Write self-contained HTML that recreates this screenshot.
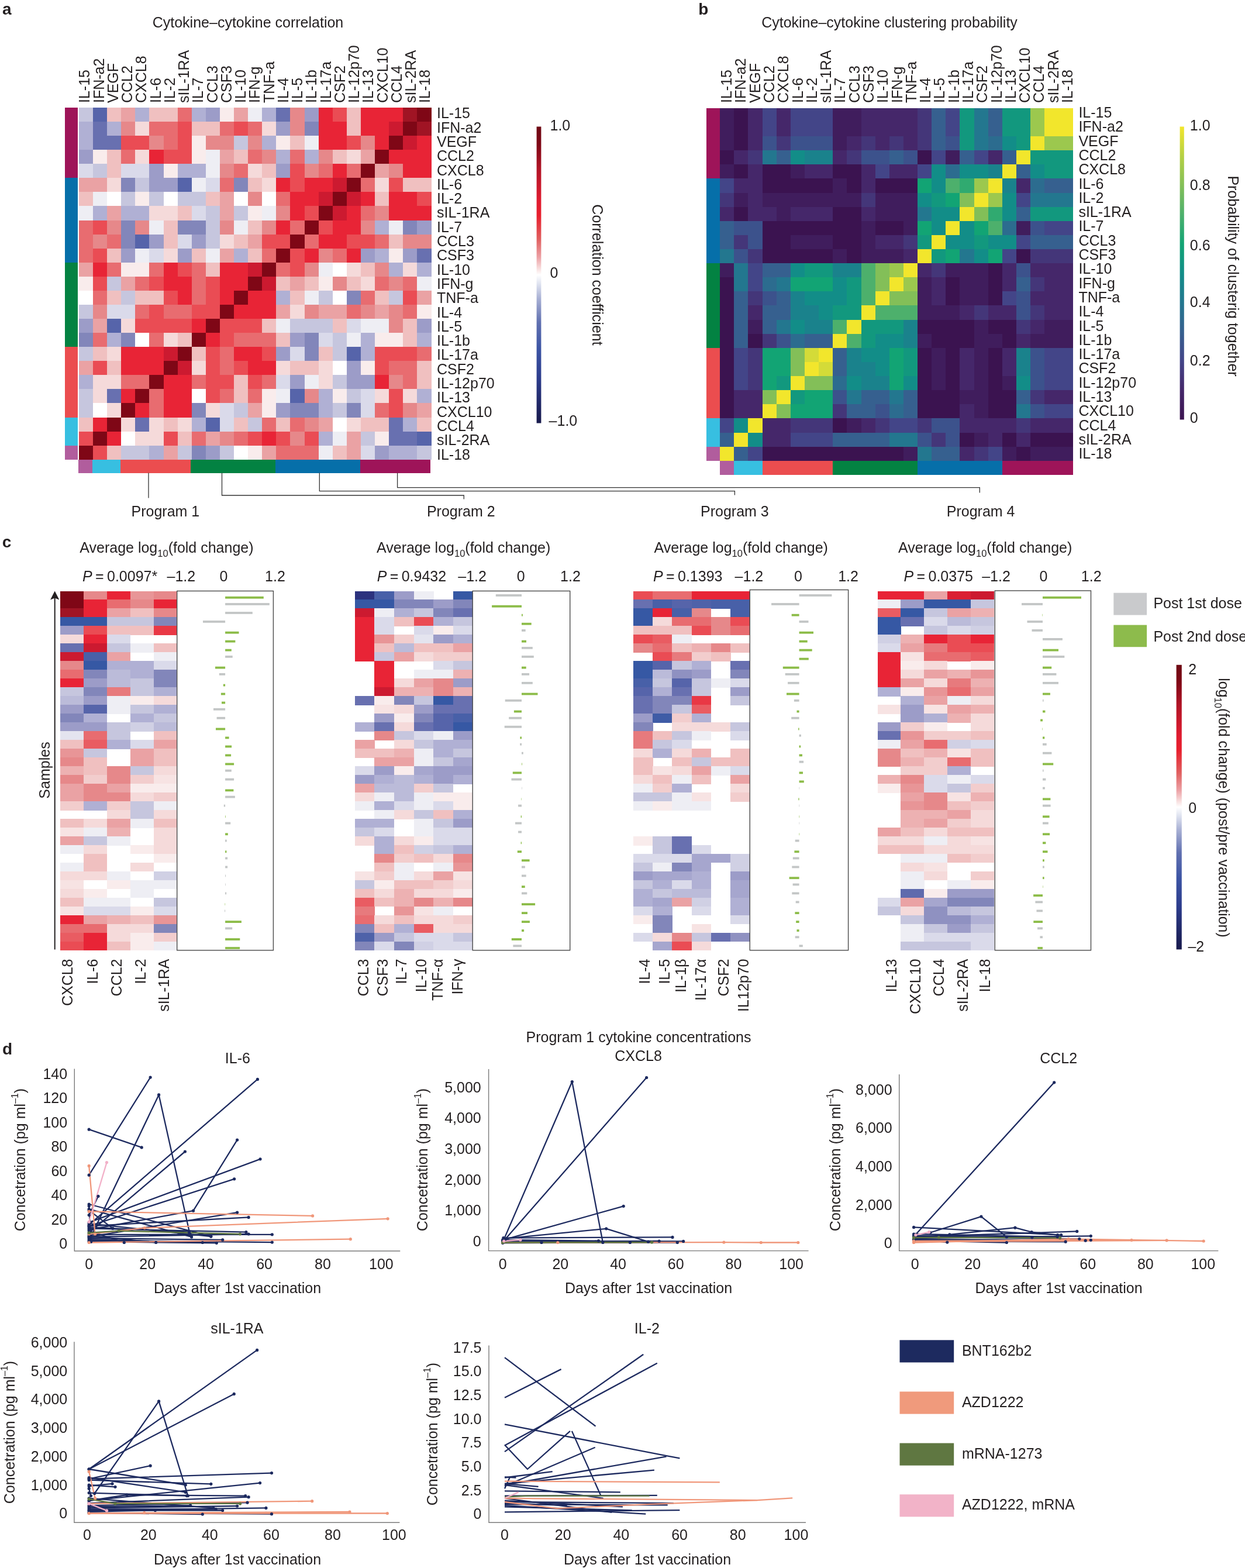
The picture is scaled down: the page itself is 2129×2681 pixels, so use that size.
<!DOCTYPE html>
<html lang="en"><head><meta charset="utf-8"><title>Cytokine programs after vaccination</title>
<style>html,body{margin:0;padding:0;background:#fff}body{width:2129px;height:2681px;overflow:hidden}svg{display:block}text{white-space:pre}</style>
</head><body>
<svg width="2129" height="2681" viewBox="0 0 2129 2681" font-family="'Liberation Sans', Arial, Helvetica, sans-serif">
<rect width="2129" height="2681" fill="#fff"/>
<defs>
<linearGradient id="gRB" x1="0" y1="0" x2="0" y2="1">
<stop offset="0" stop-color="#6e0a14"/><stop offset="0.06" stop-color="#7f0716"/><stop offset="0.14" stop-color="#b01426"/><stop offset="0.25" stop-color="#e01c30"/><stop offset="0.30" stop-color="#e8202e"/><stop offset="0.38" stop-color="#e06060"/><stop offset="0.44" stop-color="#eca0a4"/><stop offset="0.48" stop-color="#f8e0e0"/><stop offset="0.5" stop-color="#ffffff"/><stop offset="0.53" stop-color="#dfe3f0"/><stop offset="0.58" stop-color="#a8b0d4"/><stop offset="0.66" stop-color="#6070b0"/><stop offset="0.75" stop-color="#3c54a4"/><stop offset="0.85" stop-color="#2c3c8c"/><stop offset="0.95" stop-color="#1e2460"/><stop offset="1" stop-color="#181a4c"/>
</linearGradient>
<linearGradient id="gV" x1="0" y1="1" x2="0" y2="0">
<stop offset="0.0" stop-color="#3b1350"/><stop offset="0.1" stop-color="#45276a"/><stop offset="0.2" stop-color="#434588"/><stop offset="0.3" stop-color="#36608f"/><stop offset="0.4" stop-color="#23778f"/><stop offset="0.5" stop-color="#128d88"/><stop offset="0.6" stop-color="#12a474"/><stop offset="0.7" stop-color="#4db06c"/><stop offset="0.8" stop-color="#83bf58"/><stop offset="0.9" stop-color="#b5d044"/><stop offset="1.0" stop-color="#f2e62c"/>
</linearGradient>
</defs>
<text x="4.00" y="24.60" font-size="28" font-weight="bold" fill="#231f20">a</text>
<text x="424.00" y="46.70" font-size="25" text-anchor="middle" fill="#231f20">Cytokine–cytokine correlation</text>
<g shape-rendering="crispEdges">
<rect x="134.90" y="184.00" width="24.70" height="24.67" fill="#c6c6de"/>
<rect x="159.00" y="184.00" width="24.70" height="24.67" fill="#5664aa"/>
<rect x="183.10" y="184.00" width="24.70" height="24.67" fill="#f0c0c0"/>
<rect x="207.20" y="184.00" width="24.70" height="24.67" fill="#eaa2a4"/>
<rect x="231.30" y="184.00" width="24.70" height="24.67" fill="#b0b0d4"/>
<rect x="255.40" y="184.00" width="48.80" height="24.67" fill="#f0c0c0"/>
<rect x="303.60" y="184.00" width="24.70" height="24.67" fill="#e86c70"/>
<rect x="327.70" y="184.00" width="24.70" height="24.67" fill="#b0b0d4"/>
<rect x="351.80" y="184.00" width="24.70" height="24.67" fill="#9c9cc8"/>
<rect x="375.90" y="184.00" width="24.70" height="24.67" fill="#f9ecec"/>
<rect x="400.00" y="184.00" width="24.70" height="24.67" fill="#eaa2a4"/>
<rect x="424.10" y="184.00" width="24.70" height="24.67" fill="#eeeef4"/>
<rect x="448.20" y="184.00" width="24.70" height="24.67" fill="#b0b0d4"/>
<rect x="472.30" y="184.00" width="24.70" height="24.67" fill="#6870b0"/>
<rect x="496.40" y="184.00" width="24.70" height="24.67" fill="#e6888a"/>
<rect x="520.50" y="184.00" width="24.70" height="24.67" fill="#9c9cc8"/>
<rect x="544.60" y="184.00" width="24.70" height="24.67" fill="#e82436"/>
<rect x="568.70" y="184.00" width="24.70" height="24.67" fill="#ea4c54"/>
<rect x="592.80" y="184.00" width="24.70" height="24.67" fill="#f0c0c0"/>
<rect x="616.90" y="184.00" width="72.90" height="24.67" fill="#e82436"/>
<rect x="689.20" y="184.00" width="24.70" height="24.67" fill="#a01424"/>
<rect x="713.30" y="184.00" width="24.70" height="24.67" fill="#7f0716"/>
<rect x="134.90" y="208.07" width="24.70" height="24.67" fill="#b0b0d4"/>
<rect x="159.00" y="208.07" width="24.70" height="24.67" fill="#6870b0"/>
<rect x="183.10" y="208.07" width="24.70" height="24.67" fill="#b0b0d4"/>
<rect x="207.20" y="208.07" width="24.70" height="24.67" fill="#e6888a"/>
<rect x="231.30" y="208.07" width="24.70" height="24.67" fill="#f5dada"/>
<rect x="255.40" y="208.07" width="48.80" height="24.67" fill="#e86c70"/>
<rect x="303.60" y="208.07" width="24.70" height="24.67" fill="#ea4c54"/>
<rect x="327.70" y="208.07" width="48.80" height="24.67" fill="#f0c0c0"/>
<rect x="375.90" y="208.07" width="24.70" height="24.67" fill="#e86c70"/>
<rect x="400.00" y="208.07" width="24.70" height="24.67" fill="#ea4c54"/>
<rect x="424.10" y="208.07" width="24.70" height="24.67" fill="#e86c70"/>
<rect x="448.20" y="208.07" width="24.70" height="24.67" fill="#f5dada"/>
<rect x="472.30" y="208.07" width="24.70" height="24.67" fill="#9c9cc8"/>
<rect x="496.40" y="208.07" width="24.70" height="24.67" fill="#e6888a"/>
<rect x="520.50" y="208.07" width="24.70" height="24.67" fill="#8286ba"/>
<rect x="544.60" y="208.07" width="48.80" height="24.67" fill="#e82436"/>
<rect x="592.80" y="208.07" width="24.70" height="24.67" fill="#f0c0c0"/>
<rect x="616.90" y="208.07" width="48.80" height="24.67" fill="#e82436"/>
<rect x="665.10" y="208.07" width="24.70" height="24.67" fill="#cc1a30"/>
<rect x="689.20" y="208.07" width="24.70" height="24.67" fill="#7f0716"/>
<rect x="713.30" y="208.07" width="24.70" height="24.67" fill="#a01424"/>
<rect x="134.90" y="232.14" width="24.70" height="24.67" fill="#b0b0d4"/>
<rect x="159.00" y="232.14" width="48.80" height="24.67" fill="#6870b0"/>
<rect x="207.20" y="232.14" width="48.80" height="24.67" fill="#ea4c54"/>
<rect x="255.40" y="232.14" width="24.70" height="24.67" fill="#e6888a"/>
<rect x="279.50" y="232.14" width="24.70" height="24.67" fill="#e86c70"/>
<rect x="303.60" y="232.14" width="24.70" height="24.67" fill="#ea4c54"/>
<rect x="327.70" y="232.14" width="24.70" height="24.67" fill="#f9ecec"/>
<rect x="351.80" y="232.14" width="48.80" height="24.67" fill="#e6888a"/>
<rect x="400.00" y="232.14" width="24.70" height="24.67" fill="#c6c6de"/>
<rect x="424.10" y="232.14" width="24.70" height="24.67" fill="#e6888a"/>
<rect x="448.20" y="232.14" width="24.70" height="24.67" fill="#b0b0d4"/>
<rect x="472.30" y="232.14" width="24.70" height="24.67" fill="#f9ecec"/>
<rect x="496.40" y="232.14" width="24.70" height="24.67" fill="#f0c0c0"/>
<rect x="520.50" y="232.14" width="24.70" height="24.67" fill="#eeeef4"/>
<rect x="544.60" y="232.14" width="48.80" height="24.67" fill="#e82436"/>
<rect x="592.80" y="232.14" width="24.70" height="24.67" fill="#ea4c54"/>
<rect x="616.90" y="232.14" width="24.70" height="24.67" fill="#e6888a"/>
<rect x="641.00" y="232.14" width="24.70" height="24.67" fill="#e82436"/>
<rect x="665.10" y="232.14" width="24.70" height="24.67" fill="#7f0716"/>
<rect x="689.20" y="232.14" width="24.70" height="24.67" fill="#cc1a30"/>
<rect x="713.30" y="232.14" width="24.70" height="24.67" fill="#e82436"/>
<rect x="134.90" y="256.21" width="24.70" height="24.67" fill="#9c9cc8"/>
<rect x="159.00" y="256.21" width="24.70" height="24.67" fill="#f9ecec"/>
<rect x="183.10" y="256.21" width="24.70" height="24.67" fill="#f0c0c0"/>
<rect x="207.20" y="256.21" width="24.70" height="24.67" fill="#e86c70"/>
<rect x="231.30" y="256.21" width="24.70" height="24.67" fill="#f5dada"/>
<rect x="255.40" y="256.21" width="24.70" height="24.67" fill="#e82436"/>
<rect x="279.50" y="256.21" width="48.80" height="24.67" fill="#ea4c54"/>
<rect x="327.70" y="256.21" width="24.70" height="24.67" fill="#f9ecec"/>
<rect x="351.80" y="256.21" width="24.70" height="24.67" fill="#eeeef4"/>
<rect x="375.90" y="256.21" width="24.70" height="24.67" fill="#eaa2a4"/>
<rect x="400.00" y="256.21" width="24.70" height="24.67" fill="#f0c0c0"/>
<rect x="424.10" y="256.21" width="24.70" height="24.67" fill="#e86c70"/>
<rect x="448.20" y="256.21" width="24.70" height="24.67" fill="#e6888a"/>
<rect x="472.30" y="256.21" width="24.70" height="24.67" fill="#b0b0d4"/>
<rect x="496.40" y="256.21" width="24.70" height="24.67" fill="#e86c70"/>
<rect x="520.50" y="256.21" width="24.70" height="24.67" fill="#b0b0d4"/>
<rect x="544.60" y="256.21" width="24.70" height="24.67" fill="#e6888a"/>
<rect x="568.70" y="256.21" width="24.70" height="24.67" fill="#f0c0c0"/>
<rect x="592.80" y="256.21" width="24.70" height="24.67" fill="#f5dada"/>
<rect x="616.90" y="256.21" width="24.70" height="24.67" fill="#eaa2a4"/>
<rect x="641.00" y="256.21" width="24.70" height="24.67" fill="#7f0716"/>
<rect x="665.10" y="256.21" width="72.90" height="24.67" fill="#e82436"/>
<rect x="134.90" y="280.28" width="24.70" height="24.67" fill="#dadaea"/>
<rect x="159.00" y="280.28" width="24.70" height="24.67" fill="#c6c6de"/>
<rect x="183.10" y="280.28" width="24.70" height="24.67" fill="#f0c0c0"/>
<rect x="207.20" y="280.28" width="48.80" height="24.67" fill="#dadaea"/>
<rect x="255.40" y="280.28" width="24.70" height="24.67" fill="#9c9cc8"/>
<rect x="279.50" y="280.28" width="24.70" height="24.67" fill="#f9ecec"/>
<rect x="303.60" y="280.28" width="48.80" height="24.67" fill="#b0b0d4"/>
<rect x="351.80" y="280.28" width="24.70" height="24.67" fill="#eeeef4"/>
<rect x="375.90" y="280.28" width="24.70" height="24.67" fill="#e6888a"/>
<rect x="400.00" y="280.28" width="24.70" height="24.67" fill="#e86c70"/>
<rect x="424.10" y="280.28" width="24.70" height="24.67" fill="#f5dada"/>
<rect x="448.20" y="280.28" width="24.70" height="24.67" fill="#f0c0c0"/>
<rect x="472.30" y="280.28" width="24.70" height="24.67" fill="#9c9cc8"/>
<rect x="496.40" y="280.28" width="24.70" height="24.67" fill="#ea4c54"/>
<rect x="520.50" y="280.28" width="24.70" height="24.67" fill="#e6888a"/>
<rect x="544.60" y="280.28" width="24.70" height="24.67" fill="#e86c70"/>
<rect x="568.70" y="280.28" width="24.70" height="24.67" fill="#e82436"/>
<rect x="592.80" y="280.28" width="24.70" height="24.67" fill="#e86c70"/>
<rect x="616.90" y="280.28" width="24.70" height="24.67" fill="#7f0716"/>
<rect x="641.00" y="280.28" width="24.70" height="24.67" fill="#eaa2a4"/>
<rect x="665.10" y="280.28" width="24.70" height="24.67" fill="#e6888a"/>
<rect x="689.20" y="280.28" width="48.80" height="24.67" fill="#e82436"/>
<rect x="134.90" y="304.35" width="48.80" height="24.67" fill="#eaa2a4"/>
<rect x="183.10" y="304.35" width="24.70" height="24.67" fill="#f5dada"/>
<rect x="207.20" y="304.35" width="24.70" height="24.67" fill="#8286ba"/>
<rect x="231.30" y="304.35" width="24.70" height="24.67" fill="#c6c6de"/>
<rect x="255.40" y="304.35" width="48.80" height="24.67" fill="#9c9cc8"/>
<rect x="303.60" y="304.35" width="24.70" height="24.67" fill="#5664aa"/>
<rect x="327.70" y="304.35" width="24.70" height="24.67" fill="#eeeef4"/>
<rect x="351.80" y="304.35" width="24.70" height="24.67" fill="#dadaea"/>
<rect x="375.90" y="304.35" width="24.70" height="24.67" fill="#e86c70"/>
<rect x="400.00" y="304.35" width="24.70" height="24.67" fill="#8286ba"/>
<rect x="424.10" y="304.35" width="24.70" height="24.67" fill="#f0c0c0"/>
<rect x="448.20" y="304.35" width="24.70" height="24.67" fill="#f5dada"/>
<rect x="472.30" y="304.35" width="24.70" height="24.67" fill="#e82436"/>
<rect x="496.40" y="304.35" width="24.70" height="24.67" fill="#ea4c54"/>
<rect x="520.50" y="304.35" width="48.80" height="24.67" fill="#e82436"/>
<rect x="568.70" y="304.35" width="24.70" height="24.67" fill="#cc1a30"/>
<rect x="592.80" y="304.35" width="24.70" height="24.67" fill="#7f0716"/>
<rect x="616.90" y="304.35" width="24.70" height="24.67" fill="#e86c70"/>
<rect x="641.00" y="304.35" width="24.70" height="24.67" fill="#f5dada"/>
<rect x="665.10" y="304.35" width="24.70" height="24.67" fill="#ea4c54"/>
<rect x="689.20" y="304.35" width="48.80" height="24.67" fill="#f0c0c0"/>
<rect x="134.90" y="328.42" width="24.70" height="24.67" fill="#f0c0c0"/>
<rect x="159.00" y="328.42" width="24.70" height="24.67" fill="#eeeef4"/>
<rect x="183.10" y="328.42" width="24.70" height="24.67" fill="#ffffff"/>
<rect x="207.20" y="328.42" width="24.70" height="24.67" fill="#c6c6de"/>
<rect x="231.30" y="328.42" width="24.70" height="24.67" fill="#f9ecec"/>
<rect x="255.40" y="328.42" width="24.70" height="24.67" fill="#c6c6de"/>
<rect x="279.50" y="328.42" width="24.70" height="24.67" fill="#ffffff"/>
<rect x="303.60" y="328.42" width="48.80" height="24.67" fill="#c6c6de"/>
<rect x="351.80" y="328.42" width="24.70" height="24.67" fill="#f0c0c0"/>
<rect x="375.90" y="328.42" width="24.70" height="24.67" fill="#eaa2a4"/>
<rect x="400.00" y="328.42" width="24.70" height="24.67" fill="#ffffff"/>
<rect x="424.10" y="328.42" width="24.70" height="24.67" fill="#e6888a"/>
<rect x="448.20" y="328.42" width="24.70" height="24.67" fill="#ffffff"/>
<rect x="472.30" y="328.42" width="24.70" height="24.67" fill="#e86c70"/>
<rect x="496.40" y="328.42" width="48.80" height="24.67" fill="#e82436"/>
<rect x="544.60" y="328.42" width="24.70" height="24.67" fill="#cc1a30"/>
<rect x="568.70" y="328.42" width="24.70" height="24.67" fill="#7f0716"/>
<rect x="592.80" y="328.42" width="24.70" height="24.67" fill="#cc1a30"/>
<rect x="616.90" y="328.42" width="24.70" height="24.67" fill="#e82436"/>
<rect x="641.00" y="328.42" width="24.70" height="24.67" fill="#f0c0c0"/>
<rect x="665.10" y="328.42" width="48.80" height="24.67" fill="#e82436"/>
<rect x="713.30" y="328.42" width="24.70" height="24.67" fill="#ea4c54"/>
<rect x="134.90" y="352.49" width="24.70" height="24.67" fill="#eeeef4"/>
<rect x="159.00" y="352.49" width="24.70" height="24.67" fill="#b0b0d4"/>
<rect x="183.10" y="352.49" width="24.70" height="24.67" fill="#eaa2a4"/>
<rect x="207.20" y="352.49" width="48.80" height="24.67" fill="#b0b0d4"/>
<rect x="255.40" y="352.49" width="48.80" height="24.67" fill="#f5dada"/>
<rect x="303.60" y="352.49" width="24.70" height="24.67" fill="#f0c0c0"/>
<rect x="327.70" y="352.49" width="24.70" height="24.67" fill="#dadaea"/>
<rect x="351.80" y="352.49" width="24.70" height="24.67" fill="#c6c6de"/>
<rect x="375.90" y="352.49" width="24.70" height="24.67" fill="#eaa2a4"/>
<rect x="400.00" y="352.49" width="24.70" height="24.67" fill="#c6c6de"/>
<rect x="424.10" y="352.49" width="24.70" height="24.67" fill="#f9ecec"/>
<rect x="448.20" y="352.49" width="24.70" height="24.67" fill="#eeeef4"/>
<rect x="472.30" y="352.49" width="24.70" height="24.67" fill="#e6888a"/>
<rect x="496.40" y="352.49" width="24.70" height="24.67" fill="#e82436"/>
<rect x="520.50" y="352.49" width="24.70" height="24.67" fill="#ea4c54"/>
<rect x="544.60" y="352.49" width="24.70" height="24.67" fill="#7f0716"/>
<rect x="568.70" y="352.49" width="24.70" height="24.67" fill="#cc1a30"/>
<rect x="592.80" y="352.49" width="24.70" height="24.67" fill="#e82436"/>
<rect x="616.90" y="352.49" width="24.70" height="24.67" fill="#e86c70"/>
<rect x="641.00" y="352.49" width="24.70" height="24.67" fill="#e6888a"/>
<rect x="665.10" y="352.49" width="72.90" height="24.67" fill="#e82436"/>
<rect x="134.90" y="376.56" width="24.70" height="24.67" fill="#e86c70"/>
<rect x="159.00" y="376.56" width="24.70" height="24.67" fill="#ea4c54"/>
<rect x="183.10" y="376.56" width="24.70" height="24.67" fill="#e6888a"/>
<rect x="207.20" y="376.56" width="24.70" height="24.67" fill="#8286ba"/>
<rect x="231.30" y="376.56" width="24.70" height="24.67" fill="#e6888a"/>
<rect x="255.40" y="376.56" width="24.70" height="24.67" fill="#eeeef4"/>
<rect x="279.50" y="376.56" width="24.70" height="24.67" fill="#f0c0c0"/>
<rect x="303.60" y="376.56" width="48.80" height="24.67" fill="#8286ba"/>
<rect x="351.80" y="376.56" width="24.70" height="24.67" fill="#c6c6de"/>
<rect x="375.90" y="376.56" width="24.70" height="24.67" fill="#e6888a"/>
<rect x="400.00" y="376.56" width="24.70" height="24.67" fill="#eeeef4"/>
<rect x="424.10" y="376.56" width="24.70" height="24.67" fill="#f0c0c0"/>
<rect x="448.20" y="376.56" width="24.70" height="24.67" fill="#e6888a"/>
<rect x="472.30" y="376.56" width="24.70" height="24.67" fill="#e82436"/>
<rect x="496.40" y="376.56" width="24.70" height="24.67" fill="#e86c70"/>
<rect x="520.50" y="376.56" width="24.70" height="24.67" fill="#7f0716"/>
<rect x="544.60" y="376.56" width="24.70" height="24.67" fill="#ea4c54"/>
<rect x="568.70" y="376.56" width="48.80" height="24.67" fill="#e82436"/>
<rect x="616.90" y="376.56" width="24.70" height="24.67" fill="#e6888a"/>
<rect x="641.00" y="376.56" width="24.70" height="24.67" fill="#b0b0d4"/>
<rect x="665.10" y="376.56" width="24.70" height="24.67" fill="#eeeef4"/>
<rect x="689.20" y="376.56" width="24.70" height="24.67" fill="#8286ba"/>
<rect x="713.30" y="376.56" width="24.70" height="24.67" fill="#9c9cc8"/>
<rect x="134.90" y="400.63" width="24.70" height="24.67" fill="#e86c70"/>
<rect x="159.00" y="400.63" width="24.70" height="24.67" fill="#e6888a"/>
<rect x="183.10" y="400.63" width="24.70" height="24.67" fill="#e86c70"/>
<rect x="207.20" y="400.63" width="24.70" height="24.67" fill="#8286ba"/>
<rect x="231.30" y="400.63" width="24.70" height="24.67" fill="#5664aa"/>
<rect x="255.40" y="400.63" width="24.70" height="24.67" fill="#9c9cc8"/>
<rect x="279.50" y="400.63" width="24.70" height="24.67" fill="#f0c0c0"/>
<rect x="303.60" y="400.63" width="24.70" height="24.67" fill="#dadaea"/>
<rect x="327.70" y="400.63" width="24.70" height="24.67" fill="#9c9cc8"/>
<rect x="351.80" y="400.63" width="24.70" height="24.67" fill="#c6c6de"/>
<rect x="375.90" y="400.63" width="24.70" height="24.67" fill="#f5dada"/>
<rect x="400.00" y="400.63" width="24.70" height="24.67" fill="#f0c0c0"/>
<rect x="424.10" y="400.63" width="24.70" height="24.67" fill="#eaa2a4"/>
<rect x="448.20" y="400.63" width="48.80" height="24.67" fill="#ea4c54"/>
<rect x="496.40" y="400.63" width="24.70" height="24.67" fill="#7f0716"/>
<rect x="520.50" y="400.63" width="24.70" height="24.67" fill="#e86c70"/>
<rect x="544.60" y="400.63" width="48.80" height="24.67" fill="#e82436"/>
<rect x="592.80" y="400.63" width="48.80" height="24.67" fill="#ea4c54"/>
<rect x="641.00" y="400.63" width="24.70" height="24.67" fill="#e86c70"/>
<rect x="665.10" y="400.63" width="24.70" height="24.67" fill="#f0c0c0"/>
<rect x="689.20" y="400.63" width="48.80" height="24.67" fill="#e6888a"/>
<rect x="134.90" y="424.70" width="24.70" height="24.67" fill="#e86c70"/>
<rect x="159.00" y="424.70" width="24.70" height="24.67" fill="#ea4c54"/>
<rect x="183.10" y="424.70" width="24.70" height="24.67" fill="#f0c0c0"/>
<rect x="207.20" y="424.70" width="24.70" height="24.67" fill="#9c9cc8"/>
<rect x="231.30" y="424.70" width="24.70" height="24.67" fill="#eeeef4"/>
<rect x="255.40" y="424.70" width="24.70" height="24.67" fill="#dadaea"/>
<rect x="279.50" y="424.70" width="24.70" height="24.67" fill="#f5dada"/>
<rect x="303.60" y="424.70" width="24.70" height="24.67" fill="#9c9cc8"/>
<rect x="327.70" y="424.70" width="24.70" height="24.67" fill="#f0c0c0"/>
<rect x="351.80" y="424.70" width="24.70" height="24.67" fill="#eeeef4"/>
<rect x="375.90" y="424.70" width="24.70" height="24.67" fill="#eaa2a4"/>
<rect x="400.00" y="424.70" width="24.70" height="24.67" fill="#b0b0d4"/>
<rect x="424.10" y="424.70" width="24.70" height="24.67" fill="#f0c0c0"/>
<rect x="448.20" y="424.70" width="24.70" height="24.67" fill="#e86c70"/>
<rect x="472.30" y="424.70" width="24.70" height="24.67" fill="#7f0716"/>
<rect x="496.40" y="424.70" width="24.70" height="24.67" fill="#ea4c54"/>
<rect x="520.50" y="424.70" width="24.70" height="24.67" fill="#e82436"/>
<rect x="544.60" y="424.70" width="24.70" height="24.67" fill="#e6888a"/>
<rect x="568.70" y="424.70" width="24.70" height="24.67" fill="#e86c70"/>
<rect x="592.80" y="424.70" width="24.70" height="24.67" fill="#e82436"/>
<rect x="616.90" y="424.70" width="24.70" height="24.67" fill="#9c9cc8"/>
<rect x="641.00" y="424.70" width="24.70" height="24.67" fill="#b0b0d4"/>
<rect x="665.10" y="424.70" width="24.70" height="24.67" fill="#f9ecec"/>
<rect x="689.20" y="424.70" width="24.70" height="24.67" fill="#9c9cc8"/>
<rect x="713.30" y="424.70" width="24.70" height="24.67" fill="#6870b0"/>
<rect x="134.90" y="448.77" width="24.70" height="24.67" fill="#eaa2a4"/>
<rect x="159.00" y="448.77" width="24.70" height="24.67" fill="#e82436"/>
<rect x="183.10" y="448.77" width="24.70" height="24.67" fill="#e86c70"/>
<rect x="207.20" y="448.77" width="48.80" height="24.67" fill="#f9ecec"/>
<rect x="255.40" y="448.77" width="24.70" height="24.67" fill="#e86c70"/>
<rect x="279.50" y="448.77" width="24.70" height="24.67" fill="#e82436"/>
<rect x="303.60" y="448.77" width="24.70" height="24.67" fill="#ea4c54"/>
<rect x="327.70" y="448.77" width="24.70" height="24.67" fill="#e86c70"/>
<rect x="351.80" y="448.77" width="24.70" height="24.67" fill="#f0c0c0"/>
<rect x="375.90" y="448.77" width="48.80" height="24.67" fill="#e82436"/>
<rect x="424.10" y="448.77" width="24.70" height="24.67" fill="#cc1a30"/>
<rect x="448.20" y="448.77" width="24.70" height="24.67" fill="#7f0716"/>
<rect x="472.30" y="448.77" width="24.70" height="24.67" fill="#e86c70"/>
<rect x="496.40" y="448.77" width="24.70" height="24.67" fill="#ea4c54"/>
<rect x="520.50" y="448.77" width="24.70" height="24.67" fill="#e6888a"/>
<rect x="544.60" y="448.77" width="24.70" height="24.67" fill="#eeeef4"/>
<rect x="568.70" y="448.77" width="24.70" height="24.67" fill="#ffffff"/>
<rect x="592.80" y="448.77" width="24.70" height="24.67" fill="#f5dada"/>
<rect x="616.90" y="448.77" width="24.70" height="24.67" fill="#f0c0c0"/>
<rect x="641.00" y="448.77" width="24.70" height="24.67" fill="#e6888a"/>
<rect x="665.10" y="448.77" width="24.70" height="24.67" fill="#b0b0d4"/>
<rect x="689.20" y="448.77" width="24.70" height="24.67" fill="#f5dada"/>
<rect x="713.30" y="448.77" width="24.70" height="24.67" fill="#b0b0d4"/>
<rect x="134.90" y="472.84" width="24.70" height="24.67" fill="#f9ecec"/>
<rect x="159.00" y="472.84" width="24.70" height="24.67" fill="#ea4c54"/>
<rect x="183.10" y="472.84" width="24.70" height="24.67" fill="#c6c6de"/>
<rect x="207.20" y="472.84" width="24.70" height="24.67" fill="#eaa2a4"/>
<rect x="231.30" y="472.84" width="24.70" height="24.67" fill="#e86c70"/>
<rect x="255.40" y="472.84" width="24.70" height="24.67" fill="#ea4c54"/>
<rect x="279.50" y="472.84" width="48.80" height="24.67" fill="#e82436"/>
<rect x="327.70" y="472.84" width="24.70" height="24.67" fill="#e86c70"/>
<rect x="351.80" y="472.84" width="24.70" height="24.67" fill="#ea4c54"/>
<rect x="375.90" y="472.84" width="48.80" height="24.67" fill="#e82436"/>
<rect x="424.10" y="472.84" width="24.70" height="24.67" fill="#7f0716"/>
<rect x="448.20" y="472.84" width="24.70" height="24.67" fill="#cc1a30"/>
<rect x="472.30" y="472.84" width="24.70" height="24.67" fill="#f0c0c0"/>
<rect x="496.40" y="472.84" width="24.70" height="24.67" fill="#eaa2a4"/>
<rect x="520.50" y="472.84" width="24.70" height="24.67" fill="#f0c0c0"/>
<rect x="544.60" y="472.84" width="24.70" height="24.67" fill="#f9ecec"/>
<rect x="568.70" y="472.84" width="24.70" height="24.67" fill="#e6888a"/>
<rect x="592.80" y="472.84" width="24.70" height="24.67" fill="#f0c0c0"/>
<rect x="616.90" y="472.84" width="24.70" height="24.67" fill="#f5dada"/>
<rect x="641.00" y="472.84" width="24.70" height="24.67" fill="#e86c70"/>
<rect x="665.10" y="472.84" width="24.70" height="24.67" fill="#e6888a"/>
<rect x="689.20" y="472.84" width="24.70" height="24.67" fill="#e86c70"/>
<rect x="713.30" y="472.84" width="24.70" height="24.67" fill="#eeeef4"/>
<rect x="134.90" y="496.91" width="24.70" height="24.67" fill="#ffffff"/>
<rect x="159.00" y="496.91" width="24.70" height="24.67" fill="#e86c70"/>
<rect x="183.10" y="496.91" width="24.70" height="24.67" fill="#f0c0c0"/>
<rect x="207.20" y="496.91" width="24.70" height="24.67" fill="#c6c6de"/>
<rect x="231.30" y="496.91" width="48.80" height="24.67" fill="#f0c0c0"/>
<rect x="279.50" y="496.91" width="24.70" height="24.67" fill="#ea4c54"/>
<rect x="303.60" y="496.91" width="24.70" height="24.67" fill="#e82436"/>
<rect x="327.70" y="496.91" width="24.70" height="24.67" fill="#e86c70"/>
<rect x="351.80" y="496.91" width="24.70" height="24.67" fill="#ea4c54"/>
<rect x="375.90" y="496.91" width="24.70" height="24.67" fill="#e82436"/>
<rect x="400.00" y="496.91" width="24.70" height="24.67" fill="#7f0716"/>
<rect x="424.10" y="496.91" width="48.80" height="24.67" fill="#e82436"/>
<rect x="472.30" y="496.91" width="24.70" height="24.67" fill="#b0b0d4"/>
<rect x="496.40" y="496.91" width="24.70" height="24.67" fill="#f0c0c0"/>
<rect x="520.50" y="496.91" width="24.70" height="24.67" fill="#eeeef4"/>
<rect x="544.60" y="496.91" width="24.70" height="24.67" fill="#c6c6de"/>
<rect x="568.70" y="496.91" width="24.70" height="24.67" fill="#ffffff"/>
<rect x="592.80" y="496.91" width="24.70" height="24.67" fill="#8286ba"/>
<rect x="616.90" y="496.91" width="24.70" height="24.67" fill="#e86c70"/>
<rect x="641.00" y="496.91" width="24.70" height="24.67" fill="#f0c0c0"/>
<rect x="665.10" y="496.91" width="24.70" height="24.67" fill="#c6c6de"/>
<rect x="689.20" y="496.91" width="24.70" height="24.67" fill="#ea4c54"/>
<rect x="713.30" y="496.91" width="24.70" height="24.67" fill="#eaa2a4"/>
<rect x="134.90" y="520.98" width="24.70" height="24.67" fill="#c6c6de"/>
<rect x="159.00" y="520.98" width="24.70" height="24.67" fill="#e6888a"/>
<rect x="183.10" y="520.98" width="48.80" height="24.67" fill="#dadaea"/>
<rect x="231.30" y="520.98" width="24.70" height="24.67" fill="#e86c70"/>
<rect x="255.40" y="520.98" width="24.70" height="24.67" fill="#ea4c54"/>
<rect x="279.50" y="520.98" width="48.80" height="24.67" fill="#e86c70"/>
<rect x="327.70" y="520.98" width="48.80" height="24.67" fill="#ea4c54"/>
<rect x="375.90" y="520.98" width="24.70" height="24.67" fill="#7f0716"/>
<rect x="400.00" y="520.98" width="72.90" height="24.67" fill="#e82436"/>
<rect x="472.30" y="520.98" width="24.70" height="24.67" fill="#eaa2a4"/>
<rect x="496.40" y="520.98" width="24.70" height="24.67" fill="#f5dada"/>
<rect x="520.50" y="520.98" width="24.70" height="24.67" fill="#e6888a"/>
<rect x="544.60" y="520.98" width="48.80" height="24.67" fill="#eaa2a4"/>
<rect x="592.80" y="520.98" width="24.70" height="24.67" fill="#e86c70"/>
<rect x="616.90" y="520.98" width="24.70" height="24.67" fill="#e6888a"/>
<rect x="641.00" y="520.98" width="24.70" height="24.67" fill="#eaa2a4"/>
<rect x="665.10" y="520.98" width="24.70" height="24.67" fill="#e6888a"/>
<rect x="689.20" y="520.98" width="24.70" height="24.67" fill="#e86c70"/>
<rect x="713.30" y="520.98" width="24.70" height="24.67" fill="#f9ecec"/>
<rect x="134.90" y="545.05" width="24.70" height="24.67" fill="#9c9cc8"/>
<rect x="159.00" y="545.05" width="24.70" height="24.67" fill="#eaa2a4"/>
<rect x="183.10" y="545.05" width="24.70" height="24.67" fill="#5664aa"/>
<rect x="207.20" y="545.05" width="24.70" height="24.67" fill="#f5dada"/>
<rect x="231.30" y="545.05" width="97.00" height="24.67" fill="#ea4c54"/>
<rect x="327.70" y="545.05" width="24.70" height="24.67" fill="#e82436"/>
<rect x="351.80" y="545.05" width="24.70" height="24.67" fill="#7f0716"/>
<rect x="375.90" y="545.05" width="72.90" height="24.67" fill="#ea4c54"/>
<rect x="448.20" y="545.05" width="24.70" height="24.67" fill="#f0c0c0"/>
<rect x="472.30" y="545.05" width="24.70" height="24.67" fill="#eeeef4"/>
<rect x="496.40" y="545.05" width="72.90" height="24.67" fill="#c6c6de"/>
<rect x="568.70" y="545.05" width="24.70" height="24.67" fill="#f0c0c0"/>
<rect x="592.80" y="545.05" width="24.70" height="24.67" fill="#dadaea"/>
<rect x="616.90" y="545.05" width="48.80" height="24.67" fill="#eeeef4"/>
<rect x="665.10" y="545.05" width="24.70" height="24.67" fill="#e6888a"/>
<rect x="689.20" y="545.05" width="24.70" height="24.67" fill="#f0c0c0"/>
<rect x="713.30" y="545.05" width="24.70" height="24.67" fill="#9c9cc8"/>
<rect x="134.90" y="569.12" width="24.70" height="24.67" fill="#8286ba"/>
<rect x="159.00" y="569.12" width="24.70" height="24.67" fill="#e86c70"/>
<rect x="183.10" y="569.12" width="24.70" height="24.67" fill="#b0b0d4"/>
<rect x="207.20" y="569.12" width="24.70" height="24.67" fill="#8286ba"/>
<rect x="231.30" y="569.12" width="24.70" height="24.67" fill="#ffffff"/>
<rect x="255.40" y="569.12" width="24.70" height="24.67" fill="#e86c70"/>
<rect x="279.50" y="569.12" width="24.70" height="24.67" fill="#f5dada"/>
<rect x="303.60" y="569.12" width="24.70" height="24.67" fill="#f0c0c0"/>
<rect x="327.70" y="569.12" width="24.70" height="24.67" fill="#7f0716"/>
<rect x="351.80" y="569.12" width="24.70" height="24.67" fill="#e82436"/>
<rect x="375.90" y="569.12" width="24.70" height="24.67" fill="#ea4c54"/>
<rect x="400.00" y="569.12" width="72.90" height="24.67" fill="#e86c70"/>
<rect x="472.30" y="569.12" width="24.70" height="24.67" fill="#f0c0c0"/>
<rect x="496.40" y="569.12" width="24.70" height="24.67" fill="#9c9cc8"/>
<rect x="520.50" y="569.12" width="24.70" height="24.67" fill="#8286ba"/>
<rect x="544.60" y="569.12" width="24.70" height="24.67" fill="#dadaea"/>
<rect x="568.70" y="569.12" width="24.70" height="24.67" fill="#c6c6de"/>
<rect x="592.80" y="569.12" width="24.70" height="24.67" fill="#eeeef4"/>
<rect x="616.90" y="569.12" width="24.70" height="24.67" fill="#b0b0d4"/>
<rect x="641.00" y="569.12" width="48.80" height="24.67" fill="#f9ecec"/>
<rect x="689.20" y="569.12" width="24.70" height="24.67" fill="#f0c0c0"/>
<rect x="713.30" y="569.12" width="24.70" height="24.67" fill="#b0b0d4"/>
<rect x="134.90" y="593.19" width="24.70" height="24.67" fill="#c6c6de"/>
<rect x="159.00" y="593.19" width="24.70" height="24.67" fill="#f0c0c0"/>
<rect x="183.10" y="593.19" width="24.70" height="24.67" fill="#f5dada"/>
<rect x="207.20" y="593.19" width="72.90" height="24.67" fill="#e82436"/>
<rect x="279.50" y="593.19" width="24.70" height="24.67" fill="#cc1a30"/>
<rect x="303.60" y="593.19" width="24.70" height="24.67" fill="#7f0716"/>
<rect x="327.70" y="593.19" width="24.70" height="24.67" fill="#f0c0c0"/>
<rect x="351.80" y="593.19" width="24.70" height="24.67" fill="#ea4c54"/>
<rect x="375.90" y="593.19" width="24.70" height="24.67" fill="#e86c70"/>
<rect x="400.00" y="593.19" width="48.80" height="24.67" fill="#e82436"/>
<rect x="448.20" y="593.19" width="24.70" height="24.67" fill="#ea4c54"/>
<rect x="472.30" y="593.19" width="24.70" height="24.67" fill="#9c9cc8"/>
<rect x="496.40" y="593.19" width="24.70" height="24.67" fill="#dadaea"/>
<rect x="520.50" y="593.19" width="24.70" height="24.67" fill="#8286ba"/>
<rect x="544.60" y="593.19" width="24.70" height="24.67" fill="#f0c0c0"/>
<rect x="568.70" y="593.19" width="24.70" height="24.67" fill="#c6c6de"/>
<rect x="592.80" y="593.19" width="24.70" height="24.67" fill="#5664aa"/>
<rect x="616.90" y="593.19" width="24.70" height="24.67" fill="#b0b0d4"/>
<rect x="641.00" y="593.19" width="72.90" height="24.67" fill="#ea4c54"/>
<rect x="713.30" y="593.19" width="24.70" height="24.67" fill="#e86c70"/>
<rect x="134.90" y="617.26" width="24.70" height="24.67" fill="#eaa2a4"/>
<rect x="159.00" y="617.26" width="24.70" height="24.67" fill="#ea4c54"/>
<rect x="183.10" y="617.26" width="24.70" height="24.67" fill="#f0c0c0"/>
<rect x="207.20" y="617.26" width="72.90" height="24.67" fill="#e82436"/>
<rect x="279.50" y="617.26" width="24.70" height="24.67" fill="#7f0716"/>
<rect x="303.60" y="617.26" width="24.70" height="24.67" fill="#cc1a30"/>
<rect x="327.70" y="617.26" width="24.70" height="24.67" fill="#f5dada"/>
<rect x="351.80" y="617.26" width="24.70" height="24.67" fill="#ea4c54"/>
<rect x="375.90" y="617.26" width="24.70" height="24.67" fill="#e86c70"/>
<rect x="400.00" y="617.26" width="24.70" height="24.67" fill="#ea4c54"/>
<rect x="424.10" y="617.26" width="48.80" height="24.67" fill="#e82436"/>
<rect x="472.30" y="617.26" width="24.70" height="24.67" fill="#f5dada"/>
<rect x="496.40" y="617.26" width="48.80" height="24.67" fill="#f0c0c0"/>
<rect x="544.60" y="617.26" width="24.70" height="24.67" fill="#f5dada"/>
<rect x="568.70" y="617.26" width="24.70" height="24.67" fill="#ffffff"/>
<rect x="592.80" y="617.26" width="24.70" height="24.67" fill="#9c9cc8"/>
<rect x="616.90" y="617.26" width="24.70" height="24.67" fill="#f9ecec"/>
<rect x="641.00" y="617.26" width="24.70" height="24.67" fill="#ea4c54"/>
<rect x="665.10" y="617.26" width="48.80" height="24.67" fill="#e86c70"/>
<rect x="713.30" y="617.26" width="24.70" height="24.67" fill="#f0c0c0"/>
<rect x="134.90" y="641.33" width="24.70" height="24.67" fill="#b0b0d4"/>
<rect x="159.00" y="641.33" width="48.80" height="24.67" fill="#f5dada"/>
<rect x="207.20" y="641.33" width="48.80" height="24.67" fill="#e86c70"/>
<rect x="255.40" y="641.33" width="24.70" height="24.67" fill="#7f0716"/>
<rect x="279.50" y="641.33" width="48.80" height="24.67" fill="#e82436"/>
<rect x="327.70" y="641.33" width="24.70" height="24.67" fill="#e86c70"/>
<rect x="351.80" y="641.33" width="48.80" height="24.67" fill="#ea4c54"/>
<rect x="400.00" y="641.33" width="24.70" height="24.67" fill="#f0c0c0"/>
<rect x="424.10" y="641.33" width="24.70" height="24.67" fill="#ea4c54"/>
<rect x="448.20" y="641.33" width="24.70" height="24.67" fill="#e86c70"/>
<rect x="472.30" y="641.33" width="24.70" height="24.67" fill="#dadaea"/>
<rect x="496.40" y="641.33" width="24.70" height="24.67" fill="#9c9cc8"/>
<rect x="520.50" y="641.33" width="24.70" height="24.67" fill="#eeeef4"/>
<rect x="544.60" y="641.33" width="24.70" height="24.67" fill="#f5dada"/>
<rect x="568.70" y="641.33" width="24.70" height="24.67" fill="#c6c6de"/>
<rect x="592.80" y="641.33" width="48.80" height="24.67" fill="#9c9cc8"/>
<rect x="641.00" y="641.33" width="24.70" height="24.67" fill="#e82436"/>
<rect x="665.10" y="641.33" width="24.70" height="24.67" fill="#e6888a"/>
<rect x="689.20" y="641.33" width="24.70" height="24.67" fill="#e86c70"/>
<rect x="713.30" y="641.33" width="24.70" height="24.67" fill="#f0c0c0"/>
<rect x="134.90" y="665.40" width="24.70" height="24.67" fill="#c6c6de"/>
<rect x="159.00" y="665.40" width="24.70" height="24.67" fill="#f5dada"/>
<rect x="183.10" y="665.40" width="24.70" height="24.67" fill="#6870b0"/>
<rect x="207.20" y="665.40" width="24.70" height="24.67" fill="#e82436"/>
<rect x="231.30" y="665.40" width="24.70" height="24.67" fill="#7f0716"/>
<rect x="255.40" y="665.40" width="24.70" height="24.67" fill="#e86c70"/>
<rect x="279.50" y="665.40" width="48.80" height="24.67" fill="#e82436"/>
<rect x="327.70" y="665.40" width="24.70" height="24.67" fill="#ffffff"/>
<rect x="351.80" y="665.40" width="24.70" height="24.67" fill="#ea4c54"/>
<rect x="375.90" y="665.40" width="24.70" height="24.67" fill="#e86c70"/>
<rect x="400.00" y="665.40" width="24.70" height="24.67" fill="#f0c0c0"/>
<rect x="424.10" y="665.40" width="24.70" height="24.67" fill="#e86c70"/>
<rect x="448.20" y="665.40" width="24.70" height="24.67" fill="#f9ecec"/>
<rect x="472.30" y="665.40" width="24.70" height="24.67" fill="#eeeef4"/>
<rect x="496.40" y="665.40" width="24.70" height="24.67" fill="#5664aa"/>
<rect x="520.50" y="665.40" width="24.70" height="24.67" fill="#e6888a"/>
<rect x="544.60" y="665.40" width="24.70" height="24.67" fill="#b0b0d4"/>
<rect x="568.70" y="665.40" width="24.70" height="24.67" fill="#f9ecec"/>
<rect x="592.80" y="665.40" width="24.70" height="24.67" fill="#c6c6de"/>
<rect x="616.90" y="665.40" width="24.70" height="24.67" fill="#dadaea"/>
<rect x="641.00" y="665.40" width="24.70" height="24.67" fill="#f5dada"/>
<rect x="665.10" y="665.40" width="24.70" height="24.67" fill="#ea4c54"/>
<rect x="689.20" y="665.40" width="24.70" height="24.67" fill="#f5dada"/>
<rect x="713.30" y="665.40" width="24.70" height="24.67" fill="#b0b0d4"/>
<rect x="134.90" y="689.47" width="24.70" height="24.67" fill="#c6c6de"/>
<rect x="159.00" y="689.47" width="24.70" height="24.67" fill="#ffffff"/>
<rect x="183.10" y="689.47" width="24.70" height="24.67" fill="#f5dada"/>
<rect x="207.20" y="689.47" width="24.70" height="24.67" fill="#7f0716"/>
<rect x="231.30" y="689.47" width="24.70" height="24.67" fill="#e82436"/>
<rect x="255.40" y="689.47" width="24.70" height="24.67" fill="#e86c70"/>
<rect x="279.50" y="689.47" width="48.80" height="24.67" fill="#e82436"/>
<rect x="327.70" y="689.47" width="24.70" height="24.67" fill="#8286ba"/>
<rect x="351.80" y="689.47" width="24.70" height="24.67" fill="#f5dada"/>
<rect x="375.90" y="689.47" width="24.70" height="24.67" fill="#dadaea"/>
<rect x="400.00" y="689.47" width="24.70" height="24.67" fill="#c6c6de"/>
<rect x="424.10" y="689.47" width="24.70" height="24.67" fill="#eaa2a4"/>
<rect x="448.20" y="689.47" width="24.70" height="24.67" fill="#f9ecec"/>
<rect x="472.30" y="689.47" width="24.70" height="24.67" fill="#9c9cc8"/>
<rect x="496.40" y="689.47" width="48.80" height="24.67" fill="#8286ba"/>
<rect x="544.60" y="689.47" width="24.70" height="24.67" fill="#b0b0d4"/>
<rect x="568.70" y="689.47" width="24.70" height="24.67" fill="#c6c6de"/>
<rect x="592.80" y="689.47" width="24.70" height="24.67" fill="#8286ba"/>
<rect x="616.90" y="689.47" width="24.70" height="24.67" fill="#dadaea"/>
<rect x="641.00" y="689.47" width="24.70" height="24.67" fill="#e86c70"/>
<rect x="665.10" y="689.47" width="24.70" height="24.67" fill="#ea4c54"/>
<rect x="689.20" y="689.47" width="24.70" height="24.67" fill="#e6888a"/>
<rect x="713.30" y="689.47" width="24.70" height="24.67" fill="#eaa2a4"/>
<rect x="134.90" y="713.54" width="24.70" height="24.67" fill="#f0c0c0"/>
<rect x="159.00" y="713.54" width="24.70" height="24.67" fill="#e82436"/>
<rect x="183.10" y="713.54" width="24.70" height="24.67" fill="#7f0716"/>
<rect x="207.20" y="713.54" width="24.70" height="24.67" fill="#f5dada"/>
<rect x="231.30" y="713.54" width="24.70" height="24.67" fill="#6870b0"/>
<rect x="255.40" y="713.54" width="24.70" height="24.67" fill="#f5dada"/>
<rect x="279.50" y="713.54" width="24.70" height="24.67" fill="#f0c0c0"/>
<rect x="303.60" y="713.54" width="24.70" height="24.67" fill="#f5dada"/>
<rect x="327.70" y="713.54" width="24.70" height="24.67" fill="#b0b0d4"/>
<rect x="351.80" y="713.54" width="24.70" height="24.67" fill="#5664aa"/>
<rect x="375.90" y="713.54" width="24.70" height="24.67" fill="#dadaea"/>
<rect x="400.00" y="713.54" width="24.70" height="24.67" fill="#f0c0c0"/>
<rect x="424.10" y="713.54" width="24.70" height="24.67" fill="#c6c6de"/>
<rect x="448.20" y="713.54" width="24.70" height="24.67" fill="#e86c70"/>
<rect x="472.30" y="713.54" width="24.70" height="24.67" fill="#f0c0c0"/>
<rect x="496.40" y="713.54" width="24.70" height="24.67" fill="#e86c70"/>
<rect x="520.50" y="713.54" width="24.70" height="24.67" fill="#e6888a"/>
<rect x="544.60" y="713.54" width="24.70" height="24.67" fill="#eaa2a4"/>
<rect x="568.70" y="713.54" width="24.70" height="24.67" fill="#ffffff"/>
<rect x="592.80" y="713.54" width="24.70" height="24.67" fill="#f5dada"/>
<rect x="616.90" y="713.54" width="48.80" height="24.67" fill="#f0c0c0"/>
<rect x="665.10" y="713.54" width="24.70" height="24.67" fill="#6870b0"/>
<rect x="689.20" y="713.54" width="24.70" height="24.67" fill="#b0b0d4"/>
<rect x="713.30" y="713.54" width="24.70" height="24.67" fill="#f0c0c0"/>
<rect x="134.90" y="737.61" width="24.70" height="24.67" fill="#ea4c54"/>
<rect x="159.00" y="737.61" width="24.70" height="24.67" fill="#7f0716"/>
<rect x="183.10" y="737.61" width="24.70" height="24.67" fill="#e82436"/>
<rect x="207.20" y="737.61" width="24.70" height="24.67" fill="#ffffff"/>
<rect x="231.30" y="737.61" width="48.80" height="24.67" fill="#f5dada"/>
<rect x="279.50" y="737.61" width="24.70" height="24.67" fill="#ea4c54"/>
<rect x="303.60" y="737.61" width="24.70" height="24.67" fill="#f0c0c0"/>
<rect x="327.70" y="737.61" width="24.70" height="24.67" fill="#e86c70"/>
<rect x="351.80" y="737.61" width="24.70" height="24.67" fill="#eaa2a4"/>
<rect x="375.90" y="737.61" width="24.70" height="24.67" fill="#e6888a"/>
<rect x="400.00" y="737.61" width="24.70" height="24.67" fill="#e86c70"/>
<rect x="424.10" y="737.61" width="24.70" height="24.67" fill="#ea4c54"/>
<rect x="448.20" y="737.61" width="24.70" height="24.67" fill="#e82436"/>
<rect x="472.30" y="737.61" width="24.70" height="24.67" fill="#ea4c54"/>
<rect x="496.40" y="737.61" width="24.70" height="24.67" fill="#e6888a"/>
<rect x="520.50" y="737.61" width="24.70" height="24.67" fill="#ea4c54"/>
<rect x="544.60" y="737.61" width="24.70" height="24.67" fill="#b0b0d4"/>
<rect x="568.70" y="737.61" width="24.70" height="24.67" fill="#eeeef4"/>
<rect x="592.80" y="737.61" width="24.70" height="24.67" fill="#eaa2a4"/>
<rect x="616.90" y="737.61" width="24.70" height="24.67" fill="#c6c6de"/>
<rect x="641.00" y="737.61" width="24.70" height="24.67" fill="#f9ecec"/>
<rect x="665.10" y="737.61" width="48.80" height="24.67" fill="#6870b0"/>
<rect x="713.30" y="737.61" width="24.70" height="24.67" fill="#5664aa"/>
<rect x="134.90" y="761.68" width="24.70" height="24.67" fill="#7f0716"/>
<rect x="159.00" y="761.68" width="24.70" height="24.67" fill="#ea4c54"/>
<rect x="183.10" y="761.68" width="24.70" height="24.67" fill="#f0c0c0"/>
<rect x="207.20" y="761.68" width="48.80" height="24.67" fill="#c6c6de"/>
<rect x="255.40" y="761.68" width="24.70" height="24.67" fill="#b0b0d4"/>
<rect x="279.50" y="761.68" width="24.70" height="24.67" fill="#eaa2a4"/>
<rect x="303.60" y="761.68" width="24.70" height="24.67" fill="#c6c6de"/>
<rect x="327.70" y="761.68" width="24.70" height="24.67" fill="#8286ba"/>
<rect x="351.80" y="761.68" width="24.70" height="24.67" fill="#9c9cc8"/>
<rect x="375.90" y="761.68" width="24.70" height="24.67" fill="#c6c6de"/>
<rect x="400.00" y="761.68" width="24.70" height="24.67" fill="#ffffff"/>
<rect x="424.10" y="761.68" width="24.70" height="24.67" fill="#f9ecec"/>
<rect x="448.20" y="761.68" width="24.70" height="24.67" fill="#eaa2a4"/>
<rect x="472.30" y="761.68" width="72.90" height="24.67" fill="#e86c70"/>
<rect x="544.60" y="761.68" width="24.70" height="24.67" fill="#eeeef4"/>
<rect x="568.70" y="761.68" width="24.70" height="24.67" fill="#f0c0c0"/>
<rect x="592.80" y="761.68" width="24.70" height="24.67" fill="#eaa2a4"/>
<rect x="616.90" y="761.68" width="24.70" height="24.67" fill="#dadaea"/>
<rect x="641.00" y="761.68" width="24.70" height="24.67" fill="#9c9cc8"/>
<rect x="665.10" y="761.68" width="48.80" height="24.67" fill="#b0b0d4"/>
<rect x="713.30" y="761.68" width="24.70" height="24.67" fill="#c6c6de"/>
<rect x="110.70" y="184.00" width="22.50" height="120.85" fill="#9e1459"/>
<rect x="110.70" y="304.35" width="22.50" height="144.92" fill="#066fa9"/>
<rect x="110.70" y="448.77" width="22.50" height="144.92" fill="#038242"/>
<rect x="110.70" y="593.19" width="22.50" height="120.85" fill="#eb4d4f"/>
<rect x="110.70" y="713.54" width="22.50" height="48.64" fill="#37bfe1"/>
<rect x="110.70" y="761.68" width="22.50" height="24.07" fill="#b15d9d"/>
<rect x="133.60" y="786.20" width="24.60" height="22.50" fill="#b15d9d"/>
<rect x="157.70" y="786.20" width="48.70" height="22.50" fill="#37bfe1"/>
<rect x="205.90" y="786.20" width="121.00" height="22.50" fill="#eb4d4f"/>
<rect x="326.40" y="786.20" width="145.10" height="22.50" fill="#038242"/>
<rect x="471.00" y="786.20" width="145.10" height="22.50" fill="#066fa9"/>
<rect x="615.60" y="786.20" width="120.50" height="22.50" fill="#9e1459"/>
</g>
<text transform="translate(153.40 176.00) rotate(-90)" font-size="25" fill="#231f20">IL-15</text>
<text x="747.00" y="202.30" font-size="25" fill="#231f20">IL-15</text>
<text transform="translate(177.65 176.00) rotate(-90)" font-size="25" fill="#231f20">IFN-a2</text>
<text x="747.00" y="226.60" font-size="25" fill="#231f20">IFN-a2</text>
<text transform="translate(201.90 176.00) rotate(-90)" font-size="25" fill="#231f20">VEGF</text>
<text x="747.00" y="250.90" font-size="25" fill="#231f20">VEGF</text>
<text transform="translate(226.15 176.00) rotate(-90)" font-size="25" fill="#231f20">CCL2</text>
<text x="747.00" y="275.20" font-size="25" fill="#231f20">CCL2</text>
<text transform="translate(250.40 176.00) rotate(-90)" font-size="25" fill="#231f20">CXCL8</text>
<text x="747.00" y="299.50" font-size="25" fill="#231f20">CXCL8</text>
<text transform="translate(274.65 176.00) rotate(-90)" font-size="25" fill="#231f20">IL-6</text>
<text x="747.00" y="323.80" font-size="25" fill="#231f20">IL-6</text>
<text transform="translate(298.90 176.00) rotate(-90)" font-size="25" fill="#231f20">IL-2</text>
<text x="747.00" y="348.10" font-size="25" fill="#231f20">IL-2</text>
<text transform="translate(323.15 176.00) rotate(-90)" font-size="25" fill="#231f20">sIL-1RA</text>
<text x="747.00" y="372.40" font-size="25" fill="#231f20">sIL-1RA</text>
<text transform="translate(347.40 176.00) rotate(-90)" font-size="25" fill="#231f20">IL-7</text>
<text x="747.00" y="396.70" font-size="25" fill="#231f20">IL-7</text>
<text transform="translate(371.65 176.00) rotate(-90)" font-size="25" fill="#231f20">CCL3</text>
<text x="747.00" y="421.00" font-size="25" fill="#231f20">CCL3</text>
<text transform="translate(395.90 176.00) rotate(-90)" font-size="25" fill="#231f20">CSF3</text>
<text x="747.00" y="445.30" font-size="25" fill="#231f20">CSF3</text>
<text transform="translate(420.15 176.00) rotate(-90)" font-size="25" fill="#231f20">IL-10</text>
<text x="747.00" y="469.60" font-size="25" fill="#231f20">IL-10</text>
<text transform="translate(444.40 176.00) rotate(-90)" font-size="25" fill="#231f20">IFN-g</text>
<text x="747.00" y="493.90" font-size="25" fill="#231f20">IFN-g</text>
<text transform="translate(468.65 176.00) rotate(-90)" font-size="25" fill="#231f20">TNF-a</text>
<text x="747.00" y="518.20" font-size="25" fill="#231f20">TNF-a</text>
<text transform="translate(492.90 176.00) rotate(-90)" font-size="25" fill="#231f20">IL-4</text>
<text x="747.00" y="542.50" font-size="25" fill="#231f20">IL-4</text>
<text transform="translate(517.15 176.00) rotate(-90)" font-size="25" fill="#231f20">IL-5</text>
<text x="747.00" y="566.80" font-size="25" fill="#231f20">IL-5</text>
<text transform="translate(541.40 176.00) rotate(-90)" font-size="25" fill="#231f20">IL-1b</text>
<text x="747.00" y="591.10" font-size="25" fill="#231f20">IL-1b</text>
<text transform="translate(565.65 176.00) rotate(-90)" font-size="25" fill="#231f20">IL-17a</text>
<text x="747.00" y="615.40" font-size="25" fill="#231f20">IL-17a</text>
<text transform="translate(589.90 176.00) rotate(-90)" font-size="25" fill="#231f20">CSF2</text>
<text x="747.00" y="639.70" font-size="25" fill="#231f20">CSF2</text>
<text transform="translate(614.15 176.00) rotate(-90)" font-size="25" fill="#231f20">IL-12p70</text>
<text x="747.00" y="664.00" font-size="25" fill="#231f20">IL-12p70</text>
<text transform="translate(638.40 176.00) rotate(-90)" font-size="25" fill="#231f20">IL-13</text>
<text x="747.00" y="688.30" font-size="25" fill="#231f20">IL-13</text>
<text transform="translate(662.65 176.00) rotate(-90)" font-size="25" fill="#231f20">CXCL10</text>
<text x="747.00" y="712.60" font-size="25" fill="#231f20">CXCL10</text>
<text transform="translate(686.90 176.00) rotate(-90)" font-size="25" fill="#231f20">CCL4</text>
<text x="747.00" y="736.90" font-size="25" fill="#231f20">CCL4</text>
<text transform="translate(711.15 176.00) rotate(-90)" font-size="25" fill="#231f20">sIL-2RA</text>
<text x="747.00" y="761.20" font-size="25" fill="#231f20">sIL-2RA</text>
<text transform="translate(735.40 176.00) rotate(-90)" font-size="25" fill="#231f20">IL-18</text>
<text x="747.00" y="785.50" font-size="25" fill="#231f20">IL-18</text>
<rect x="917.60" y="216.50" width="7.80" height="507.00" fill="url(#gRB)"/>
<text x="940.50" y="222.50" font-size="25" fill="#231f20">1.0</text>
<text x="940.50" y="475.40" font-size="25" fill="#231f20">0</text>
<text x="938.60" y="727.50" font-size="25" fill="#231f20">–1.0</text>
<text transform="translate(1012.50 470.00) rotate(90)" font-size="25" text-anchor="middle" fill="#231f20">Correlation coefficient</text>
<text x="1194.30" y="24.60" font-size="28" font-weight="bold" fill="#231f20">b</text>
<text x="1521.00" y="46.70" font-size="25" text-anchor="middle" fill="#231f20">Cytokine–cytokine clustering probability</text>
<g shape-rendering="crispEdges">
<rect x="1231.10" y="184.80" width="24.74" height="24.72" fill="#401d5d"/>
<rect x="1255.24" y="184.80" width="24.74" height="24.72" fill="#3b1350"/>
<rect x="1279.38" y="184.80" width="24.74" height="24.72" fill="#45276a"/>
<rect x="1303.52" y="184.80" width="24.74" height="24.72" fill="#434588"/>
<rect x="1327.66" y="184.80" width="24.74" height="24.72" fill="#45276a"/>
<rect x="1351.80" y="184.80" width="73.02" height="24.72" fill="#434588"/>
<rect x="1424.22" y="184.80" width="48.88" height="24.72" fill="#401d5d"/>
<rect x="1472.50" y="184.80" width="97.16" height="24.72" fill="#45276a"/>
<rect x="1569.06" y="184.80" width="24.74" height="24.72" fill="#443679"/>
<rect x="1593.20" y="184.80" width="24.74" height="24.72" fill="#36608f"/>
<rect x="1617.34" y="184.80" width="24.74" height="24.72" fill="#434588"/>
<rect x="1641.48" y="184.80" width="24.74" height="24.72" fill="#12987e"/>
<rect x="1665.62" y="184.80" width="24.74" height="24.72" fill="#23778f"/>
<rect x="1689.76" y="184.80" width="24.74" height="24.72" fill="#36608f"/>
<rect x="1713.90" y="184.80" width="48.88" height="24.72" fill="#12987e"/>
<rect x="1762.18" y="184.80" width="24.74" height="24.72" fill="#9cc84e"/>
<rect x="1786.32" y="184.80" width="48.88" height="24.72" fill="#f2e62c"/>
<rect x="1231.10" y="208.92" width="24.74" height="24.72" fill="#401d5d"/>
<rect x="1255.24" y="208.92" width="24.74" height="24.72" fill="#3b1350"/>
<rect x="1279.38" y="208.92" width="24.74" height="24.72" fill="#45276a"/>
<rect x="1303.52" y="208.92" width="24.74" height="24.72" fill="#434588"/>
<rect x="1327.66" y="208.92" width="24.74" height="24.72" fill="#45276a"/>
<rect x="1351.80" y="208.92" width="73.02" height="24.72" fill="#434588"/>
<rect x="1424.22" y="208.92" width="48.88" height="24.72" fill="#401d5d"/>
<rect x="1472.50" y="208.92" width="97.16" height="24.72" fill="#45276a"/>
<rect x="1569.06" y="208.92" width="24.74" height="24.72" fill="#443679"/>
<rect x="1593.20" y="208.92" width="24.74" height="24.72" fill="#36608f"/>
<rect x="1617.34" y="208.92" width="24.74" height="24.72" fill="#434588"/>
<rect x="1641.48" y="208.92" width="24.74" height="24.72" fill="#12987e"/>
<rect x="1665.62" y="208.92" width="24.74" height="24.72" fill="#23778f"/>
<rect x="1689.76" y="208.92" width="24.74" height="24.72" fill="#36608f"/>
<rect x="1713.90" y="208.92" width="48.88" height="24.72" fill="#12987e"/>
<rect x="1762.18" y="208.92" width="24.74" height="24.72" fill="#9cc84e"/>
<rect x="1786.32" y="208.92" width="48.88" height="24.72" fill="#f2e62c"/>
<rect x="1231.10" y="233.04" width="24.74" height="24.72" fill="#401d5d"/>
<rect x="1255.24" y="233.04" width="24.74" height="24.72" fill="#3b1350"/>
<rect x="1279.38" y="233.04" width="24.74" height="24.72" fill="#45276a"/>
<rect x="1303.52" y="233.04" width="24.74" height="24.72" fill="#3c528c"/>
<rect x="1327.66" y="233.04" width="24.74" height="24.72" fill="#443679"/>
<rect x="1351.80" y="233.04" width="73.02" height="24.72" fill="#3c528c"/>
<rect x="1424.22" y="233.04" width="24.74" height="24.72" fill="#401d5d"/>
<rect x="1448.36" y="233.04" width="24.74" height="24.72" fill="#45276a"/>
<rect x="1472.50" y="233.04" width="24.74" height="24.72" fill="#443679"/>
<rect x="1496.64" y="233.04" width="24.74" height="24.72" fill="#45276a"/>
<rect x="1520.78" y="233.04" width="24.74" height="24.72" fill="#443679"/>
<rect x="1544.92" y="233.04" width="24.74" height="24.72" fill="#45276a"/>
<rect x="1569.06" y="233.04" width="24.74" height="24.72" fill="#443679"/>
<rect x="1593.20" y="233.04" width="24.74" height="24.72" fill="#36608f"/>
<rect x="1617.34" y="233.04" width="24.74" height="24.72" fill="#3c528c"/>
<rect x="1641.48" y="233.04" width="24.74" height="24.72" fill="#12987e"/>
<rect x="1665.62" y="233.04" width="24.74" height="24.72" fill="#23778f"/>
<rect x="1689.76" y="233.04" width="24.74" height="24.72" fill="#2c6c8f"/>
<rect x="1713.90" y="233.04" width="24.74" height="24.72" fill="#128d88"/>
<rect x="1738.04" y="233.04" width="24.74" height="24.72" fill="#12987e"/>
<rect x="1762.18" y="233.04" width="24.74" height="24.72" fill="#f2e62c"/>
<rect x="1786.32" y="233.04" width="48.88" height="24.72" fill="#9cc84e"/>
<rect x="1231.10" y="257.16" width="24.74" height="24.72" fill="#3b1350"/>
<rect x="1255.24" y="257.16" width="24.74" height="24.72" fill="#45276a"/>
<rect x="1279.38" y="257.16" width="24.74" height="24.72" fill="#443679"/>
<rect x="1303.52" y="257.16" width="24.74" height="24.72" fill="#23778f"/>
<rect x="1327.66" y="257.16" width="24.74" height="24.72" fill="#36608f"/>
<rect x="1351.80" y="257.16" width="24.74" height="24.72" fill="#128d88"/>
<rect x="1375.94" y="257.16" width="48.88" height="24.72" fill="#1a828c"/>
<rect x="1424.22" y="257.16" width="24.74" height="24.72" fill="#45276a"/>
<rect x="1448.36" y="257.16" width="24.74" height="24.72" fill="#443679"/>
<rect x="1472.50" y="257.16" width="48.88" height="24.72" fill="#3c528c"/>
<rect x="1520.78" y="257.16" width="24.74" height="24.72" fill="#36608f"/>
<rect x="1544.92" y="257.16" width="24.74" height="24.72" fill="#3c528c"/>
<rect x="1569.06" y="257.16" width="24.74" height="24.72" fill="#3b1350"/>
<rect x="1593.20" y="257.16" width="24.74" height="24.72" fill="#434588"/>
<rect x="1617.34" y="257.16" width="24.74" height="24.72" fill="#401d5d"/>
<rect x="1641.48" y="257.16" width="24.74" height="24.72" fill="#36608f"/>
<rect x="1665.62" y="257.16" width="24.74" height="24.72" fill="#434588"/>
<rect x="1689.76" y="257.16" width="24.74" height="24.72" fill="#45276a"/>
<rect x="1713.90" y="257.16" width="24.74" height="24.72" fill="#36608f"/>
<rect x="1738.04" y="257.16" width="24.74" height="24.72" fill="#f2e62c"/>
<rect x="1762.18" y="257.16" width="73.02" height="24.72" fill="#12987e"/>
<rect x="1231.10" y="281.28" width="24.74" height="24.72" fill="#401d5d"/>
<rect x="1255.24" y="281.28" width="24.74" height="24.72" fill="#3b1350"/>
<rect x="1279.38" y="281.28" width="24.74" height="24.72" fill="#45276a"/>
<rect x="1303.52" y="281.28" width="48.88" height="24.72" fill="#3b1350"/>
<rect x="1351.80" y="281.28" width="24.74" height="24.72" fill="#401d5d"/>
<rect x="1375.94" y="281.28" width="48.88" height="24.72" fill="#45276a"/>
<rect x="1424.22" y="281.28" width="48.88" height="24.72" fill="#3b1350"/>
<rect x="1472.50" y="281.28" width="24.74" height="24.72" fill="#45276a"/>
<rect x="1496.64" y="281.28" width="24.74" height="24.72" fill="#434588"/>
<rect x="1520.78" y="281.28" width="48.88" height="24.72" fill="#45276a"/>
<rect x="1569.06" y="281.28" width="24.74" height="24.72" fill="#434588"/>
<rect x="1593.20" y="281.28" width="24.74" height="24.72" fill="#128d88"/>
<rect x="1617.34" y="281.28" width="24.74" height="24.72" fill="#2c6c8f"/>
<rect x="1641.48" y="281.28" width="48.88" height="24.72" fill="#128d88"/>
<rect x="1689.76" y="281.28" width="24.74" height="24.72" fill="#1a828c"/>
<rect x="1713.90" y="281.28" width="24.74" height="24.72" fill="#f2e62c"/>
<rect x="1738.04" y="281.28" width="24.74" height="24.72" fill="#36608f"/>
<rect x="1762.18" y="281.28" width="24.74" height="24.72" fill="#128d88"/>
<rect x="1786.32" y="281.28" width="48.88" height="24.72" fill="#12987e"/>
<rect x="1231.10" y="305.40" width="24.74" height="24.72" fill="#434588"/>
<rect x="1255.24" y="305.40" width="48.88" height="24.72" fill="#45276a"/>
<rect x="1303.52" y="305.40" width="121.30" height="24.72" fill="#3b1350"/>
<rect x="1424.22" y="305.40" width="24.74" height="24.72" fill="#401d5d"/>
<rect x="1448.36" y="305.40" width="24.74" height="24.72" fill="#3b1350"/>
<rect x="1472.50" y="305.40" width="24.74" height="24.72" fill="#45276a"/>
<rect x="1496.64" y="305.40" width="73.02" height="24.72" fill="#3b1350"/>
<rect x="1569.06" y="305.40" width="24.74" height="24.72" fill="#12a474"/>
<rect x="1593.20" y="305.40" width="24.74" height="24.72" fill="#128d88"/>
<rect x="1617.34" y="305.40" width="24.74" height="24.72" fill="#4db06c"/>
<rect x="1641.48" y="305.40" width="24.74" height="24.72" fill="#30aa70"/>
<rect x="1665.62" y="305.40" width="24.74" height="24.72" fill="#9cc84e"/>
<rect x="1689.76" y="305.40" width="24.74" height="24.72" fill="#f2e62c"/>
<rect x="1713.90" y="305.40" width="24.74" height="24.72" fill="#1a828c"/>
<rect x="1738.04" y="305.40" width="24.74" height="24.72" fill="#45276a"/>
<rect x="1762.18" y="305.40" width="24.74" height="24.72" fill="#2c6c8f"/>
<rect x="1786.32" y="305.40" width="48.88" height="24.72" fill="#36608f"/>
<rect x="1231.10" y="329.52" width="24.74" height="24.72" fill="#443679"/>
<rect x="1255.24" y="329.52" width="24.74" height="24.72" fill="#401d5d"/>
<rect x="1279.38" y="329.52" width="24.74" height="24.72" fill="#45276a"/>
<rect x="1303.52" y="329.52" width="169.58" height="24.72" fill="#401d5d"/>
<rect x="1472.50" y="329.52" width="24.74" height="24.72" fill="#443679"/>
<rect x="1496.64" y="329.52" width="73.02" height="24.72" fill="#401d5d"/>
<rect x="1569.06" y="329.52" width="24.74" height="24.72" fill="#128d88"/>
<rect x="1593.20" y="329.52" width="24.74" height="24.72" fill="#12987e"/>
<rect x="1617.34" y="329.52" width="24.74" height="24.72" fill="#12a474"/>
<rect x="1641.48" y="329.52" width="24.74" height="24.72" fill="#83bf58"/>
<rect x="1665.62" y="329.52" width="24.74" height="24.72" fill="#f2e62c"/>
<rect x="1689.76" y="329.52" width="24.74" height="24.72" fill="#9cc84e"/>
<rect x="1713.90" y="329.52" width="24.74" height="24.72" fill="#128d88"/>
<rect x="1738.04" y="329.52" width="24.74" height="24.72" fill="#434588"/>
<rect x="1762.18" y="329.52" width="73.02" height="24.72" fill="#23778f"/>
<rect x="1231.10" y="353.64" width="24.74" height="24.72" fill="#45276a"/>
<rect x="1255.24" y="353.64" width="24.74" height="24.72" fill="#3b1350"/>
<rect x="1279.38" y="353.64" width="48.88" height="24.72" fill="#45276a"/>
<rect x="1327.66" y="353.64" width="24.74" height="24.72" fill="#401d5d"/>
<rect x="1351.80" y="353.64" width="73.02" height="24.72" fill="#45276a"/>
<rect x="1424.22" y="353.64" width="48.88" height="24.72" fill="#3b1350"/>
<rect x="1472.50" y="353.64" width="24.74" height="24.72" fill="#45276a"/>
<rect x="1496.64" y="353.64" width="73.02" height="24.72" fill="#401d5d"/>
<rect x="1569.06" y="353.64" width="24.74" height="24.72" fill="#23778f"/>
<rect x="1593.20" y="353.64" width="48.88" height="24.72" fill="#128d88"/>
<rect x="1641.48" y="353.64" width="24.74" height="24.72" fill="#f2e62c"/>
<rect x="1665.62" y="353.64" width="24.74" height="24.72" fill="#83bf58"/>
<rect x="1689.76" y="353.64" width="24.74" height="24.72" fill="#30aa70"/>
<rect x="1713.90" y="353.64" width="24.74" height="24.72" fill="#128d88"/>
<rect x="1738.04" y="353.64" width="24.74" height="24.72" fill="#36608f"/>
<rect x="1762.18" y="353.64" width="73.02" height="24.72" fill="#12987e"/>
<rect x="1231.10" y="377.76" width="24.74" height="24.72" fill="#36608f"/>
<rect x="1255.24" y="377.76" width="48.88" height="24.72" fill="#3c528c"/>
<rect x="1303.52" y="377.76" width="169.58" height="24.72" fill="#3b1350"/>
<rect x="1472.50" y="377.76" width="24.74" height="24.72" fill="#401d5d"/>
<rect x="1496.64" y="377.76" width="48.88" height="24.72" fill="#3b1350"/>
<rect x="1544.92" y="377.76" width="24.74" height="24.72" fill="#401d5d"/>
<rect x="1569.06" y="377.76" width="24.74" height="24.72" fill="#12a474"/>
<rect x="1593.20" y="377.76" width="24.74" height="24.72" fill="#128d88"/>
<rect x="1617.34" y="377.76" width="24.74" height="24.72" fill="#f2e62c"/>
<rect x="1641.48" y="377.76" width="24.74" height="24.72" fill="#128d88"/>
<rect x="1665.62" y="377.76" width="24.74" height="24.72" fill="#12a474"/>
<rect x="1689.76" y="377.76" width="24.74" height="24.72" fill="#4db06c"/>
<rect x="1713.90" y="377.76" width="24.74" height="24.72" fill="#2c6c8f"/>
<rect x="1738.04" y="377.76" width="24.74" height="24.72" fill="#401d5d"/>
<rect x="1762.18" y="377.76" width="24.74" height="24.72" fill="#3c528c"/>
<rect x="1786.32" y="377.76" width="48.88" height="24.72" fill="#434588"/>
<rect x="1231.10" y="401.88" width="24.74" height="24.72" fill="#36608f"/>
<rect x="1255.24" y="401.88" width="24.74" height="24.72" fill="#443679"/>
<rect x="1279.38" y="401.88" width="24.74" height="24.72" fill="#3c528c"/>
<rect x="1303.52" y="401.88" width="48.88" height="24.72" fill="#3b1350"/>
<rect x="1351.80" y="401.88" width="73.02" height="24.72" fill="#401d5d"/>
<rect x="1424.22" y="401.88" width="48.88" height="24.72" fill="#3b1350"/>
<rect x="1472.50" y="401.88" width="24.74" height="24.72" fill="#401d5d"/>
<rect x="1496.64" y="401.88" width="48.88" height="24.72" fill="#45276a"/>
<rect x="1544.92" y="401.88" width="24.74" height="24.72" fill="#443679"/>
<rect x="1569.06" y="401.88" width="24.74" height="24.72" fill="#12987e"/>
<rect x="1593.20" y="401.88" width="24.74" height="24.72" fill="#f2e62c"/>
<rect x="1617.34" y="401.88" width="48.88" height="24.72" fill="#128d88"/>
<rect x="1665.62" y="401.88" width="24.74" height="24.72" fill="#12987e"/>
<rect x="1689.76" y="401.88" width="48.88" height="24.72" fill="#128d88"/>
<rect x="1738.04" y="401.88" width="24.74" height="24.72" fill="#434588"/>
<rect x="1762.18" y="401.88" width="73.02" height="24.72" fill="#36608f"/>
<rect x="1231.10" y="426.00" width="24.74" height="24.72" fill="#23778f"/>
<rect x="1255.24" y="426.00" width="24.74" height="24.72" fill="#3c528c"/>
<rect x="1279.38" y="426.00" width="24.74" height="24.72" fill="#443679"/>
<rect x="1303.52" y="426.00" width="121.30" height="24.72" fill="#3b1350"/>
<rect x="1424.22" y="426.00" width="24.74" height="24.72" fill="#401d5d"/>
<rect x="1448.36" y="426.00" width="24.74" height="24.72" fill="#3b1350"/>
<rect x="1472.50" y="426.00" width="73.02" height="24.72" fill="#401d5d"/>
<rect x="1544.92" y="426.00" width="24.74" height="24.72" fill="#45276a"/>
<rect x="1569.06" y="426.00" width="24.74" height="24.72" fill="#f2e62c"/>
<rect x="1593.20" y="426.00" width="24.74" height="24.72" fill="#12987e"/>
<rect x="1617.34" y="426.00" width="24.74" height="24.72" fill="#12a474"/>
<rect x="1641.48" y="426.00" width="24.74" height="24.72" fill="#23778f"/>
<rect x="1665.62" y="426.00" width="24.74" height="24.72" fill="#128d88"/>
<rect x="1689.76" y="426.00" width="24.74" height="24.72" fill="#12a474"/>
<rect x="1713.90" y="426.00" width="24.74" height="24.72" fill="#434588"/>
<rect x="1738.04" y="426.00" width="24.74" height="24.72" fill="#3b1350"/>
<rect x="1762.18" y="426.00" width="73.02" height="24.72" fill="#443679"/>
<rect x="1231.10" y="450.12" width="24.74" height="24.72" fill="#401d5d"/>
<rect x="1255.24" y="450.12" width="24.74" height="24.72" fill="#23778f"/>
<rect x="1279.38" y="450.12" width="24.74" height="24.72" fill="#434588"/>
<rect x="1303.52" y="450.12" width="48.88" height="24.72" fill="#36608f"/>
<rect x="1351.80" y="450.12" width="24.74" height="24.72" fill="#128d88"/>
<rect x="1375.94" y="450.12" width="48.88" height="24.72" fill="#12987e"/>
<rect x="1424.22" y="450.12" width="48.88" height="24.72" fill="#1a828c"/>
<rect x="1472.50" y="450.12" width="24.74" height="24.72" fill="#4db06c"/>
<rect x="1496.64" y="450.12" width="24.74" height="24.72" fill="#83bf58"/>
<rect x="1520.78" y="450.12" width="24.74" height="24.72" fill="#9cc84e"/>
<rect x="1544.92" y="450.12" width="24.74" height="24.72" fill="#f2e62c"/>
<rect x="1569.06" y="450.12" width="24.74" height="24.72" fill="#45276a"/>
<rect x="1593.20" y="450.12" width="24.74" height="24.72" fill="#443679"/>
<rect x="1617.34" y="450.12" width="73.02" height="24.72" fill="#401d5d"/>
<rect x="1689.76" y="450.12" width="24.74" height="24.72" fill="#3b1350"/>
<rect x="1713.90" y="450.12" width="24.74" height="24.72" fill="#45276a"/>
<rect x="1738.04" y="450.12" width="24.74" height="24.72" fill="#3c528c"/>
<rect x="1762.18" y="450.12" width="73.02" height="24.72" fill="#45276a"/>
<rect x="1231.10" y="474.24" width="24.74" height="24.72" fill="#3b1350"/>
<rect x="1255.24" y="474.24" width="24.74" height="24.72" fill="#23778f"/>
<rect x="1279.38" y="474.24" width="24.74" height="24.72" fill="#434588"/>
<rect x="1303.52" y="474.24" width="24.74" height="24.72" fill="#2c6c8f"/>
<rect x="1327.66" y="474.24" width="24.74" height="24.72" fill="#23778f"/>
<rect x="1351.80" y="474.24" width="73.02" height="24.72" fill="#12a474"/>
<rect x="1424.22" y="474.24" width="24.74" height="24.72" fill="#128d88"/>
<rect x="1448.36" y="474.24" width="24.74" height="24.72" fill="#12987e"/>
<rect x="1472.50" y="474.24" width="24.74" height="24.72" fill="#4db06c"/>
<rect x="1496.64" y="474.24" width="24.74" height="24.72" fill="#83bf58"/>
<rect x="1520.78" y="474.24" width="24.74" height="24.72" fill="#f2e62c"/>
<rect x="1544.92" y="474.24" width="24.74" height="24.72" fill="#9cc84e"/>
<rect x="1569.06" y="474.24" width="24.74" height="24.72" fill="#401d5d"/>
<rect x="1593.20" y="474.24" width="24.74" height="24.72" fill="#45276a"/>
<rect x="1617.34" y="474.24" width="24.74" height="24.72" fill="#3b1350"/>
<rect x="1641.48" y="474.24" width="48.88" height="24.72" fill="#401d5d"/>
<rect x="1689.76" y="474.24" width="24.74" height="24.72" fill="#3b1350"/>
<rect x="1713.90" y="474.24" width="24.74" height="24.72" fill="#45276a"/>
<rect x="1738.04" y="474.24" width="24.74" height="24.72" fill="#36608f"/>
<rect x="1762.18" y="474.24" width="24.74" height="24.72" fill="#443679"/>
<rect x="1786.32" y="474.24" width="48.88" height="24.72" fill="#45276a"/>
<rect x="1231.10" y="498.36" width="24.74" height="24.72" fill="#3b1350"/>
<rect x="1255.24" y="498.36" width="24.74" height="24.72" fill="#36608f"/>
<rect x="1279.38" y="498.36" width="24.74" height="24.72" fill="#443679"/>
<rect x="1303.52" y="498.36" width="24.74" height="24.72" fill="#3c528c"/>
<rect x="1327.66" y="498.36" width="24.74" height="24.72" fill="#36608f"/>
<rect x="1351.80" y="498.36" width="24.74" height="24.72" fill="#1a828c"/>
<rect x="1375.94" y="498.36" width="73.02" height="24.72" fill="#128d88"/>
<rect x="1448.36" y="498.36" width="24.74" height="24.72" fill="#12987e"/>
<rect x="1472.50" y="498.36" width="24.74" height="24.72" fill="#4db06c"/>
<rect x="1496.64" y="498.36" width="24.74" height="24.72" fill="#f2e62c"/>
<rect x="1520.78" y="498.36" width="48.88" height="24.72" fill="#83bf58"/>
<rect x="1569.06" y="498.36" width="24.74" height="24.72" fill="#401d5d"/>
<rect x="1593.20" y="498.36" width="24.74" height="24.72" fill="#45276a"/>
<rect x="1617.34" y="498.36" width="24.74" height="24.72" fill="#3b1350"/>
<rect x="1641.48" y="498.36" width="48.88" height="24.72" fill="#401d5d"/>
<rect x="1689.76" y="498.36" width="24.74" height="24.72" fill="#3b1350"/>
<rect x="1713.90" y="498.36" width="24.74" height="24.72" fill="#434588"/>
<rect x="1738.04" y="498.36" width="24.74" height="24.72" fill="#3c528c"/>
<rect x="1762.18" y="498.36" width="73.02" height="24.72" fill="#45276a"/>
<rect x="1231.10" y="522.48" width="24.74" height="24.72" fill="#3b1350"/>
<rect x="1255.24" y="522.48" width="24.74" height="24.72" fill="#36608f"/>
<rect x="1279.38" y="522.48" width="24.74" height="24.72" fill="#45276a"/>
<rect x="1303.52" y="522.48" width="48.88" height="24.72" fill="#36608f"/>
<rect x="1351.80" y="522.48" width="48.88" height="24.72" fill="#1a828c"/>
<rect x="1400.08" y="522.48" width="24.74" height="24.72" fill="#128d88"/>
<rect x="1424.22" y="522.48" width="48.88" height="24.72" fill="#12987e"/>
<rect x="1472.50" y="522.48" width="24.74" height="24.72" fill="#f2e62c"/>
<rect x="1496.64" y="522.48" width="73.02" height="24.72" fill="#4db06c"/>
<rect x="1569.06" y="522.48" width="73.02" height="24.72" fill="#401d5d"/>
<rect x="1641.48" y="522.48" width="24.74" height="24.72" fill="#45276a"/>
<rect x="1665.62" y="522.48" width="24.74" height="24.72" fill="#443679"/>
<rect x="1689.76" y="522.48" width="48.88" height="24.72" fill="#45276a"/>
<rect x="1738.04" y="522.48" width="24.74" height="24.72" fill="#3c528c"/>
<rect x="1762.18" y="522.48" width="24.74" height="24.72" fill="#443679"/>
<rect x="1786.32" y="522.48" width="48.88" height="24.72" fill="#45276a"/>
<rect x="1231.10" y="546.60" width="24.74" height="24.72" fill="#3b1350"/>
<rect x="1255.24" y="546.60" width="24.74" height="24.72" fill="#36608f"/>
<rect x="1279.38" y="546.60" width="24.74" height="24.72" fill="#401d5d"/>
<rect x="1303.52" y="546.60" width="24.74" height="24.72" fill="#36608f"/>
<rect x="1327.66" y="546.60" width="24.74" height="24.72" fill="#23778f"/>
<rect x="1351.80" y="546.60" width="24.74" height="24.72" fill="#128d88"/>
<rect x="1375.94" y="546.60" width="48.88" height="24.72" fill="#1a828c"/>
<rect x="1424.22" y="546.60" width="24.74" height="24.72" fill="#4db06c"/>
<rect x="1448.36" y="546.60" width="24.74" height="24.72" fill="#f2e62c"/>
<rect x="1472.50" y="546.60" width="73.02" height="24.72" fill="#12987e"/>
<rect x="1544.92" y="546.60" width="24.74" height="24.72" fill="#1a828c"/>
<rect x="1569.06" y="546.60" width="97.16" height="24.72" fill="#3b1350"/>
<rect x="1665.62" y="546.60" width="24.74" height="24.72" fill="#401d5d"/>
<rect x="1689.76" y="546.60" width="48.88" height="24.72" fill="#3b1350"/>
<rect x="1738.04" y="546.60" width="24.74" height="24.72" fill="#443679"/>
<rect x="1762.18" y="546.60" width="24.74" height="24.72" fill="#45276a"/>
<rect x="1786.32" y="546.60" width="48.88" height="24.72" fill="#401d5d"/>
<rect x="1231.10" y="570.72" width="24.74" height="24.72" fill="#3b1350"/>
<rect x="1255.24" y="570.72" width="24.74" height="24.72" fill="#36608f"/>
<rect x="1279.38" y="570.72" width="24.74" height="24.72" fill="#3b1350"/>
<rect x="1303.52" y="570.72" width="24.74" height="24.72" fill="#443679"/>
<rect x="1327.66" y="570.72" width="24.74" height="24.72" fill="#3c528c"/>
<rect x="1351.80" y="570.72" width="24.74" height="24.72" fill="#2c6c8f"/>
<rect x="1375.94" y="570.72" width="48.88" height="24.72" fill="#36608f"/>
<rect x="1424.22" y="570.72" width="24.74" height="24.72" fill="#f2e62c"/>
<rect x="1448.36" y="570.72" width="24.74" height="24.72" fill="#4db06c"/>
<rect x="1472.50" y="570.72" width="24.74" height="24.72" fill="#12987e"/>
<rect x="1496.64" y="570.72" width="48.88" height="24.72" fill="#128d88"/>
<rect x="1544.92" y="570.72" width="24.74" height="24.72" fill="#1a828c"/>
<rect x="1569.06" y="570.72" width="24.74" height="24.72" fill="#401d5d"/>
<rect x="1593.20" y="570.72" width="73.02" height="24.72" fill="#3b1350"/>
<rect x="1665.62" y="570.72" width="48.88" height="24.72" fill="#401d5d"/>
<rect x="1713.90" y="570.72" width="24.74" height="24.72" fill="#3b1350"/>
<rect x="1738.04" y="570.72" width="24.74" height="24.72" fill="#45276a"/>
<rect x="1762.18" y="570.72" width="73.02" height="24.72" fill="#401d5d"/>
<rect x="1231.10" y="594.84" width="24.74" height="24.72" fill="#3b1350"/>
<rect x="1255.24" y="594.84" width="24.74" height="24.72" fill="#434588"/>
<rect x="1279.38" y="594.84" width="24.74" height="24.72" fill="#443679"/>
<rect x="1303.52" y="594.84" width="48.88" height="24.72" fill="#12a474"/>
<rect x="1351.80" y="594.84" width="24.74" height="24.72" fill="#83bf58"/>
<rect x="1375.94" y="594.84" width="24.74" height="24.72" fill="#d4db38"/>
<rect x="1400.08" y="594.84" width="24.74" height="24.72" fill="#f2e62c"/>
<rect x="1424.22" y="594.84" width="24.74" height="24.72" fill="#36608f"/>
<rect x="1448.36" y="594.84" width="24.74" height="24.72" fill="#1a828c"/>
<rect x="1472.50" y="594.84" width="48.88" height="24.72" fill="#128d88"/>
<rect x="1520.78" y="594.84" width="24.74" height="24.72" fill="#12a474"/>
<rect x="1544.92" y="594.84" width="24.74" height="24.72" fill="#12987e"/>
<rect x="1569.06" y="594.84" width="24.74" height="24.72" fill="#3b1350"/>
<rect x="1593.20" y="594.84" width="24.74" height="24.72" fill="#401d5d"/>
<rect x="1617.34" y="594.84" width="24.74" height="24.72" fill="#3b1350"/>
<rect x="1641.48" y="594.84" width="24.74" height="24.72" fill="#45276a"/>
<rect x="1665.62" y="594.84" width="24.74" height="24.72" fill="#401d5d"/>
<rect x="1689.76" y="594.84" width="24.74" height="24.72" fill="#3b1350"/>
<rect x="1713.90" y="594.84" width="24.74" height="24.72" fill="#45276a"/>
<rect x="1738.04" y="594.84" width="24.74" height="24.72" fill="#1a828c"/>
<rect x="1762.18" y="594.84" width="24.74" height="24.72" fill="#3c528c"/>
<rect x="1786.32" y="594.84" width="48.88" height="24.72" fill="#434588"/>
<rect x="1231.10" y="618.96" width="24.74" height="24.72" fill="#3b1350"/>
<rect x="1255.24" y="618.96" width="24.74" height="24.72" fill="#434588"/>
<rect x="1279.38" y="618.96" width="24.74" height="24.72" fill="#443679"/>
<rect x="1303.52" y="618.96" width="48.88" height="24.72" fill="#12a474"/>
<rect x="1351.80" y="618.96" width="24.74" height="24.72" fill="#83bf58"/>
<rect x="1375.94" y="618.96" width="24.74" height="24.72" fill="#f2e62c"/>
<rect x="1400.08" y="618.96" width="24.74" height="24.72" fill="#d4db38"/>
<rect x="1424.22" y="618.96" width="24.74" height="24.72" fill="#36608f"/>
<rect x="1448.36" y="618.96" width="48.88" height="24.72" fill="#1a828c"/>
<rect x="1496.64" y="618.96" width="24.74" height="24.72" fill="#128d88"/>
<rect x="1520.78" y="618.96" width="24.74" height="24.72" fill="#12a474"/>
<rect x="1544.92" y="618.96" width="24.74" height="24.72" fill="#12987e"/>
<rect x="1569.06" y="618.96" width="24.74" height="24.72" fill="#3b1350"/>
<rect x="1593.20" y="618.96" width="24.74" height="24.72" fill="#401d5d"/>
<rect x="1617.34" y="618.96" width="24.74" height="24.72" fill="#3b1350"/>
<rect x="1641.48" y="618.96" width="24.74" height="24.72" fill="#45276a"/>
<rect x="1665.62" y="618.96" width="24.74" height="24.72" fill="#401d5d"/>
<rect x="1689.76" y="618.96" width="24.74" height="24.72" fill="#3b1350"/>
<rect x="1713.90" y="618.96" width="24.74" height="24.72" fill="#45276a"/>
<rect x="1738.04" y="618.96" width="24.74" height="24.72" fill="#1a828c"/>
<rect x="1762.18" y="618.96" width="24.74" height="24.72" fill="#3c528c"/>
<rect x="1786.32" y="618.96" width="48.88" height="24.72" fill="#434588"/>
<rect x="1231.10" y="643.08" width="24.74" height="24.72" fill="#3b1350"/>
<rect x="1255.24" y="643.08" width="24.74" height="24.72" fill="#434588"/>
<rect x="1279.38" y="643.08" width="24.74" height="24.72" fill="#443679"/>
<rect x="1303.52" y="643.08" width="24.74" height="24.72" fill="#12a474"/>
<rect x="1327.66" y="643.08" width="24.74" height="24.72" fill="#12987e"/>
<rect x="1351.80" y="643.08" width="24.74" height="24.72" fill="#f2e62c"/>
<rect x="1375.94" y="643.08" width="48.88" height="24.72" fill="#83bf58"/>
<rect x="1424.22" y="643.08" width="24.74" height="24.72" fill="#2c6c8f"/>
<rect x="1448.36" y="643.08" width="24.74" height="24.72" fill="#128d88"/>
<rect x="1472.50" y="643.08" width="48.88" height="24.72" fill="#1a828c"/>
<rect x="1520.78" y="643.08" width="24.74" height="24.72" fill="#12a474"/>
<rect x="1544.92" y="643.08" width="24.74" height="24.72" fill="#128d88"/>
<rect x="1569.06" y="643.08" width="24.74" height="24.72" fill="#3b1350"/>
<rect x="1593.20" y="643.08" width="24.74" height="24.72" fill="#401d5d"/>
<rect x="1617.34" y="643.08" width="24.74" height="24.72" fill="#3b1350"/>
<rect x="1641.48" y="643.08" width="24.74" height="24.72" fill="#45276a"/>
<rect x="1665.62" y="643.08" width="24.74" height="24.72" fill="#401d5d"/>
<rect x="1689.76" y="643.08" width="24.74" height="24.72" fill="#3b1350"/>
<rect x="1713.90" y="643.08" width="24.74" height="24.72" fill="#401d5d"/>
<rect x="1738.04" y="643.08" width="24.74" height="24.72" fill="#128d88"/>
<rect x="1762.18" y="643.08" width="24.74" height="24.72" fill="#3c528c"/>
<rect x="1786.32" y="643.08" width="48.88" height="24.72" fill="#434588"/>
<rect x="1231.10" y="667.20" width="24.74" height="24.72" fill="#3b1350"/>
<rect x="1255.24" y="667.20" width="48.88" height="24.72" fill="#45276a"/>
<rect x="1303.52" y="667.20" width="24.74" height="24.72" fill="#83bf58"/>
<rect x="1327.66" y="667.20" width="24.74" height="24.72" fill="#f2e62c"/>
<rect x="1351.80" y="667.20" width="24.74" height="24.72" fill="#12987e"/>
<rect x="1375.94" y="667.20" width="48.88" height="24.72" fill="#12a474"/>
<rect x="1424.22" y="667.20" width="24.74" height="24.72" fill="#3c528c"/>
<rect x="1448.36" y="667.20" width="24.74" height="24.72" fill="#23778f"/>
<rect x="1472.50" y="667.20" width="48.88" height="24.72" fill="#36608f"/>
<rect x="1520.78" y="667.20" width="24.74" height="24.72" fill="#23778f"/>
<rect x="1544.92" y="667.20" width="24.74" height="24.72" fill="#36608f"/>
<rect x="1569.06" y="667.20" width="73.02" height="24.72" fill="#3b1350"/>
<rect x="1641.48" y="667.20" width="48.88" height="24.72" fill="#401d5d"/>
<rect x="1689.76" y="667.20" width="48.88" height="24.72" fill="#3b1350"/>
<rect x="1738.04" y="667.20" width="24.74" height="24.72" fill="#36608f"/>
<rect x="1762.18" y="667.20" width="24.74" height="24.72" fill="#443679"/>
<rect x="1786.32" y="667.20" width="48.88" height="24.72" fill="#45276a"/>
<rect x="1231.10" y="691.32" width="24.74" height="24.72" fill="#3b1350"/>
<rect x="1255.24" y="691.32" width="48.88" height="24.72" fill="#45276a"/>
<rect x="1303.52" y="691.32" width="24.74" height="24.72" fill="#f2e62c"/>
<rect x="1327.66" y="691.32" width="24.74" height="24.72" fill="#83bf58"/>
<rect x="1351.80" y="691.32" width="73.02" height="24.72" fill="#12a474"/>
<rect x="1424.22" y="691.32" width="24.74" height="24.72" fill="#443679"/>
<rect x="1448.36" y="691.32" width="48.88" height="24.72" fill="#36608f"/>
<rect x="1496.64" y="691.32" width="24.74" height="24.72" fill="#3c528c"/>
<rect x="1520.78" y="691.32" width="24.74" height="24.72" fill="#2c6c8f"/>
<rect x="1544.92" y="691.32" width="24.74" height="24.72" fill="#36608f"/>
<rect x="1569.06" y="691.32" width="73.02" height="24.72" fill="#3b1350"/>
<rect x="1641.48" y="691.32" width="24.74" height="24.72" fill="#45276a"/>
<rect x="1665.62" y="691.32" width="24.74" height="24.72" fill="#401d5d"/>
<rect x="1689.76" y="691.32" width="48.88" height="24.72" fill="#3b1350"/>
<rect x="1738.04" y="691.32" width="24.74" height="24.72" fill="#23778f"/>
<rect x="1762.18" y="691.32" width="24.74" height="24.72" fill="#3c528c"/>
<rect x="1786.32" y="691.32" width="48.88" height="24.72" fill="#434588"/>
<rect x="1231.10" y="715.44" width="24.74" height="24.72" fill="#434588"/>
<rect x="1255.24" y="715.44" width="24.74" height="24.72" fill="#128d88"/>
<rect x="1279.38" y="715.44" width="24.74" height="24.72" fill="#f2e62c"/>
<rect x="1303.52" y="715.44" width="48.88" height="24.72" fill="#45276a"/>
<rect x="1351.80" y="715.44" width="73.02" height="24.72" fill="#443679"/>
<rect x="1424.22" y="715.44" width="24.74" height="24.72" fill="#3b1350"/>
<rect x="1448.36" y="715.44" width="24.74" height="24.72" fill="#401d5d"/>
<rect x="1472.50" y="715.44" width="24.74" height="24.72" fill="#45276a"/>
<rect x="1496.64" y="715.44" width="24.74" height="24.72" fill="#443679"/>
<rect x="1520.78" y="715.44" width="48.88" height="24.72" fill="#434588"/>
<rect x="1569.06" y="715.44" width="24.74" height="24.72" fill="#443679"/>
<rect x="1593.20" y="715.44" width="48.88" height="24.72" fill="#3c528c"/>
<rect x="1641.48" y="715.44" width="97.16" height="24.72" fill="#45276a"/>
<rect x="1738.04" y="715.44" width="24.74" height="24.72" fill="#443679"/>
<rect x="1762.18" y="715.44" width="73.02" height="24.72" fill="#45276a"/>
<rect x="1231.10" y="739.56" width="24.74" height="24.72" fill="#36608f"/>
<rect x="1255.24" y="739.56" width="24.74" height="24.72" fill="#f2e62c"/>
<rect x="1279.38" y="739.56" width="24.74" height="24.72" fill="#128d88"/>
<rect x="1303.52" y="739.56" width="48.88" height="24.72" fill="#45276a"/>
<rect x="1351.80" y="739.56" width="73.02" height="24.72" fill="#434588"/>
<rect x="1424.22" y="739.56" width="97.16" height="24.72" fill="#36608f"/>
<rect x="1520.78" y="739.56" width="48.88" height="24.72" fill="#23778f"/>
<rect x="1569.06" y="739.56" width="24.74" height="24.72" fill="#3c528c"/>
<rect x="1593.20" y="739.56" width="24.74" height="24.72" fill="#443679"/>
<rect x="1617.34" y="739.56" width="24.74" height="24.72" fill="#3c528c"/>
<rect x="1641.48" y="739.56" width="24.74" height="24.72" fill="#3b1350"/>
<rect x="1665.62" y="739.56" width="24.74" height="24.72" fill="#401d5d"/>
<rect x="1689.76" y="739.56" width="24.74" height="24.72" fill="#45276a"/>
<rect x="1713.90" y="739.56" width="24.74" height="24.72" fill="#3b1350"/>
<rect x="1738.04" y="739.56" width="24.74" height="24.72" fill="#45276a"/>
<rect x="1762.18" y="739.56" width="73.02" height="24.72" fill="#3b1350"/>
<rect x="1231.10" y="763.68" width="24.74" height="24.72" fill="#f2e62c"/>
<rect x="1255.24" y="763.68" width="24.74" height="24.72" fill="#36608f"/>
<rect x="1279.38" y="763.68" width="24.74" height="24.72" fill="#434588"/>
<rect x="1303.52" y="763.68" width="242.00" height="24.72" fill="#3b1350"/>
<rect x="1544.92" y="763.68" width="24.74" height="24.72" fill="#401d5d"/>
<rect x="1569.06" y="763.68" width="24.74" height="24.72" fill="#23778f"/>
<rect x="1593.20" y="763.68" width="48.88" height="24.72" fill="#36608f"/>
<rect x="1641.48" y="763.68" width="24.74" height="24.72" fill="#45276a"/>
<rect x="1665.62" y="763.68" width="24.74" height="24.72" fill="#443679"/>
<rect x="1689.76" y="763.68" width="24.74" height="24.72" fill="#434588"/>
<rect x="1713.90" y="763.68" width="24.74" height="24.72" fill="#401d5d"/>
<rect x="1738.04" y="763.68" width="24.74" height="24.72" fill="#3b1350"/>
<rect x="1762.18" y="763.68" width="73.02" height="24.72" fill="#401d5d"/>
<rect x="1208.20" y="184.80" width="22.50" height="121.10" fill="#9e1459"/>
<rect x="1208.20" y="305.40" width="22.50" height="145.22" fill="#066fa9"/>
<rect x="1208.20" y="450.12" width="22.50" height="145.22" fill="#038242"/>
<rect x="1208.20" y="594.84" width="22.50" height="121.10" fill="#eb4d4f"/>
<rect x="1208.20" y="715.44" width="22.50" height="48.74" fill="#37bfe1"/>
<rect x="1208.20" y="763.68" width="22.50" height="24.12" fill="#b15d9d"/>
<rect x="1231.10" y="788.30" width="24.64" height="23.30" fill="#b15d9d"/>
<rect x="1255.24" y="788.30" width="48.78" height="23.30" fill="#37bfe1"/>
<rect x="1303.52" y="788.30" width="121.20" height="23.30" fill="#eb4d4f"/>
<rect x="1424.22" y="788.30" width="145.34" height="23.30" fill="#038242"/>
<rect x="1569.06" y="788.30" width="145.34" height="23.30" fill="#066fa9"/>
<rect x="1713.90" y="788.30" width="120.70" height="23.30" fill="#9e1459"/>
</g>
<text transform="translate(1251.10 176.00) rotate(-90)" font-size="25" fill="#231f20">IL-15</text>
<text x="1844.40" y="201.00" font-size="25" fill="#231f20">IL-15</text>
<text transform="translate(1275.39 176.00) rotate(-90)" font-size="25" fill="#231f20">IFN-a2</text>
<text x="1844.40" y="225.30" font-size="25" fill="#231f20">IFN-a2</text>
<text transform="translate(1299.68 176.00) rotate(-90)" font-size="25" fill="#231f20">VEGF</text>
<text x="1844.40" y="249.60" font-size="25" fill="#231f20">VEGF</text>
<text transform="translate(1323.97 176.00) rotate(-90)" font-size="25" fill="#231f20">CCL2</text>
<text x="1844.40" y="273.90" font-size="25" fill="#231f20">CCL2</text>
<text transform="translate(1348.26 176.00) rotate(-90)" font-size="25" fill="#231f20">CXCL8</text>
<text x="1844.40" y="298.20" font-size="25" fill="#231f20">CXCL8</text>
<text transform="translate(1372.55 176.00) rotate(-90)" font-size="25" fill="#231f20">IL-6</text>
<text x="1844.40" y="322.50" font-size="25" fill="#231f20">IL-6</text>
<text transform="translate(1396.84 176.00) rotate(-90)" font-size="25" fill="#231f20">IL-2</text>
<text x="1844.40" y="346.80" font-size="25" fill="#231f20">IL-2</text>
<text transform="translate(1421.13 176.00) rotate(-90)" font-size="25" fill="#231f20">sIL-1RA</text>
<text x="1844.40" y="371.10" font-size="25" fill="#231f20">sIL-1RA</text>
<text transform="translate(1445.42 176.00) rotate(-90)" font-size="25" fill="#231f20">IL-7</text>
<text x="1844.40" y="395.40" font-size="25" fill="#231f20">IL-7</text>
<text transform="translate(1469.71 176.00) rotate(-90)" font-size="25" fill="#231f20">CCL3</text>
<text x="1844.40" y="419.70" font-size="25" fill="#231f20">CCL3</text>
<text transform="translate(1494.00 176.00) rotate(-90)" font-size="25" fill="#231f20">CSF3</text>
<text x="1844.40" y="444.00" font-size="25" fill="#231f20">CSF3</text>
<text transform="translate(1518.29 176.00) rotate(-90)" font-size="25" fill="#231f20">IL-10</text>
<text x="1844.40" y="468.30" font-size="25" fill="#231f20">IL-10</text>
<text transform="translate(1542.58 176.00) rotate(-90)" font-size="25" fill="#231f20">IFN-g</text>
<text x="1844.40" y="492.60" font-size="25" fill="#231f20">IFN-g</text>
<text transform="translate(1566.87 176.00) rotate(-90)" font-size="25" fill="#231f20">TNF-a</text>
<text x="1844.40" y="516.90" font-size="25" fill="#231f20">TNF-a</text>
<text transform="translate(1591.16 176.00) rotate(-90)" font-size="25" fill="#231f20">IL-4</text>
<text x="1844.40" y="541.20" font-size="25" fill="#231f20">IL-4</text>
<text transform="translate(1615.45 176.00) rotate(-90)" font-size="25" fill="#231f20">IL-5</text>
<text x="1844.40" y="565.50" font-size="25" fill="#231f20">IL-5</text>
<text transform="translate(1639.74 176.00) rotate(-90)" font-size="25" fill="#231f20">IL-1b</text>
<text x="1844.40" y="589.80" font-size="25" fill="#231f20">IL-1b</text>
<text transform="translate(1664.03 176.00) rotate(-90)" font-size="25" fill="#231f20">IL-17a</text>
<text x="1844.40" y="614.10" font-size="25" fill="#231f20">IL-17a</text>
<text transform="translate(1688.32 176.00) rotate(-90)" font-size="25" fill="#231f20">CSF2</text>
<text x="1844.40" y="638.40" font-size="25" fill="#231f20">CSF2</text>
<text transform="translate(1712.61 176.00) rotate(-90)" font-size="25" fill="#231f20">IL-12p70</text>
<text x="1844.40" y="662.70" font-size="25" fill="#231f20">IL-12p70</text>
<text transform="translate(1736.90 176.00) rotate(-90)" font-size="25" fill="#231f20">IL-13</text>
<text x="1844.40" y="687.00" font-size="25" fill="#231f20">IL-13</text>
<text transform="translate(1761.19 176.00) rotate(-90)" font-size="25" fill="#231f20">CXCL10</text>
<text x="1844.40" y="711.30" font-size="25" fill="#231f20">CXCL10</text>
<text transform="translate(1785.48 176.00) rotate(-90)" font-size="25" fill="#231f20">CCL4</text>
<text x="1844.40" y="735.60" font-size="25" fill="#231f20">CCL4</text>
<text transform="translate(1809.77 176.00) rotate(-90)" font-size="25" fill="#231f20">sIL-2RA</text>
<text x="1844.40" y="759.90" font-size="25" fill="#231f20">sIL-2RA</text>
<text transform="translate(1834.06 176.00) rotate(-90)" font-size="25" fill="#231f20">IL-18</text>
<text x="1844.40" y="784.20" font-size="25" fill="#231f20">IL-18</text>
<rect x="2017.60" y="216.50" width="7.20" height="501.00" fill="url(#gV)"/>
<text x="2034.80" y="222.50" font-size="25" fill="#231f20">1.0</text>
<text x="2034.80" y="325.40" font-size="25" fill="#231f20">0.8</text>
<text x="2034.80" y="427.80" font-size="25" fill="#231f20">0.6</text>
<text x="2034.80" y="525.00" font-size="25" fill="#231f20">0.4</text>
<text x="2034.80" y="624.80" font-size="25" fill="#231f20">0.2</text>
<text x="2034.80" y="723.40" font-size="25" fill="#231f20">0</text>
<text transform="translate(2099.50 472.00) rotate(90)" font-size="25" text-anchor="middle" fill="#231f20">Probability of clusterig together</text>
<g fill="none" stroke="#333" stroke-width="1.3">
<path d="M254 808.6V851.6"/>
<path d="M379.5 808.6V847H793.3V853.6"/>
<path d="M546.3 808.6V839.7H1256.4V846.5"/>
<path d="M679.6 808.6V833.6H1675.3V842.5"/>
</g>
<text x="224.50" y="882.50" font-size="25" fill="#231f20">Program 1</text>
<text x="729.90" y="882.50" font-size="25" fill="#231f20">Program 2</text>
<text x="1198.00" y="882.50" font-size="25" fill="#231f20">Program 3</text>
<text x="1618.80" y="882.50" font-size="25" fill="#231f20">Program 4</text>
<text x="3.80" y="936.30" font-size="28" font-weight="bold" fill="#231f20">c</text>
<g shape-rendering="crispEdges">
<rect x="102.90" y="1010.50" width="40.45" height="15.48" fill="#7f0716"/>
<rect x="142.85" y="1010.50" width="40.45" height="15.48" fill="#e6888a"/>
<rect x="182.80" y="1010.50" width="40.45" height="15.48" fill="#e82436"/>
<rect x="222.75" y="1010.50" width="40.45" height="15.48" fill="#e89597"/>
<rect x="262.70" y="1010.50" width="40.45" height="15.48" fill="#e6888a"/>
<rect x="102.90" y="1025.48" width="40.45" height="15.48" fill="#7f0716"/>
<rect x="142.85" y="1025.48" width="40.45" height="15.48" fill="#e82436"/>
<rect x="182.80" y="1025.48" width="40.45" height="15.48" fill="#e86c70"/>
<rect x="222.75" y="1025.48" width="40.45" height="15.48" fill="#e6888a"/>
<rect x="262.70" y="1025.48" width="40.45" height="15.48" fill="#e82436"/>
<rect x="102.90" y="1040.47" width="40.45" height="15.48" fill="#a01424"/>
<rect x="142.85" y="1040.47" width="40.45" height="15.48" fill="#e82436"/>
<rect x="182.80" y="1040.47" width="40.45" height="15.48" fill="#eaa2a4"/>
<rect x="222.75" y="1040.47" width="40.45" height="15.48" fill="#f0c0c0"/>
<rect x="262.70" y="1040.47" width="40.45" height="15.48" fill="#e6888a"/>
<rect x="102.90" y="1055.45" width="40.45" height="15.48" fill="#3658a4"/>
<rect x="142.85" y="1055.45" width="40.45" height="15.48" fill="#3658a4"/>
<rect x="182.80" y="1055.45" width="40.45" height="15.48" fill="#c6c6de"/>
<rect x="222.75" y="1055.45" width="40.45" height="15.48" fill="#c6c6de"/>
<rect x="262.70" y="1055.45" width="40.45" height="15.48" fill="#8286ba"/>
<rect x="102.90" y="1070.43" width="40.45" height="15.48" fill="#9c9cc8"/>
<rect x="142.85" y="1070.43" width="40.45" height="15.48" fill="#ea4c54"/>
<rect x="182.80" y="1070.43" width="40.45" height="15.48" fill="#f0c0c0"/>
<rect x="222.75" y="1070.43" width="40.45" height="15.48" fill="#f0c0c0"/>
<rect x="262.70" y="1070.43" width="40.45" height="15.48" fill="#e93845"/>
<rect x="102.90" y="1085.41" width="40.45" height="15.48" fill="#f5dada"/>
<rect x="142.85" y="1085.41" width="40.45" height="15.48" fill="#e82436"/>
<rect x="182.80" y="1085.41" width="40.45" height="15.48" fill="#dadaea"/>
<rect x="102.90" y="1100.40" width="40.45" height="15.48" fill="#6870b0"/>
<rect x="142.85" y="1100.40" width="40.45" height="15.48" fill="#cc1a30"/>
<rect x="182.80" y="1100.40" width="40.45" height="15.48" fill="#c6c6de"/>
<rect x="222.75" y="1100.40" width="40.45" height="15.48" fill="#eeeef4"/>
<rect x="262.70" y="1100.40" width="40.45" height="15.48" fill="#f0c0c0"/>
<rect x="102.90" y="1115.38" width="40.45" height="15.48" fill="#cc1a30"/>
<rect x="142.85" y="1115.38" width="40.45" height="15.48" fill="#4860a8"/>
<rect x="182.80" y="1115.38" width="40.45" height="15.48" fill="#eaa2a4"/>
<rect x="262.70" y="1115.38" width="40.45" height="15.48" fill="#eeeef4"/>
<rect x="102.90" y="1130.36" width="40.45" height="15.48" fill="#e6888a"/>
<rect x="142.85" y="1130.36" width="40.45" height="15.48" fill="#3658a4"/>
<rect x="182.80" y="1130.36" width="40.45" height="15.48" fill="#b0b0d4"/>
<rect x="222.75" y="1130.36" width="40.45" height="15.48" fill="#b0b0d4"/>
<rect x="262.70" y="1130.36" width="40.45" height="15.48" fill="#dadaea"/>
<rect x="102.90" y="1145.35" width="40.45" height="15.48" fill="#e86c70"/>
<rect x="142.85" y="1145.35" width="40.45" height="15.48" fill="#8286ba"/>
<rect x="182.80" y="1145.35" width="40.45" height="15.48" fill="#bbbbd9"/>
<rect x="222.75" y="1145.35" width="40.45" height="15.48" fill="#b0b0d4"/>
<rect x="262.70" y="1145.35" width="40.45" height="15.48" fill="#8286ba"/>
<rect x="102.90" y="1160.33" width="40.45" height="15.48" fill="#e82436"/>
<rect x="142.85" y="1160.33" width="40.45" height="15.48" fill="#9c9cc8"/>
<rect x="182.80" y="1160.33" width="40.45" height="15.48" fill="#bbbbd9"/>
<rect x="222.75" y="1160.33" width="40.45" height="15.48" fill="#c6c6de"/>
<rect x="262.70" y="1160.33" width="40.45" height="15.48" fill="#8286ba"/>
<rect x="102.90" y="1175.31" width="40.45" height="15.48" fill="#c6c6de"/>
<rect x="142.85" y="1175.31" width="40.45" height="15.48" fill="#8286ba"/>
<rect x="182.80" y="1175.31" width="40.45" height="15.48" fill="#e77a7d"/>
<rect x="222.75" y="1175.31" width="40.45" height="15.48" fill="#c6c6de"/>
<rect x="262.70" y="1175.31" width="40.45" height="15.48" fill="#b0b0d4"/>
<rect x="102.90" y="1190.30" width="40.45" height="15.48" fill="#bbbbd9"/>
<rect x="142.85" y="1190.30" width="40.45" height="15.48" fill="#9c9cc8"/>
<rect x="182.80" y="1190.30" width="40.45" height="15.48" fill="#eeeef4"/>
<rect x="222.75" y="1190.30" width="40.45" height="15.48" fill="#f9ecec"/>
<rect x="262.70" y="1190.30" width="40.45" height="15.48" fill="#f5dada"/>
<rect x="102.90" y="1205.28" width="40.45" height="15.48" fill="#9c9cc8"/>
<rect x="142.85" y="1205.28" width="40.45" height="15.48" fill="#5664aa"/>
<rect x="182.80" y="1205.28" width="40.45" height="15.48" fill="#eeeef4"/>
<rect x="222.75" y="1205.28" width="40.45" height="15.48" fill="#c6c6de"/>
<rect x="262.70" y="1205.28" width="40.45" height="15.48" fill="#b0b0d4"/>
<rect x="102.90" y="1220.26" width="40.45" height="15.48" fill="#8286ba"/>
<rect x="142.85" y="1220.26" width="40.45" height="15.48" fill="#b0b0d4"/>
<rect x="222.75" y="1220.26" width="40.45" height="15.48" fill="#b0b0d4"/>
<rect x="262.70" y="1220.26" width="40.45" height="15.48" fill="#c6c6de"/>
<rect x="102.90" y="1235.24" width="40.45" height="15.48" fill="#9c9cc8"/>
<rect x="142.85" y="1235.24" width="40.45" height="15.48" fill="#9c9cc8"/>
<rect x="182.80" y="1235.24" width="40.45" height="15.48" fill="#c6c6de"/>
<rect x="222.75" y="1235.24" width="40.45" height="15.48" fill="#d0d0e4"/>
<rect x="262.70" y="1235.24" width="40.45" height="15.48" fill="#bbbbd9"/>
<rect x="102.90" y="1250.23" width="40.45" height="15.48" fill="#e4e4ef"/>
<rect x="142.85" y="1250.23" width="40.45" height="15.48" fill="#e86c70"/>
<rect x="182.80" y="1250.23" width="40.45" height="15.48" fill="#c6c6de"/>
<rect x="262.70" y="1250.23" width="40.45" height="15.48" fill="#f0c0c0"/>
<rect x="102.90" y="1265.21" width="40.45" height="15.48" fill="#f0c0c0"/>
<rect x="142.85" y="1265.21" width="40.45" height="15.48" fill="#e95c62"/>
<rect x="182.80" y="1265.21" width="40.45" height="15.48" fill="#b0b0d4"/>
<rect x="222.75" y="1265.21" width="40.45" height="15.48" fill="#dadaea"/>
<rect x="262.70" y="1265.21" width="40.45" height="15.48" fill="#eaa2a4"/>
<rect x="102.90" y="1280.19" width="40.45" height="15.48" fill="#e89597"/>
<rect x="142.85" y="1280.19" width="40.45" height="15.48" fill="#c6c6de"/>
<rect x="222.75" y="1280.19" width="40.45" height="15.48" fill="#eaa2a4"/>
<rect x="262.70" y="1280.19" width="40.45" height="15.48" fill="#f0c0c0"/>
<rect x="102.90" y="1295.18" width="40.45" height="15.48" fill="#e6888a"/>
<rect x="142.85" y="1295.18" width="40.45" height="15.48" fill="#f0c0c0"/>
<rect x="222.75" y="1295.18" width="40.45" height="15.48" fill="#eaa2a4"/>
<rect x="262.70" y="1295.18" width="40.45" height="15.48" fill="#f0c0c0"/>
<rect x="102.90" y="1310.16" width="40.45" height="15.48" fill="#edb1b2"/>
<rect x="142.85" y="1310.16" width="40.45" height="15.48" fill="#f0c0c0"/>
<rect x="182.80" y="1310.16" width="40.45" height="15.48" fill="#e6888a"/>
<rect x="222.75" y="1310.16" width="40.45" height="15.48" fill="#c6c6de"/>
<rect x="262.70" y="1310.16" width="40.45" height="15.48" fill="#f5dada"/>
<rect x="102.90" y="1325.14" width="40.45" height="15.48" fill="#e6888a"/>
<rect x="142.85" y="1325.14" width="40.45" height="15.48" fill="#f2cdcd"/>
<rect x="182.80" y="1325.14" width="40.45" height="15.48" fill="#e6888a"/>
<rect x="222.75" y="1325.14" width="40.45" height="15.48" fill="#f2cdcd"/>
<rect x="262.70" y="1325.14" width="40.45" height="15.48" fill="#f7e3e3"/>
<rect x="102.90" y="1340.12" width="40.45" height="15.48" fill="#eaa2a4"/>
<rect x="142.85" y="1340.12" width="40.45" height="15.48" fill="#e6888a"/>
<rect x="182.80" y="1340.12" width="40.45" height="15.48" fill="#eaa2a4"/>
<rect x="222.75" y="1340.12" width="40.45" height="15.48" fill="#f9ecec"/>
<rect x="262.70" y="1340.12" width="40.45" height="15.48" fill="#f9ecec"/>
<rect x="102.90" y="1355.11" width="40.45" height="15.48" fill="#eaa2a4"/>
<rect x="142.85" y="1355.11" width="40.45" height="15.48" fill="#e6888a"/>
<rect x="182.80" y="1355.11" width="40.45" height="15.48" fill="#e6888a"/>
<rect x="222.75" y="1355.11" width="40.45" height="15.48" fill="#f5dada"/>
<rect x="262.70" y="1355.11" width="40.45" height="15.48" fill="#f2cdcd"/>
<rect x="102.90" y="1370.09" width="40.45" height="15.48" fill="#f2cdcd"/>
<rect x="142.85" y="1370.09" width="40.45" height="15.48" fill="#b0b0d4"/>
<rect x="182.80" y="1370.09" width="40.45" height="15.48" fill="#f2cdcd"/>
<rect x="222.75" y="1370.09" width="40.45" height="15.48" fill="#c6c6de"/>
<rect x="262.70" y="1370.09" width="40.45" height="15.48" fill="#eeeef4"/>
<rect x="182.80" y="1385.07" width="40.45" height="15.48" fill="#f5dada"/>
<rect x="222.75" y="1385.07" width="40.45" height="15.48" fill="#c6c6de"/>
<rect x="262.70" y="1385.07" width="40.45" height="15.48" fill="#f5dada"/>
<rect x="102.90" y="1400.06" width="40.45" height="15.48" fill="#f0c0c0"/>
<rect x="142.85" y="1400.06" width="40.45" height="15.48" fill="#f5dada"/>
<rect x="182.80" y="1400.06" width="40.45" height="15.48" fill="#eaa2a4"/>
<rect x="222.75" y="1400.06" width="40.45" height="15.48" fill="#eeeef4"/>
<rect x="262.70" y="1400.06" width="40.45" height="15.48" fill="#f0c0c0"/>
<rect x="102.90" y="1415.04" width="40.45" height="15.48" fill="#f7e3e3"/>
<rect x="142.85" y="1415.04" width="40.45" height="15.48" fill="#eeeef4"/>
<rect x="182.80" y="1415.04" width="40.45" height="15.48" fill="#edb1b2"/>
<rect x="262.70" y="1415.04" width="40.45" height="15.48" fill="#f5dada"/>
<rect x="102.90" y="1430.02" width="40.45" height="15.48" fill="#eaa2a4"/>
<rect x="142.85" y="1430.02" width="40.45" height="15.48" fill="#c6c6de"/>
<rect x="182.80" y="1430.02" width="40.45" height="15.48" fill="#eeeef4"/>
<rect x="262.70" y="1430.02" width="40.45" height="15.48" fill="#f5dada"/>
<rect x="102.90" y="1445.00" width="40.45" height="15.48" fill="#eeeef4"/>
<rect x="142.85" y="1445.00" width="40.45" height="15.48" fill="#f5dada"/>
<rect x="222.75" y="1445.00" width="40.45" height="15.48" fill="#f9ecec"/>
<rect x="262.70" y="1445.00" width="40.45" height="15.48" fill="#f5dada"/>
<rect x="142.85" y="1459.99" width="40.45" height="15.48" fill="#f0c0c0"/>
<rect x="262.70" y="1459.99" width="40.45" height="15.48" fill="#f9ecec"/>
<rect x="102.90" y="1474.97" width="40.45" height="15.48" fill="#eeeef4"/>
<rect x="142.85" y="1474.97" width="40.45" height="15.48" fill="#f0c0c0"/>
<rect x="222.75" y="1474.97" width="40.45" height="15.48" fill="#f5dada"/>
<rect x="102.90" y="1489.95" width="40.45" height="15.48" fill="#f5dada"/>
<rect x="142.85" y="1489.95" width="40.45" height="15.48" fill="#f5dada"/>
<rect x="182.80" y="1489.95" width="40.45" height="15.48" fill="#eeeef4"/>
<rect x="262.70" y="1489.95" width="40.45" height="15.48" fill="#d0d0e4"/>
<rect x="102.90" y="1504.94" width="40.45" height="15.48" fill="#f7e3e3"/>
<rect x="182.80" y="1504.94" width="40.45" height="15.48" fill="#f9ecec"/>
<rect x="222.75" y="1504.94" width="40.45" height="15.48" fill="#eeeef4"/>
<rect x="262.70" y="1504.94" width="40.45" height="15.48" fill="#eeeef4"/>
<rect x="102.90" y="1519.92" width="40.45" height="15.48" fill="#f5dada"/>
<rect x="142.85" y="1519.92" width="40.45" height="15.48" fill="#f9ecec"/>
<rect x="222.75" y="1519.92" width="40.45" height="15.48" fill="#eeeef4"/>
<rect x="102.90" y="1534.90" width="40.45" height="15.48" fill="#f0c0c0"/>
<rect x="142.85" y="1534.90" width="40.45" height="15.48" fill="#eeeef4"/>
<rect x="182.80" y="1534.90" width="40.45" height="15.48" fill="#eeeef4"/>
<rect x="262.70" y="1534.90" width="40.45" height="15.48" fill="#c6c6de"/>
<rect x="102.90" y="1549.89" width="40.45" height="15.48" fill="#f7e3e3"/>
<rect x="142.85" y="1549.89" width="40.45" height="15.48" fill="#dadaea"/>
<rect x="182.80" y="1549.89" width="40.45" height="15.48" fill="#dadaea"/>
<rect x="222.75" y="1549.89" width="40.45" height="15.48" fill="#f9ecec"/>
<rect x="262.70" y="1549.89" width="40.45" height="15.48" fill="#dadaea"/>
<rect x="102.90" y="1564.87" width="40.45" height="15.48" fill="#e82436"/>
<rect x="142.85" y="1564.87" width="40.45" height="15.48" fill="#eaa2a4"/>
<rect x="182.80" y="1564.87" width="40.45" height="15.48" fill="#edb1b2"/>
<rect x="222.75" y="1564.87" width="40.45" height="15.48" fill="#f0c0c0"/>
<rect x="262.70" y="1564.87" width="40.45" height="15.48" fill="#e89597"/>
<rect x="102.90" y="1579.85" width="40.45" height="15.48" fill="#e86c70"/>
<rect x="142.85" y="1579.85" width="40.45" height="15.48" fill="#e86c70"/>
<rect x="182.80" y="1579.85" width="40.45" height="15.48" fill="#f5dada"/>
<rect x="222.75" y="1579.85" width="40.45" height="15.48" fill="#f5dada"/>
<rect x="262.70" y="1579.85" width="40.45" height="15.48" fill="#8286ba"/>
<rect x="102.90" y="1594.83" width="40.45" height="15.48" fill="#e95c62"/>
<rect x="142.85" y="1594.83" width="40.45" height="15.48" fill="#e82436"/>
<rect x="182.80" y="1594.83" width="40.45" height="15.48" fill="#f5dada"/>
<rect x="222.75" y="1594.83" width="40.45" height="15.48" fill="#f9ecec"/>
<rect x="262.70" y="1594.83" width="40.45" height="15.48" fill="#f2cdcd"/>
<rect x="102.90" y="1609.82" width="40.45" height="15.48" fill="#ea4c54"/>
<rect x="142.85" y="1609.82" width="40.45" height="15.48" fill="#e82436"/>
<rect x="182.80" y="1609.82" width="40.45" height="15.48" fill="#f0c0c0"/>
<rect x="222.75" y="1609.82" width="40.45" height="15.48" fill="#f9ecec"/>
<rect x="262.70" y="1609.82" width="40.45" height="15.48" fill="#eeeef4"/>
</g>
<rect x="302.70" y="1010.50" width="164.70" height="614.30" fill="#fff" stroke="#4a4a4a" stroke-width="1.4"/>
<rect x="385.10" y="1019.84" width="65.70" height="3.80" fill="#8cbc48"/>
<rect x="385.10" y="1031.07" width="75.70" height="3.80" fill="#c3c6c6"/>
<rect x="385.10" y="1046.06" width="46.70" height="3.80" fill="#c3c6c6"/>
<rect x="347.00" y="1061.04" width="38.10" height="3.80" fill="#c3c6c6"/>
<rect x="385.10" y="1079.77" width="23.40" height="3.80" fill="#8cbc48"/>
<rect x="385.10" y="1094.75" width="17.30" height="3.80" fill="#8cbc48"/>
<rect x="385.10" y="1109.73" width="10.70" height="3.80" fill="#8cbc48"/>
<rect x="385.10" y="1120.97" width="12.60" height="3.80" fill="#c3c6c6"/>
<rect x="368.00" y="1139.70" width="17.10" height="3.80" fill="#8cbc48"/>
<rect x="374.80" y="1150.94" width="10.30" height="3.80" fill="#c3c6c6"/>
<rect x="381.80" y="1169.67" width="3.30" height="3.80" fill="#8cbc48"/>
<rect x="377.90" y="1184.65" width="7.20" height="3.80" fill="#8cbc48"/>
<rect x="379.00" y="1199.63" width="6.10" height="3.80" fill="#8cbc48"/>
<rect x="365.00" y="1210.87" width="20.10" height="3.80" fill="#c3c6c6"/>
<rect x="370.60" y="1225.85" width="14.50" height="3.80" fill="#c3c6c6"/>
<rect x="369.00" y="1244.58" width="16.10" height="3.80" fill="#8cbc48"/>
<rect x="385.10" y="1259.56" width="6.50" height="3.80" fill="#8cbc48"/>
<rect x="385.10" y="1274.55" width="11.00" height="3.80" fill="#8cbc48"/>
<rect x="385.10" y="1289.53" width="10.00" height="3.80" fill="#8cbc48"/>
<rect x="385.10" y="1304.51" width="15.00" height="3.80" fill="#8cbc48"/>
<rect x="385.10" y="1315.75" width="10.70" height="3.80" fill="#c3c6c6"/>
<rect x="385.10" y="1330.73" width="15.00" height="3.80" fill="#c3c6c6"/>
<rect x="385.10" y="1349.46" width="14.30" height="3.80" fill="#8cbc48"/>
<rect x="385.10" y="1360.70" width="16.80" height="3.80" fill="#c3c6c6"/>
<rect x="382.80" y="1375.68" width="2.30" height="3.80" fill="#c3c6c6"/>
<rect x="385.10" y="1394.41" width="0.70" height="3.80" fill="#8cbc48"/>
<rect x="385.10" y="1405.65" width="9.10" height="3.80" fill="#c3c6c6"/>
<rect x="385.10" y="1424.38" width="4.70" height="3.80" fill="#8cbc48"/>
<rect x="385.10" y="1435.61" width="2.60" height="3.80" fill="#c3c6c6"/>
<rect x="385.10" y="1454.34" width="2.30" height="3.80" fill="#8cbc48"/>
<rect x="385.10" y="1465.58" width="4.00" height="3.80" fill="#c3c6c6"/>
<rect x="385.10" y="1480.56" width="4.00" height="3.80" fill="#c3c6c6"/>
<rect x="385.10" y="1495.55" width="1.00" height="3.80" fill="#c3c6c6"/>
<rect x="385.10" y="1510.53" width="0.70" height="3.80" fill="#c3c6c6"/>
<rect x="385.10" y="1525.51" width="2.00" height="3.80" fill="#c3c6c6"/>
<rect x="384.60" y="1544.24" width="0.50" height="3.80" fill="#8cbc48"/>
<rect x="384.10" y="1555.48" width="1.00" height="3.80" fill="#c3c6c6"/>
<rect x="385.10" y="1574.21" width="27.80" height="3.80" fill="#8cbc48"/>
<rect x="385.10" y="1585.44" width="12.10" height="3.80" fill="#c3c6c6"/>
<rect x="385.10" y="1604.17" width="25.20" height="3.80" fill="#8cbc48"/>
<rect x="385.10" y="1619.15" width="25.00" height="3.80" fill="#8cbc48"/>
<text x="136.30" y="944.60" font-size="25" fill="#231f20">Average log<tspan font-size="16.5" dy="7">10</tspan><tspan dy="-7">(fold change)</tspan></text>
<text x="141.00" y="994.40" font-size="25" word-spacing="-1.6" fill="#231f20"><tspan font-style="italic">P</tspan> = 0.0097*</text>
<text x="285.50" y="994.40" font-size="25" fill="#231f20">–1.2</text>
<text x="382.50" y="994.40" font-size="25" text-anchor="middle" fill="#231f20">0</text>
<text x="453.10" y="994.40" font-size="25" fill="#231f20">1.2</text>
<text transform="translate(124.00 1639.50) rotate(-90)" font-size="25" text-anchor="end" fill="#231f20">CXCL8</text>
<text transform="translate(167.20 1639.50) rotate(-90)" font-size="25" text-anchor="end" fill="#231f20">IL-6</text>
<text transform="translate(208.20 1639.50) rotate(-90)" font-size="25" text-anchor="end" fill="#231f20">CCL2</text>
<text transform="translate(249.20 1639.50) rotate(-90)" font-size="25" text-anchor="end" fill="#231f20">IL-2</text>
<text transform="translate(288.60 1639.50) rotate(-90)" font-size="25" text-anchor="end" fill="#231f20">sIL-1RA</text>
<g shape-rendering="crispEdges">
<rect x="606.70" y="1010.50" width="34.10" height="15.48" fill="#2c327e"/>
<rect x="640.30" y="1010.50" width="34.10" height="15.48" fill="#4860a8"/>
<rect x="673.90" y="1010.50" width="34.10" height="15.48" fill="#9c9cc8"/>
<rect x="707.50" y="1010.50" width="34.10" height="15.48" fill="#eeeef4"/>
<rect x="774.70" y="1010.50" width="34.10" height="15.48" fill="#3658a4"/>
<rect x="606.70" y="1025.48" width="34.10" height="15.48" fill="#3658a4"/>
<rect x="640.30" y="1025.48" width="34.10" height="15.48" fill="#3658a4"/>
<rect x="673.90" y="1025.48" width="34.10" height="15.48" fill="#8286ba"/>
<rect x="707.50" y="1025.48" width="34.10" height="15.48" fill="#8286ba"/>
<rect x="741.10" y="1025.48" width="34.10" height="15.48" fill="#9c9cc8"/>
<rect x="774.70" y="1025.48" width="34.10" height="15.48" fill="#8286ba"/>
<rect x="606.70" y="1040.47" width="34.10" height="15.48" fill="#cc1a30"/>
<rect x="640.30" y="1040.47" width="34.10" height="15.48" fill="#eeeef4"/>
<rect x="673.90" y="1040.47" width="34.10" height="15.48" fill="#b0b0d4"/>
<rect x="707.50" y="1040.47" width="34.10" height="15.48" fill="#c6c6de"/>
<rect x="741.10" y="1040.47" width="34.10" height="15.48" fill="#8286ba"/>
<rect x="774.70" y="1040.47" width="34.10" height="15.48" fill="#6870b0"/>
<rect x="606.70" y="1055.45" width="34.10" height="15.48" fill="#e82436"/>
<rect x="640.30" y="1055.45" width="34.10" height="15.48" fill="#dadaea"/>
<rect x="673.90" y="1055.45" width="34.10" height="15.48" fill="#f0c0c0"/>
<rect x="707.50" y="1055.45" width="34.10" height="15.48" fill="#ea4c54"/>
<rect x="741.10" y="1055.45" width="34.10" height="15.48" fill="#b0b0d4"/>
<rect x="774.70" y="1055.45" width="34.10" height="15.48" fill="#c6c6de"/>
<rect x="606.70" y="1070.43" width="34.10" height="15.48" fill="#e82436"/>
<rect x="640.30" y="1070.43" width="34.10" height="15.48" fill="#dadaea"/>
<rect x="707.50" y="1070.43" width="34.10" height="15.48" fill="#dadaea"/>
<rect x="741.10" y="1070.43" width="34.10" height="15.48" fill="#f9ecec"/>
<rect x="774.70" y="1070.43" width="34.10" height="15.48" fill="#dadaea"/>
<rect x="606.70" y="1085.41" width="34.10" height="15.48" fill="#e82436"/>
<rect x="640.30" y="1085.41" width="34.10" height="15.48" fill="#e89597"/>
<rect x="673.90" y="1085.41" width="34.10" height="15.48" fill="#f2cdcd"/>
<rect x="707.50" y="1085.41" width="34.10" height="15.48" fill="#e4e4ef"/>
<rect x="741.10" y="1085.41" width="34.10" height="15.48" fill="#9c9cc8"/>
<rect x="774.70" y="1085.41" width="34.10" height="15.48" fill="#b0b0d4"/>
<rect x="606.70" y="1100.40" width="34.10" height="15.48" fill="#e82436"/>
<rect x="640.30" y="1100.40" width="34.10" height="15.48" fill="#f0c0c0"/>
<rect x="673.90" y="1100.40" width="34.10" height="15.48" fill="#bbbbd9"/>
<rect x="707.50" y="1100.40" width="34.10" height="15.48" fill="#f0c0c0"/>
<rect x="741.10" y="1100.40" width="34.10" height="15.48" fill="#f0c0c0"/>
<rect x="774.70" y="1100.40" width="34.10" height="15.48" fill="#eaa2a4"/>
<rect x="606.70" y="1115.38" width="34.10" height="15.48" fill="#e82436"/>
<rect x="640.30" y="1115.38" width="34.10" height="15.48" fill="#c6c6de"/>
<rect x="673.90" y="1115.38" width="34.10" height="15.48" fill="#eaa2a4"/>
<rect x="707.50" y="1115.38" width="34.10" height="15.48" fill="#f5dada"/>
<rect x="741.10" y="1115.38" width="34.10" height="15.48" fill="#f2cdcd"/>
<rect x="774.70" y="1115.38" width="34.10" height="15.48" fill="#f2cdcd"/>
<rect x="640.30" y="1130.36" width="34.10" height="15.48" fill="#e82436"/>
<rect x="741.10" y="1130.36" width="34.10" height="15.48" fill="#dadaea"/>
<rect x="774.70" y="1130.36" width="34.10" height="15.48" fill="#c6c6de"/>
<rect x="640.30" y="1145.35" width="34.10" height="15.48" fill="#e82436"/>
<rect x="707.50" y="1145.35" width="34.10" height="15.48" fill="#eeeef4"/>
<rect x="741.10" y="1145.35" width="34.10" height="15.48" fill="#eeeef4"/>
<rect x="774.70" y="1145.35" width="34.10" height="15.48" fill="#edb1b2"/>
<rect x="640.30" y="1160.33" width="34.10" height="15.48" fill="#e82436"/>
<rect x="673.90" y="1160.33" width="34.10" height="15.48" fill="#f5dada"/>
<rect x="707.50" y="1160.33" width="34.10" height="15.48" fill="#eaa2a4"/>
<rect x="741.10" y="1160.33" width="34.10" height="15.48" fill="#e6888a"/>
<rect x="774.70" y="1160.33" width="34.10" height="15.48" fill="#9c9cc8"/>
<rect x="640.30" y="1175.31" width="34.10" height="15.48" fill="#cc1a30"/>
<rect x="673.90" y="1175.31" width="34.10" height="15.48" fill="#edb1b2"/>
<rect x="707.50" y="1175.31" width="34.10" height="15.48" fill="#edb1b2"/>
<rect x="741.10" y="1175.31" width="34.10" height="15.48" fill="#e6888a"/>
<rect x="774.70" y="1175.31" width="34.10" height="15.48" fill="#edb1b2"/>
<rect x="606.70" y="1190.30" width="34.10" height="15.48" fill="#6870b0"/>
<rect x="640.30" y="1190.30" width="34.10" height="15.48" fill="#f9ecec"/>
<rect x="673.90" y="1190.30" width="34.10" height="15.48" fill="#8286ba"/>
<rect x="707.50" y="1190.30" width="34.10" height="15.48" fill="#c6c6de"/>
<rect x="741.10" y="1190.30" width="34.10" height="15.48" fill="#3658a4"/>
<rect x="774.70" y="1190.30" width="34.10" height="15.48" fill="#6870b0"/>
<rect x="640.30" y="1205.28" width="34.10" height="15.48" fill="#f7e3e3"/>
<rect x="673.90" y="1205.28" width="34.10" height="15.48" fill="#f5dada"/>
<rect x="707.50" y="1205.28" width="34.10" height="15.48" fill="#9c9cc8"/>
<rect x="741.10" y="1205.28" width="34.10" height="15.48" fill="#6870b0"/>
<rect x="774.70" y="1205.28" width="34.10" height="15.48" fill="#6870b0"/>
<rect x="640.30" y="1220.26" width="34.10" height="15.48" fill="#9c9cc8"/>
<rect x="673.90" y="1220.26" width="34.10" height="15.48" fill="#f9ecec"/>
<rect x="707.50" y="1220.26" width="34.10" height="15.48" fill="#8286ba"/>
<rect x="741.10" y="1220.26" width="34.10" height="15.48" fill="#5664aa"/>
<rect x="774.70" y="1220.26" width="34.10" height="15.48" fill="#4860a8"/>
<rect x="606.70" y="1235.24" width="34.10" height="15.48" fill="#b0b0d4"/>
<rect x="640.30" y="1235.24" width="34.10" height="15.48" fill="#6870b0"/>
<rect x="673.90" y="1235.24" width="34.10" height="15.48" fill="#f5dada"/>
<rect x="707.50" y="1235.24" width="34.10" height="15.48" fill="#6870b0"/>
<rect x="741.10" y="1235.24" width="34.10" height="15.48" fill="#5664aa"/>
<rect x="774.70" y="1235.24" width="34.10" height="15.48" fill="#3658a4"/>
<rect x="640.30" y="1250.23" width="34.10" height="15.48" fill="#e6888a"/>
<rect x="673.90" y="1250.23" width="34.10" height="15.48" fill="#c6c6de"/>
<rect x="707.50" y="1250.23" width="34.10" height="15.48" fill="#dadaea"/>
<rect x="741.10" y="1250.23" width="34.10" height="15.48" fill="#eeeef4"/>
<rect x="774.70" y="1250.23" width="34.10" height="15.48" fill="#9c9cc8"/>
<rect x="606.70" y="1265.21" width="34.10" height="15.48" fill="#eaa2a4"/>
<rect x="673.90" y="1265.21" width="34.10" height="15.48" fill="#f5dada"/>
<rect x="707.50" y="1265.21" width="34.10" height="15.48" fill="#c6c6de"/>
<rect x="741.10" y="1265.21" width="34.10" height="15.48" fill="#b0b0d4"/>
<rect x="774.70" y="1265.21" width="34.10" height="15.48" fill="#b0b0d4"/>
<rect x="606.70" y="1280.19" width="34.10" height="15.48" fill="#f0c0c0"/>
<rect x="640.30" y="1280.19" width="34.10" height="15.48" fill="#f0c0c0"/>
<rect x="673.90" y="1280.19" width="34.10" height="15.48" fill="#edb1b2"/>
<rect x="707.50" y="1280.19" width="34.10" height="15.48" fill="#eeeef4"/>
<rect x="741.10" y="1280.19" width="34.10" height="15.48" fill="#b0b0d4"/>
<rect x="774.70" y="1280.19" width="34.10" height="15.48" fill="#c6c6de"/>
<rect x="640.30" y="1295.18" width="34.10" height="15.48" fill="#eaa2a4"/>
<rect x="673.90" y="1295.18" width="34.10" height="15.48" fill="#eaa2a4"/>
<rect x="707.50" y="1295.18" width="34.10" height="15.48" fill="#eeeef4"/>
<rect x="741.10" y="1295.18" width="34.10" height="15.48" fill="#c6c6de"/>
<rect x="774.70" y="1295.18" width="34.10" height="15.48" fill="#a6a6ce"/>
<rect x="606.70" y="1310.16" width="34.10" height="15.48" fill="#dadaea"/>
<rect x="640.30" y="1310.16" width="34.10" height="15.48" fill="#9c9cc8"/>
<rect x="673.90" y="1310.16" width="34.10" height="15.48" fill="#f9ecec"/>
<rect x="707.50" y="1310.16" width="34.10" height="15.48" fill="#a6a6ce"/>
<rect x="741.10" y="1310.16" width="34.10" height="15.48" fill="#9c9cc8"/>
<rect x="774.70" y="1310.16" width="34.10" height="15.48" fill="#9c9cc8"/>
<rect x="606.70" y="1325.14" width="34.10" height="15.48" fill="#9c9cc8"/>
<rect x="640.30" y="1325.14" width="34.10" height="15.48" fill="#b0b0d4"/>
<rect x="673.90" y="1325.14" width="34.10" height="15.48" fill="#bbbbd9"/>
<rect x="707.50" y="1325.14" width="34.10" height="15.48" fill="#b0b0d4"/>
<rect x="741.10" y="1325.14" width="34.10" height="15.48" fill="#9c9cc8"/>
<rect x="774.70" y="1325.14" width="34.10" height="15.48" fill="#b0b0d4"/>
<rect x="606.70" y="1340.12" width="34.10" height="15.48" fill="#eaa2a4"/>
<rect x="640.30" y="1340.12" width="34.10" height="15.48" fill="#bbbbd9"/>
<rect x="673.90" y="1340.12" width="34.10" height="15.48" fill="#bbbbd9"/>
<rect x="707.50" y="1340.12" width="34.10" height="15.48" fill="#f2cdcd"/>
<rect x="741.10" y="1340.12" width="34.10" height="15.48" fill="#c6c6de"/>
<rect x="606.70" y="1355.11" width="34.10" height="15.48" fill="#f5dada"/>
<rect x="640.30" y="1355.11" width="34.10" height="15.48" fill="#eeeef4"/>
<rect x="673.90" y="1355.11" width="34.10" height="15.48" fill="#bbbbd9"/>
<rect x="707.50" y="1355.11" width="34.10" height="15.48" fill="#eeeef4"/>
<rect x="741.10" y="1355.11" width="34.10" height="15.48" fill="#f9ecec"/>
<rect x="774.70" y="1355.11" width="34.10" height="15.48" fill="#f9ecec"/>
<rect x="606.70" y="1370.09" width="34.10" height="15.48" fill="#eeeef4"/>
<rect x="640.30" y="1370.09" width="34.10" height="15.48" fill="#b0b0d4"/>
<rect x="673.90" y="1370.09" width="34.10" height="15.48" fill="#dadaea"/>
<rect x="707.50" y="1370.09" width="34.10" height="15.48" fill="#eeeef4"/>
<rect x="741.10" y="1370.09" width="34.10" height="15.48" fill="#dadaea"/>
<rect x="774.70" y="1370.09" width="34.10" height="15.48" fill="#f9ecec"/>
<rect x="640.30" y="1385.07" width="34.10" height="15.48" fill="#eeeef4"/>
<rect x="673.90" y="1385.07" width="34.10" height="15.48" fill="#f5dada"/>
<rect x="707.50" y="1385.07" width="34.10" height="15.48" fill="#c6c6de"/>
<rect x="741.10" y="1385.07" width="34.10" height="15.48" fill="#f0c0c0"/>
<rect x="774.70" y="1385.07" width="34.10" height="15.48" fill="#b0b0d4"/>
<rect x="606.70" y="1400.06" width="34.10" height="15.48" fill="#b0b0d4"/>
<rect x="640.30" y="1400.06" width="34.10" height="15.48" fill="#b0b0d4"/>
<rect x="707.50" y="1400.06" width="34.10" height="15.48" fill="#eeeef4"/>
<rect x="741.10" y="1400.06" width="34.10" height="15.48" fill="#c6c6de"/>
<rect x="774.70" y="1400.06" width="34.10" height="15.48" fill="#9c9cc8"/>
<rect x="606.70" y="1415.04" width="34.10" height="15.48" fill="#c6c6de"/>
<rect x="640.30" y="1415.04" width="34.10" height="15.48" fill="#dadaea"/>
<rect x="707.50" y="1415.04" width="34.10" height="15.48" fill="#eeeef4"/>
<rect x="741.10" y="1415.04" width="34.10" height="15.48" fill="#dadaea"/>
<rect x="774.70" y="1415.04" width="34.10" height="15.48" fill="#dadaea"/>
<rect x="606.70" y="1430.02" width="34.10" height="15.48" fill="#f5dada"/>
<rect x="640.30" y="1430.02" width="34.10" height="15.48" fill="#b0b0d4"/>
<rect x="673.90" y="1430.02" width="34.10" height="15.48" fill="#f5dada"/>
<rect x="707.50" y="1430.02" width="34.10" height="15.48" fill="#f9ecec"/>
<rect x="741.10" y="1430.02" width="34.10" height="15.48" fill="#dadaea"/>
<rect x="774.70" y="1430.02" width="34.10" height="15.48" fill="#dadaea"/>
<rect x="640.30" y="1445.00" width="34.10" height="15.48" fill="#b0b0d4"/>
<rect x="673.90" y="1445.00" width="34.10" height="15.48" fill="#f0c0c0"/>
<rect x="707.50" y="1445.00" width="34.10" height="15.48" fill="#d0d0e4"/>
<rect x="741.10" y="1445.00" width="34.10" height="15.48" fill="#c6c6de"/>
<rect x="774.70" y="1445.00" width="34.10" height="15.48" fill="#b0b0d4"/>
<rect x="640.30" y="1459.99" width="34.10" height="15.48" fill="#e6888a"/>
<rect x="673.90" y="1459.99" width="34.10" height="15.48" fill="#f2cdcd"/>
<rect x="707.50" y="1459.99" width="34.10" height="15.48" fill="#f0c0c0"/>
<rect x="741.10" y="1459.99" width="34.10" height="15.48" fill="#f5dada"/>
<rect x="774.70" y="1459.99" width="34.10" height="15.48" fill="#e6888a"/>
<rect x="640.30" y="1474.97" width="34.10" height="15.48" fill="#f0c0c0"/>
<rect x="673.90" y="1474.97" width="34.10" height="15.48" fill="#eeeef4"/>
<rect x="741.10" y="1474.97" width="34.10" height="15.48" fill="#eeeef4"/>
<rect x="774.70" y="1474.97" width="34.10" height="15.48" fill="#e89597"/>
<rect x="606.70" y="1489.95" width="34.10" height="15.48" fill="#f7e3e3"/>
<rect x="640.30" y="1489.95" width="34.10" height="15.48" fill="#f2cdcd"/>
<rect x="673.90" y="1489.95" width="34.10" height="15.48" fill="#eeeef4"/>
<rect x="707.50" y="1489.95" width="34.10" height="15.48" fill="#f5dada"/>
<rect x="741.10" y="1489.95" width="34.10" height="15.48" fill="#eaa2a4"/>
<rect x="774.70" y="1489.95" width="34.10" height="15.48" fill="#f7e3e3"/>
<rect x="606.70" y="1504.94" width="34.10" height="15.48" fill="#c6c6de"/>
<rect x="640.30" y="1504.94" width="34.10" height="15.48" fill="#f9ecec"/>
<rect x="673.90" y="1504.94" width="34.10" height="15.48" fill="#f0c0c0"/>
<rect x="707.50" y="1504.94" width="34.10" height="15.48" fill="#f0c0c0"/>
<rect x="741.10" y="1504.94" width="34.10" height="15.48" fill="#f2cdcd"/>
<rect x="774.70" y="1504.94" width="34.10" height="15.48" fill="#f5dada"/>
<rect x="606.70" y="1519.92" width="34.10" height="15.48" fill="#f0c0c0"/>
<rect x="640.30" y="1519.92" width="34.10" height="15.48" fill="#f5dada"/>
<rect x="673.90" y="1519.92" width="34.10" height="15.48" fill="#edb1b2"/>
<rect x="707.50" y="1519.92" width="34.10" height="15.48" fill="#f5dada"/>
<rect x="741.10" y="1519.92" width="34.10" height="15.48" fill="#f5dada"/>
<rect x="774.70" y="1519.92" width="34.10" height="15.48" fill="#f9ecec"/>
<rect x="606.70" y="1534.90" width="34.10" height="15.48" fill="#e95c62"/>
<rect x="640.30" y="1534.90" width="34.10" height="15.48" fill="#f0c0c0"/>
<rect x="673.90" y="1534.90" width="34.10" height="15.48" fill="#edb1b2"/>
<rect x="707.50" y="1534.90" width="34.10" height="15.48" fill="#e6888a"/>
<rect x="741.10" y="1534.90" width="34.10" height="15.48" fill="#edb1b2"/>
<rect x="774.70" y="1534.90" width="34.10" height="15.48" fill="#e6888a"/>
<rect x="606.70" y="1549.89" width="34.10" height="15.48" fill="#e77a7d"/>
<rect x="673.90" y="1549.89" width="34.10" height="15.48" fill="#e89597"/>
<rect x="707.50" y="1549.89" width="34.10" height="15.48" fill="#f7e3e3"/>
<rect x="741.10" y="1549.89" width="34.10" height="15.48" fill="#eeeef4"/>
<rect x="606.70" y="1564.87" width="34.10" height="15.48" fill="#e86c70"/>
<rect x="640.30" y="1564.87" width="34.10" height="15.48" fill="#f5dada"/>
<rect x="673.90" y="1564.87" width="34.10" height="15.48" fill="#f0c0c0"/>
<rect x="707.50" y="1564.87" width="34.10" height="15.48" fill="#f5dada"/>
<rect x="741.10" y="1564.87" width="34.10" height="15.48" fill="#f5dada"/>
<rect x="774.70" y="1564.87" width="34.10" height="15.48" fill="#f2cdcd"/>
<rect x="606.70" y="1579.85" width="34.10" height="15.48" fill="#8286ba"/>
<rect x="640.30" y="1579.85" width="34.10" height="15.48" fill="#f0c0c0"/>
<rect x="673.90" y="1579.85" width="34.10" height="15.48" fill="#b0b0d4"/>
<rect x="707.50" y="1579.85" width="34.10" height="15.48" fill="#e95c62"/>
<rect x="741.10" y="1579.85" width="34.10" height="15.48" fill="#f5dada"/>
<rect x="774.70" y="1579.85" width="34.10" height="15.48" fill="#f5dada"/>
<rect x="606.70" y="1594.83" width="34.10" height="15.48" fill="#4f62a9"/>
<rect x="640.30" y="1594.83" width="34.10" height="15.48" fill="#9c9cc8"/>
<rect x="673.90" y="1594.83" width="34.10" height="15.48" fill="#c6c6de"/>
<rect x="707.50" y="1594.83" width="34.10" height="15.48" fill="#dadaea"/>
<rect x="741.10" y="1594.83" width="34.10" height="15.48" fill="#dadaea"/>
<rect x="774.70" y="1594.83" width="34.10" height="15.48" fill="#c6c6de"/>
<rect x="606.70" y="1609.82" width="34.10" height="15.48" fill="#8286ba"/>
<rect x="640.30" y="1609.82" width="34.10" height="15.48" fill="#dadaea"/>
<rect x="673.90" y="1609.82" width="34.10" height="15.48" fill="#8286ba"/>
<rect x="707.50" y="1609.82" width="34.10" height="15.48" fill="#d0d0e4"/>
<rect x="741.10" y="1609.82" width="34.10" height="15.48" fill="#dadaea"/>
<rect x="774.70" y="1609.82" width="34.10" height="15.48" fill="#dadaea"/>
</g>
<rect x="808.20" y="1010.50" width="166.50" height="614.30" fill="#fff" stroke="#4a4a4a" stroke-width="1.4"/>
<rect x="847.80" y="1016.09" width="44.20" height="3.80" fill="#c3c6c6"/>
<rect x="841.10" y="1034.82" width="50.90" height="3.80" fill="#8cbc48"/>
<rect x="892.00" y="1049.80" width="1.80" height="3.80" fill="#8cbc48"/>
<rect x="892.00" y="1064.79" width="16.70" height="3.80" fill="#8cbc48"/>
<rect x="892.00" y="1076.02" width="6.70" height="3.80" fill="#c3c6c6"/>
<rect x="892.00" y="1094.75" width="8.00" height="3.80" fill="#8cbc48"/>
<rect x="892.00" y="1105.99" width="18.80" height="3.80" fill="#c3c6c6"/>
<rect x="892.00" y="1120.97" width="20.80" height="3.80" fill="#c3c6c6"/>
<rect x="892.00" y="1139.70" width="7.70" height="3.80" fill="#8cbc48"/>
<rect x="892.00" y="1150.94" width="13.10" height="3.80" fill="#c3c6c6"/>
<rect x="892.00" y="1165.92" width="18.80" height="3.80" fill="#c3c6c6"/>
<rect x="892.00" y="1184.65" width="27.50" height="3.80" fill="#8cbc48"/>
<rect x="863.70" y="1195.89" width="28.30" height="3.80" fill="#c3c6c6"/>
<rect x="878.90" y="1214.62" width="13.10" height="3.80" fill="#8cbc48"/>
<rect x="870.20" y="1225.85" width="21.80" height="3.80" fill="#c3c6c6"/>
<rect x="862.70" y="1240.84" width="29.30" height="3.80" fill="#c3c6c6"/>
<rect x="889.40" y="1259.56" width="2.60" height="3.80" fill="#8cbc48"/>
<rect x="889.20" y="1270.80" width="2.80" height="3.80" fill="#c3c6c6"/>
<rect x="892.00" y="1285.78" width="2.80" height="3.80" fill="#c3c6c6"/>
<rect x="892.00" y="1304.51" width="0.80" height="3.80" fill="#8cbc48"/>
<rect x="876.80" y="1319.50" width="15.20" height="3.80" fill="#8cbc48"/>
<rect x="874.50" y="1330.73" width="17.50" height="3.80" fill="#c3c6c6"/>
<rect x="892.00" y="1345.72" width="0.60" height="3.80" fill="#c3c6c6"/>
<rect x="891.50" y="1364.44" width="0.50" height="3.80" fill="#8cbc48"/>
<rect x="886.10" y="1375.68" width="5.90" height="3.80" fill="#c3c6c6"/>
<rect x="890.70" y="1394.41" width="1.30" height="3.80" fill="#8cbc48"/>
<rect x="881.00" y="1405.65" width="11.00" height="3.80" fill="#c3c6c6"/>
<rect x="886.10" y="1420.63" width="5.90" height="3.80" fill="#c3c6c6"/>
<rect x="890.70" y="1439.36" width="1.30" height="3.80" fill="#8cbc48"/>
<rect x="884.80" y="1454.34" width="7.20" height="3.80" fill="#8cbc48"/>
<rect x="892.00" y="1469.32" width="13.60" height="3.80" fill="#8cbc48"/>
<rect x="892.00" y="1480.56" width="5.90" height="3.80" fill="#c3c6c6"/>
<rect x="892.00" y="1495.55" width="7.70" height="3.80" fill="#c3c6c6"/>
<rect x="892.00" y="1514.27" width="5.70" height="3.80" fill="#8cbc48"/>
<rect x="892.00" y="1525.51" width="9.30" height="3.80" fill="#c3c6c6"/>
<rect x="892.00" y="1544.24" width="23.10" height="3.80" fill="#8cbc48"/>
<rect x="892.00" y="1559.22" width="10.00" height="3.80" fill="#8cbc48"/>
<rect x="892.00" y="1574.21" width="13.90" height="3.80" fill="#8cbc48"/>
<rect x="892.00" y="1589.19" width="4.10" height="3.80" fill="#8cbc48"/>
<rect x="874.80" y="1604.17" width="17.20" height="3.80" fill="#8cbc48"/>
<rect x="877.40" y="1615.41" width="14.60" height="3.80" fill="#c3c6c6"/>
<text x="644.00" y="944.60" font-size="25" fill="#231f20">Average log<tspan font-size="16.5" dy="7">10</tspan><tspan dy="-7">(fold change)</tspan></text>
<text x="644.70" y="994.40" font-size="25" word-spacing="-1.6" fill="#231f20"><tspan font-style="italic">P</tspan> = 0.9432</text>
<text x="783.30" y="994.40" font-size="25" fill="#231f20">–1.2</text>
<text x="890.70" y="994.40" font-size="25" text-anchor="middle" fill="#231f20">0</text>
<text x="958.10" y="994.40" font-size="25" fill="#231f20">1.2</text>
<text transform="translate(629.50 1639.50) rotate(-90)" font-size="25" text-anchor="end" fill="#231f20">CCL3</text>
<text transform="translate(663.00 1639.50) rotate(-90)" font-size="25" text-anchor="end" fill="#231f20">CSF3</text>
<text transform="translate(695.30 1639.50) rotate(-90)" font-size="25" text-anchor="end" fill="#231f20">IL-7</text>
<text transform="translate(729.20 1639.50) rotate(-90)" font-size="25" text-anchor="end" fill="#231f20">IL-10</text>
<text transform="translate(756.80 1639.50) rotate(-90)" font-size="25" text-anchor="end" fill="#231f20">TNF-α</text>
<text transform="translate(790.90 1639.50) rotate(-90)" font-size="25" text-anchor="end" fill="#231f20">IFN-γ</text>
<g shape-rendering="crispEdges">
<rect x="1082.90" y="1010.50" width="33.75" height="15.48" fill="#ea4c54"/>
<rect x="1116.15" y="1010.50" width="33.75" height="15.48" fill="#e86c70"/>
<rect x="1149.40" y="1010.50" width="33.75" height="15.48" fill="#e86c70"/>
<rect x="1182.65" y="1010.50" width="33.75" height="15.48" fill="#e82436"/>
<rect x="1215.90" y="1010.50" width="33.75" height="15.48" fill="#e82436"/>
<rect x="1249.15" y="1010.50" width="33.75" height="15.48" fill="#e82436"/>
<rect x="1082.90" y="1025.48" width="33.75" height="15.48" fill="#6870b0"/>
<rect x="1116.15" y="1025.48" width="33.75" height="15.48" fill="#4860a8"/>
<rect x="1149.40" y="1025.48" width="33.75" height="15.48" fill="#5664aa"/>
<rect x="1182.65" y="1025.48" width="33.75" height="15.48" fill="#4f62a9"/>
<rect x="1215.90" y="1025.48" width="33.75" height="15.48" fill="#4860a8"/>
<rect x="1249.15" y="1025.48" width="33.75" height="15.48" fill="#4860a8"/>
<rect x="1082.90" y="1040.47" width="33.75" height="15.48" fill="#3658a4"/>
<rect x="1116.15" y="1040.47" width="33.75" height="15.48" fill="#e82436"/>
<rect x="1149.40" y="1040.47" width="33.75" height="15.48" fill="#4860a8"/>
<rect x="1182.65" y="1040.47" width="33.75" height="15.48" fill="#e6888a"/>
<rect x="1249.15" y="1040.47" width="33.75" height="15.48" fill="#4860a8"/>
<rect x="1082.90" y="1055.45" width="33.75" height="15.48" fill="#3658a4"/>
<rect x="1116.15" y="1055.45" width="33.75" height="15.48" fill="#f5dada"/>
<rect x="1149.40" y="1055.45" width="33.75" height="15.48" fill="#e86c70"/>
<rect x="1182.65" y="1055.45" width="33.75" height="15.48" fill="#e86c70"/>
<rect x="1215.90" y="1055.45" width="33.75" height="15.48" fill="#e6888a"/>
<rect x="1249.15" y="1055.45" width="33.75" height="15.48" fill="#ea4c54"/>
<rect x="1082.90" y="1070.43" width="33.75" height="15.48" fill="#f0c0c0"/>
<rect x="1116.15" y="1070.43" width="33.75" height="15.48" fill="#f0c0c0"/>
<rect x="1149.40" y="1070.43" width="33.75" height="15.48" fill="#f0c0c0"/>
<rect x="1182.65" y="1070.43" width="33.75" height="15.48" fill="#ea4c54"/>
<rect x="1215.90" y="1070.43" width="33.75" height="15.48" fill="#e6888a"/>
<rect x="1249.15" y="1070.43" width="33.75" height="15.48" fill="#e86c70"/>
<rect x="1082.90" y="1085.41" width="33.75" height="15.48" fill="#ea4c54"/>
<rect x="1116.15" y="1085.41" width="33.75" height="15.48" fill="#e95c62"/>
<rect x="1149.40" y="1085.41" width="33.75" height="15.48" fill="#eeeef4"/>
<rect x="1082.90" y="1100.40" width="33.75" height="15.48" fill="#e6888a"/>
<rect x="1116.15" y="1100.40" width="33.75" height="15.48" fill="#e86c70"/>
<rect x="1149.40" y="1100.40" width="33.75" height="15.48" fill="#f0c0c0"/>
<rect x="1182.65" y="1100.40" width="33.75" height="15.48" fill="#edb1b2"/>
<rect x="1215.90" y="1100.40" width="33.75" height="15.48" fill="#e6888a"/>
<rect x="1249.15" y="1100.40" width="33.75" height="15.48" fill="#f0c0c0"/>
<rect x="1116.15" y="1115.38" width="33.75" height="15.48" fill="#ea4c54"/>
<rect x="1149.40" y="1115.38" width="33.75" height="15.48" fill="#e77a7d"/>
<rect x="1182.65" y="1115.38" width="33.75" height="15.48" fill="#f2cdcd"/>
<rect x="1215.90" y="1115.38" width="33.75" height="15.48" fill="#f0c0c0"/>
<rect x="1082.90" y="1130.36" width="33.75" height="15.48" fill="#3658a4"/>
<rect x="1116.15" y="1130.36" width="33.75" height="15.48" fill="#5664aa"/>
<rect x="1149.40" y="1130.36" width="33.75" height="15.48" fill="#c6c6de"/>
<rect x="1182.65" y="1130.36" width="33.75" height="15.48" fill="#b0b0d4"/>
<rect x="1249.15" y="1130.36" width="33.75" height="15.48" fill="#6870b0"/>
<rect x="1082.90" y="1145.35" width="33.75" height="15.48" fill="#3658a4"/>
<rect x="1116.15" y="1145.35" width="33.75" height="15.48" fill="#bbbbd9"/>
<rect x="1149.40" y="1145.35" width="33.75" height="15.48" fill="#8f91c1"/>
<rect x="1182.65" y="1145.35" width="33.75" height="15.48" fill="#9c9cc8"/>
<rect x="1249.15" y="1145.35" width="33.75" height="15.48" fill="#8286ba"/>
<rect x="1082.90" y="1160.33" width="33.75" height="15.48" fill="#4860a8"/>
<rect x="1116.15" y="1160.33" width="33.75" height="15.48" fill="#c6c6de"/>
<rect x="1149.40" y="1160.33" width="33.75" height="15.48" fill="#5664aa"/>
<rect x="1182.65" y="1160.33" width="33.75" height="15.48" fill="#c6c6de"/>
<rect x="1215.90" y="1160.33" width="33.75" height="15.48" fill="#eeeef4"/>
<rect x="1249.15" y="1160.33" width="33.75" height="15.48" fill="#dadaea"/>
<rect x="1082.90" y="1175.31" width="33.75" height="15.48" fill="#5664aa"/>
<rect x="1116.15" y="1175.31" width="33.75" height="15.48" fill="#b0b0d4"/>
<rect x="1149.40" y="1175.31" width="33.75" height="15.48" fill="#6870b0"/>
<rect x="1182.65" y="1175.31" width="33.75" height="15.48" fill="#c6c6de"/>
<rect x="1249.15" y="1175.31" width="33.75" height="15.48" fill="#9c9cc8"/>
<rect x="1082.90" y="1190.30" width="33.75" height="15.48" fill="#6870b0"/>
<rect x="1116.15" y="1190.30" width="33.75" height="15.48" fill="#8286ba"/>
<rect x="1149.40" y="1190.30" width="33.75" height="15.48" fill="#8286ba"/>
<rect x="1182.65" y="1190.30" width="33.75" height="15.48" fill="#e93845"/>
<rect x="1249.15" y="1190.30" width="33.75" height="15.48" fill="#c6c6de"/>
<rect x="1082.90" y="1205.28" width="33.75" height="15.48" fill="#6870b0"/>
<rect x="1116.15" y="1205.28" width="33.75" height="15.48" fill="#8286ba"/>
<rect x="1149.40" y="1205.28" width="33.75" height="15.48" fill="#c6c6de"/>
<rect x="1182.65" y="1205.28" width="33.75" height="15.48" fill="#e95c62"/>
<rect x="1082.90" y="1220.26" width="33.75" height="15.48" fill="#9c9cc8"/>
<rect x="1116.15" y="1220.26" width="33.75" height="15.48" fill="#3f5ca6"/>
<rect x="1149.40" y="1220.26" width="33.75" height="15.48" fill="#f2cdcd"/>
<rect x="1182.65" y="1220.26" width="33.75" height="15.48" fill="#b0b0d4"/>
<rect x="1082.90" y="1235.24" width="33.75" height="15.48" fill="#8286ba"/>
<rect x="1149.40" y="1235.24" width="33.75" height="15.48" fill="#f5dada"/>
<rect x="1182.65" y="1235.24" width="33.75" height="15.48" fill="#f5dada"/>
<rect x="1215.90" y="1235.24" width="33.75" height="15.48" fill="#f5dada"/>
<rect x="1249.15" y="1235.24" width="33.75" height="15.48" fill="#c6c6de"/>
<rect x="1082.90" y="1250.23" width="33.75" height="15.48" fill="#e77a7d"/>
<rect x="1116.15" y="1250.23" width="33.75" height="15.48" fill="#f0c0c0"/>
<rect x="1149.40" y="1250.23" width="33.75" height="15.48" fill="#c6c6de"/>
<rect x="1182.65" y="1250.23" width="33.75" height="15.48" fill="#eeeef4"/>
<rect x="1249.15" y="1250.23" width="33.75" height="15.48" fill="#dadaea"/>
<rect x="1082.90" y="1265.21" width="33.75" height="15.48" fill="#e77a7d"/>
<rect x="1116.15" y="1265.21" width="33.75" height="15.48" fill="#c6c6de"/>
<rect x="1149.40" y="1265.21" width="33.75" height="15.48" fill="#dadaea"/>
<rect x="1082.90" y="1280.19" width="33.75" height="15.48" fill="#f5dada"/>
<rect x="1116.15" y="1280.19" width="33.75" height="15.48" fill="#b0b0d4"/>
<rect x="1149.40" y="1280.19" width="33.75" height="15.48" fill="#f5dada"/>
<rect x="1182.65" y="1280.19" width="33.75" height="15.48" fill="#edb1b2"/>
<rect x="1249.15" y="1280.19" width="33.75" height="15.48" fill="#f0c0c0"/>
<rect x="1082.90" y="1295.18" width="33.75" height="15.48" fill="#f0c0c0"/>
<rect x="1149.40" y="1295.18" width="33.75" height="15.48" fill="#f0c0c0"/>
<rect x="1182.65" y="1295.18" width="33.75" height="15.48" fill="#c6c6de"/>
<rect x="1215.90" y="1295.18" width="33.75" height="15.48" fill="#f0c0c0"/>
<rect x="1249.15" y="1295.18" width="33.75" height="15.48" fill="#f0c0c0"/>
<rect x="1082.90" y="1310.16" width="33.75" height="15.48" fill="#f0c0c0"/>
<rect x="1116.15" y="1310.16" width="33.75" height="15.48" fill="#f7e3e3"/>
<rect x="1149.40" y="1310.16" width="33.75" height="15.48" fill="#f5dada"/>
<rect x="1182.65" y="1310.16" width="33.75" height="15.48" fill="#eaa2a4"/>
<rect x="1215.90" y="1310.16" width="33.75" height="15.48" fill="#eeeef4"/>
<rect x="1249.15" y="1310.16" width="33.75" height="15.48" fill="#dadaea"/>
<rect x="1082.90" y="1325.14" width="33.75" height="15.48" fill="#f5dada"/>
<rect x="1116.15" y="1325.14" width="33.75" height="15.48" fill="#f0c0c0"/>
<rect x="1149.40" y="1325.14" width="33.75" height="15.48" fill="#eeeef4"/>
<rect x="1182.65" y="1325.14" width="33.75" height="15.48" fill="#f0c0c0"/>
<rect x="1249.15" y="1325.14" width="33.75" height="15.48" fill="#eaa2a4"/>
<rect x="1082.90" y="1340.12" width="33.75" height="15.48" fill="#eeeef4"/>
<rect x="1116.15" y="1340.12" width="33.75" height="15.48" fill="#f2cdcd"/>
<rect x="1149.40" y="1340.12" width="33.75" height="15.48" fill="#b0b0d4"/>
<rect x="1249.15" y="1340.12" width="33.75" height="15.48" fill="#f5dada"/>
<rect x="1082.90" y="1355.11" width="33.75" height="15.48" fill="#c6c6de"/>
<rect x="1116.15" y="1355.11" width="33.75" height="15.48" fill="#c6c6de"/>
<rect x="1149.40" y="1355.11" width="33.75" height="15.48" fill="#eeeef4"/>
<rect x="1182.65" y="1355.11" width="33.75" height="15.48" fill="#f7e3e3"/>
<rect x="1249.15" y="1355.11" width="33.75" height="15.48" fill="#f2cdcd"/>
<rect x="1082.90" y="1370.09" width="33.75" height="15.48" fill="#eeeef4"/>
<rect x="1116.15" y="1370.09" width="33.75" height="15.48" fill="#f9ecec"/>
<rect x="1149.40" y="1370.09" width="33.75" height="15.48" fill="#eeeef4"/>
<rect x="1182.65" y="1370.09" width="33.75" height="15.48" fill="#eeeef4"/>
<rect x="1082.90" y="1430.02" width="33.75" height="15.48" fill="#f9ecec"/>
<rect x="1116.15" y="1430.02" width="33.75" height="15.48" fill="#c6c6de"/>
<rect x="1149.40" y="1430.02" width="33.75" height="15.48" fill="#6870b0"/>
<rect x="1116.15" y="1445.00" width="33.75" height="15.48" fill="#c6c6de"/>
<rect x="1149.40" y="1445.00" width="33.75" height="15.48" fill="#6870b0"/>
<rect x="1182.65" y="1445.00" width="33.75" height="15.48" fill="#dadaea"/>
<rect x="1082.90" y="1459.99" width="33.75" height="15.48" fill="#dadaea"/>
<rect x="1116.15" y="1459.99" width="33.75" height="15.48" fill="#dadaea"/>
<rect x="1149.40" y="1459.99" width="33.75" height="15.48" fill="#dadaea"/>
<rect x="1182.65" y="1459.99" width="33.75" height="15.48" fill="#a6a6ce"/>
<rect x="1215.90" y="1459.99" width="33.75" height="15.48" fill="#a6a6ce"/>
<rect x="1249.15" y="1459.99" width="33.75" height="15.48" fill="#d0d0e4"/>
<rect x="1082.90" y="1474.97" width="33.75" height="15.48" fill="#c6c6de"/>
<rect x="1116.15" y="1474.97" width="33.75" height="15.48" fill="#eeeef4"/>
<rect x="1149.40" y="1474.97" width="33.75" height="15.48" fill="#8286ba"/>
<rect x="1182.65" y="1474.97" width="33.75" height="15.48" fill="#a6a6ce"/>
<rect x="1249.15" y="1474.97" width="33.75" height="15.48" fill="#d0d0e4"/>
<rect x="1082.90" y="1489.95" width="33.75" height="15.48" fill="#9c9cc8"/>
<rect x="1116.15" y="1489.95" width="33.75" height="15.48" fill="#a6a6ce"/>
<rect x="1149.40" y="1489.95" width="33.75" height="15.48" fill="#a6a6ce"/>
<rect x="1182.65" y="1489.95" width="33.75" height="15.48" fill="#b0b0d4"/>
<rect x="1249.15" y="1489.95" width="33.75" height="15.48" fill="#9c9cc8"/>
<rect x="1082.90" y="1504.94" width="33.75" height="15.48" fill="#c6c6de"/>
<rect x="1116.15" y="1504.94" width="33.75" height="15.48" fill="#b0b0d4"/>
<rect x="1149.40" y="1504.94" width="33.75" height="15.48" fill="#dadaea"/>
<rect x="1182.65" y="1504.94" width="33.75" height="15.48" fill="#b0b0d4"/>
<rect x="1249.15" y="1504.94" width="33.75" height="15.48" fill="#a6a6ce"/>
<rect x="1082.90" y="1519.92" width="33.75" height="15.48" fill="#b0b0d4"/>
<rect x="1116.15" y="1519.92" width="33.75" height="15.48" fill="#c6c6de"/>
<rect x="1149.40" y="1519.92" width="33.75" height="15.48" fill="#bbbbd9"/>
<rect x="1182.65" y="1519.92" width="33.75" height="15.48" fill="#bbbbd9"/>
<rect x="1249.15" y="1519.92" width="33.75" height="15.48" fill="#a6a6ce"/>
<rect x="1082.90" y="1534.90" width="33.75" height="15.48" fill="#b0b0d4"/>
<rect x="1116.15" y="1534.90" width="33.75" height="15.48" fill="#a6a6ce"/>
<rect x="1149.40" y="1534.90" width="33.75" height="15.48" fill="#eaa2a4"/>
<rect x="1182.65" y="1534.90" width="33.75" height="15.48" fill="#d0d0e4"/>
<rect x="1249.15" y="1534.90" width="33.75" height="15.48" fill="#b0b0d4"/>
<rect x="1082.90" y="1549.89" width="33.75" height="15.48" fill="#dadaea"/>
<rect x="1116.15" y="1549.89" width="33.75" height="15.48" fill="#b0b0d4"/>
<rect x="1182.65" y="1549.89" width="33.75" height="15.48" fill="#dadaea"/>
<rect x="1249.15" y="1549.89" width="33.75" height="15.48" fill="#b0b0d4"/>
<rect x="1082.90" y="1564.87" width="33.75" height="15.48" fill="#f9ecec"/>
<rect x="1116.15" y="1564.87" width="33.75" height="15.48" fill="#8286ba"/>
<rect x="1249.15" y="1564.87" width="33.75" height="15.48" fill="#dadaea"/>
<rect x="1116.15" y="1579.85" width="33.75" height="15.48" fill="#8286ba"/>
<rect x="1182.65" y="1579.85" width="33.75" height="15.48" fill="#f7e3e3"/>
<rect x="1082.90" y="1594.83" width="33.75" height="15.48" fill="#dadaea"/>
<rect x="1116.15" y="1594.83" width="33.75" height="15.48" fill="#f5dada"/>
<rect x="1149.40" y="1594.83" width="33.75" height="15.48" fill="#e6888a"/>
<rect x="1182.65" y="1594.83" width="33.75" height="15.48" fill="#c6c6de"/>
<rect x="1215.90" y="1594.83" width="33.75" height="15.48" fill="#6870b0"/>
<rect x="1249.15" y="1594.83" width="33.75" height="15.48" fill="#8f91c1"/>
<rect x="1116.15" y="1609.82" width="33.75" height="15.48" fill="#a6a6ce"/>
<rect x="1149.40" y="1609.82" width="33.75" height="15.48" fill="#ea4c54"/>
<rect x="1182.65" y="1609.82" width="33.75" height="15.48" fill="#f5dada"/>
</g>
<rect x="1282.30" y="1008.50" width="168.30" height="616.30" fill="#fff" stroke="#4a4a4a" stroke-width="1.4"/>
<rect x="1366.60" y="1016.09" width="55.80" height="3.80" fill="#c3c6c6"/>
<rect x="1319.10" y="1031.07" width="47.50" height="3.80" fill="#c3c6c6"/>
<rect x="1353.70" y="1049.80" width="12.90" height="3.80" fill="#8cbc48"/>
<rect x="1366.60" y="1061.04" width="15.90" height="3.80" fill="#c3c6c6"/>
<rect x="1366.60" y="1079.77" width="24.40" height="3.80" fill="#8cbc48"/>
<rect x="1366.60" y="1094.75" width="14.10" height="3.80" fill="#8cbc48"/>
<rect x="1366.60" y="1109.73" width="22.10" height="3.80" fill="#8cbc48"/>
<rect x="1366.60" y="1124.72" width="16.20" height="3.80" fill="#8cbc48"/>
<rect x="1338.80" y="1139.70" width="27.80" height="3.80" fill="#8cbc48"/>
<rect x="1342.70" y="1150.94" width="23.90" height="3.80" fill="#c3c6c6"/>
<rect x="1347.10" y="1165.92" width="19.50" height="3.80" fill="#c3c6c6"/>
<rect x="1345.00" y="1184.65" width="21.60" height="3.80" fill="#8cbc48"/>
<rect x="1357.90" y="1195.89" width="8.70" height="3.80" fill="#c3c6c6"/>
<rect x="1362.50" y="1214.62" width="4.10" height="3.80" fill="#8cbc48"/>
<rect x="1353.20" y="1225.85" width="13.40" height="3.80" fill="#c3c6c6"/>
<rect x="1365.10" y="1244.58" width="1.50" height="3.80" fill="#8cbc48"/>
<rect x="1366.60" y="1255.82" width="3.30" height="3.80" fill="#c3c6c6"/>
<rect x="1366.60" y="1274.55" width="2.60" height="3.80" fill="#8cbc48"/>
<rect x="1366.60" y="1289.53" width="5.40" height="3.80" fill="#8cbc48"/>
<rect x="1366.60" y="1300.77" width="7.50" height="3.80" fill="#c3c6c6"/>
<rect x="1366.60" y="1319.50" width="6.40" height="3.80" fill="#8cbc48"/>
<rect x="1366.60" y="1334.48" width="8.20" height="3.80" fill="#8cbc48"/>
<rect x="1366.60" y="1345.72" width="0.60" height="3.80" fill="#c3c6c6"/>
<rect x="1365.30" y="1364.44" width="1.30" height="3.80" fill="#8cbc48"/>
<rect x="1366.60" y="1375.68" width="0.60" height="3.80" fill="#c3c6c6"/>
<rect x="1366.60" y="1394.41" width="0.60" height="3.80" fill="#8cbc48"/>
<rect x="1366.60" y="1405.65" width="0.60" height="3.80" fill="#c3c6c6"/>
<rect x="1366.60" y="1424.38" width="0.60" height="3.80" fill="#8cbc48"/>
<rect x="1359.70" y="1435.61" width="6.90" height="3.80" fill="#c3c6c6"/>
<rect x="1358.40" y="1454.34" width="8.20" height="3.80" fill="#8cbc48"/>
<rect x="1355.80" y="1465.58" width="10.80" height="3.80" fill="#c3c6c6"/>
<rect x="1354.30" y="1480.56" width="12.30" height="3.80" fill="#c3c6c6"/>
<rect x="1349.60" y="1499.29" width="17.00" height="3.80" fill="#8cbc48"/>
<rect x="1355.60" y="1510.53" width="11.00" height="3.80" fill="#c3c6c6"/>
<rect x="1354.30" y="1525.51" width="12.30" height="3.80" fill="#c3c6c6"/>
<rect x="1360.70" y="1540.49" width="5.90" height="3.80" fill="#c3c6c6"/>
<rect x="1359.40" y="1559.22" width="7.20" height="3.80" fill="#8cbc48"/>
<rect x="1361.20" y="1574.21" width="5.40" height="3.80" fill="#8cbc48"/>
<rect x="1362.50" y="1589.19" width="4.10" height="3.80" fill="#8cbc48"/>
<rect x="1359.70" y="1600.43" width="6.90" height="3.80" fill="#c3c6c6"/>
<rect x="1366.60" y="1615.41" width="6.20" height="3.80" fill="#c3c6c6"/>
<text x="1118.60" y="944.60" font-size="25" fill="#231f20">Average log<tspan font-size="16.5" dy="7">10</tspan><tspan dy="-7">(fold change)</tspan></text>
<text x="1117.00" y="994.40" font-size="25" word-spacing="-1.6" fill="#231f20"><tspan font-style="italic">P</tspan> = 0.1393</text>
<text x="1256.60" y="994.40" font-size="25" fill="#231f20">–1.2</text>
<text x="1365.00" y="994.40" font-size="25" text-anchor="middle" fill="#231f20">0</text>
<text x="1433.20" y="994.40" font-size="25" fill="#231f20">1.2</text>
<text transform="translate(1111.40 1639.50) rotate(-90)" font-size="25" text-anchor="end" fill="#231f20">IL-4</text>
<text transform="translate(1144.80 1639.50) rotate(-90)" font-size="25" text-anchor="end" fill="#231f20">IL-5</text>
<text transform="translate(1173.10 1639.50) rotate(-90)" font-size="25" text-anchor="end" fill="#231f20">IL-1β</text>
<text transform="translate(1206.50 1639.50) rotate(-90)" font-size="25" text-anchor="end" fill="#231f20">IL-17α</text>
<text transform="translate(1245.60 1639.50) rotate(-90)" font-size="25" text-anchor="end" fill="#231f20">CSF2</text>
<text transform="translate(1279.70 1639.50) rotate(-90)" font-size="25" text-anchor="end" fill="#231f20">IL12p70</text>
<g shape-rendering="crispEdges">
<rect x="1500.60" y="1010.50" width="40.25" height="15.48" fill="#e82436"/>
<rect x="1540.35" y="1010.50" width="40.25" height="15.48" fill="#e82436"/>
<rect x="1580.10" y="1010.50" width="40.25" height="15.48" fill="#eaa2a4"/>
<rect x="1619.85" y="1010.50" width="40.25" height="15.48" fill="#da1f33"/>
<rect x="1659.60" y="1010.50" width="40.25" height="15.48" fill="#cc1a30"/>
<rect x="1500.60" y="1025.48" width="40.25" height="15.48" fill="#eeeef4"/>
<rect x="1540.35" y="1025.48" width="40.25" height="15.48" fill="#9c9cc8"/>
<rect x="1580.10" y="1025.48" width="40.25" height="15.48" fill="#3658a4"/>
<rect x="1619.85" y="1025.48" width="40.25" height="15.48" fill="#3658a4"/>
<rect x="1659.60" y="1025.48" width="40.25" height="15.48" fill="#c6c6de"/>
<rect x="1500.60" y="1040.47" width="40.25" height="15.48" fill="#e95c62"/>
<rect x="1540.35" y="1040.47" width="40.25" height="15.48" fill="#3658a4"/>
<rect x="1580.10" y="1040.47" width="40.25" height="15.48" fill="#c6c6de"/>
<rect x="1619.85" y="1040.47" width="40.25" height="15.48" fill="#eaa2a4"/>
<rect x="1659.60" y="1040.47" width="40.25" height="15.48" fill="#edb1b2"/>
<rect x="1500.60" y="1055.45" width="40.25" height="15.48" fill="#3658a4"/>
<rect x="1540.35" y="1055.45" width="40.25" height="15.48" fill="#6870b0"/>
<rect x="1580.10" y="1055.45" width="40.25" height="15.48" fill="#dadaea"/>
<rect x="1619.85" y="1055.45" width="40.25" height="15.48" fill="#bbbbd9"/>
<rect x="1659.60" y="1055.45" width="40.25" height="15.48" fill="#c6c6de"/>
<rect x="1500.60" y="1070.43" width="40.25" height="15.48" fill="#3658a4"/>
<rect x="1580.10" y="1070.43" width="40.25" height="15.48" fill="#c6c6de"/>
<rect x="1619.85" y="1070.43" width="40.25" height="15.48" fill="#dadaea"/>
<rect x="1659.60" y="1070.43" width="40.25" height="15.48" fill="#d0d0e4"/>
<rect x="1500.60" y="1085.41" width="40.25" height="15.48" fill="#d0d0e4"/>
<rect x="1540.35" y="1085.41" width="40.25" height="15.48" fill="#edb1b2"/>
<rect x="1580.10" y="1085.41" width="40.25" height="15.48" fill="#e82436"/>
<rect x="1619.85" y="1085.41" width="40.25" height="15.48" fill="#ea4c54"/>
<rect x="1659.60" y="1085.41" width="40.25" height="15.48" fill="#e82436"/>
<rect x="1500.60" y="1100.40" width="40.25" height="15.48" fill="#dadaea"/>
<rect x="1540.35" y="1100.40" width="40.25" height="15.48" fill="#eaa2a4"/>
<rect x="1580.10" y="1100.40" width="40.25" height="15.48" fill="#e77a7d"/>
<rect x="1619.85" y="1100.40" width="40.25" height="15.48" fill="#ea4c54"/>
<rect x="1659.60" y="1100.40" width="40.25" height="15.48" fill="#ea4c54"/>
<rect x="1500.60" y="1115.38" width="40.25" height="15.48" fill="#e82436"/>
<rect x="1540.35" y="1115.38" width="40.25" height="15.48" fill="#f7e3e3"/>
<rect x="1580.10" y="1115.38" width="40.25" height="15.48" fill="#e86c70"/>
<rect x="1619.85" y="1115.38" width="40.25" height="15.48" fill="#e86c70"/>
<rect x="1659.60" y="1115.38" width="40.25" height="15.48" fill="#e95c62"/>
<rect x="1500.60" y="1130.36" width="40.25" height="15.48" fill="#e82436"/>
<rect x="1540.35" y="1130.36" width="40.25" height="15.48" fill="#f9ecec"/>
<rect x="1580.10" y="1130.36" width="40.25" height="15.48" fill="#f5dada"/>
<rect x="1659.60" y="1130.36" width="40.25" height="15.48" fill="#f9ecec"/>
<rect x="1500.60" y="1145.35" width="40.25" height="15.48" fill="#e82436"/>
<rect x="1540.35" y="1145.35" width="40.25" height="15.48" fill="#f5dada"/>
<rect x="1580.10" y="1145.35" width="40.25" height="15.48" fill="#eaa2a4"/>
<rect x="1619.85" y="1145.35" width="40.25" height="15.48" fill="#edb1b2"/>
<rect x="1659.60" y="1145.35" width="40.25" height="15.48" fill="#e89597"/>
<rect x="1500.60" y="1160.33" width="40.25" height="15.48" fill="#e82436"/>
<rect x="1540.35" y="1160.33" width="40.25" height="15.48" fill="#eaa2a4"/>
<rect x="1580.10" y="1160.33" width="40.25" height="15.48" fill="#f5dada"/>
<rect x="1619.85" y="1160.33" width="40.25" height="15.48" fill="#e77a7d"/>
<rect x="1659.60" y="1160.33" width="40.25" height="15.48" fill="#edb1b2"/>
<rect x="1500.60" y="1175.31" width="40.25" height="15.48" fill="#b0b0d4"/>
<rect x="1540.35" y="1175.31" width="40.25" height="15.48" fill="#f9ecec"/>
<rect x="1580.10" y="1175.31" width="40.25" height="15.48" fill="#e89597"/>
<rect x="1619.85" y="1175.31" width="40.25" height="15.48" fill="#e86c70"/>
<rect x="1659.60" y="1175.31" width="40.25" height="15.48" fill="#eaa2a4"/>
<rect x="1540.35" y="1190.30" width="40.25" height="15.48" fill="#b0b0d4"/>
<rect x="1580.10" y="1190.30" width="40.25" height="15.48" fill="#eaa2a4"/>
<rect x="1619.85" y="1190.30" width="40.25" height="15.48" fill="#eeeef4"/>
<rect x="1659.60" y="1190.30" width="40.25" height="15.48" fill="#f5dada"/>
<rect x="1500.60" y="1205.28" width="40.25" height="15.48" fill="#f7e3e3"/>
<rect x="1540.35" y="1205.28" width="40.25" height="15.48" fill="#9c9cc8"/>
<rect x="1580.10" y="1205.28" width="40.25" height="15.48" fill="#f7e3e3"/>
<rect x="1619.85" y="1205.28" width="40.25" height="15.48" fill="#eaa2a4"/>
<rect x="1659.60" y="1205.28" width="40.25" height="15.48" fill="#edb1b2"/>
<rect x="1540.35" y="1220.26" width="40.25" height="15.48" fill="#9c9cc8"/>
<rect x="1580.10" y="1220.26" width="40.25" height="15.48" fill="#b0b0d4"/>
<rect x="1619.85" y="1220.26" width="40.25" height="15.48" fill="#edb1b2"/>
<rect x="1659.60" y="1220.26" width="40.25" height="15.48" fill="#f5dada"/>
<rect x="1500.60" y="1235.24" width="40.25" height="15.48" fill="#9c9cc8"/>
<rect x="1540.35" y="1235.24" width="40.25" height="15.48" fill="#f2cdcd"/>
<rect x="1580.10" y="1235.24" width="40.25" height="15.48" fill="#f9ecec"/>
<rect x="1659.60" y="1235.24" width="40.25" height="15.48" fill="#f5dada"/>
<rect x="1500.60" y="1250.23" width="40.25" height="15.48" fill="#6870b0"/>
<rect x="1540.35" y="1250.23" width="40.25" height="15.48" fill="#e89597"/>
<rect x="1580.10" y="1250.23" width="40.25" height="15.48" fill="#f2cdcd"/>
<rect x="1619.85" y="1250.23" width="40.25" height="15.48" fill="#f2cdcd"/>
<rect x="1659.60" y="1250.23" width="40.25" height="15.48" fill="#f0c0c0"/>
<rect x="1500.60" y="1265.21" width="40.25" height="15.48" fill="#eeeef4"/>
<rect x="1540.35" y="1265.21" width="40.25" height="15.48" fill="#eaa2a4"/>
<rect x="1580.10" y="1265.21" width="40.25" height="15.48" fill="#e86c70"/>
<rect x="1619.85" y="1265.21" width="40.25" height="15.48" fill="#d0d0e4"/>
<rect x="1659.60" y="1265.21" width="40.25" height="15.48" fill="#dadaea"/>
<rect x="1500.60" y="1280.19" width="40.25" height="15.48" fill="#e6888a"/>
<rect x="1540.35" y="1280.19" width="40.25" height="15.48" fill="#f0c0c0"/>
<rect x="1580.10" y="1280.19" width="40.25" height="15.48" fill="#edb1b2"/>
<rect x="1619.85" y="1280.19" width="40.25" height="15.48" fill="#f7e3e3"/>
<rect x="1659.60" y="1280.19" width="40.25" height="15.48" fill="#f0c0c0"/>
<rect x="1500.60" y="1295.18" width="40.25" height="15.48" fill="#e6888a"/>
<rect x="1540.35" y="1295.18" width="40.25" height="15.48" fill="#edb1b2"/>
<rect x="1580.10" y="1295.18" width="40.25" height="15.48" fill="#f2cdcd"/>
<rect x="1619.85" y="1295.18" width="40.25" height="15.48" fill="#e86c70"/>
<rect x="1659.60" y="1295.18" width="40.25" height="15.48" fill="#f0c0c0"/>
<rect x="1540.35" y="1310.16" width="40.25" height="15.48" fill="#f2cdcd"/>
<rect x="1580.10" y="1310.16" width="40.25" height="15.48" fill="#f2cdcd"/>
<rect x="1619.85" y="1310.16" width="40.25" height="15.48" fill="#b0b0d4"/>
<rect x="1500.60" y="1325.14" width="40.25" height="15.48" fill="#edb1b2"/>
<rect x="1540.35" y="1325.14" width="40.25" height="15.48" fill="#e6888a"/>
<rect x="1580.10" y="1325.14" width="40.25" height="15.48" fill="#dadaea"/>
<rect x="1619.85" y="1325.14" width="40.25" height="15.48" fill="#eeeef4"/>
<rect x="1659.60" y="1325.14" width="40.25" height="15.48" fill="#dadaea"/>
<rect x="1500.60" y="1340.12" width="40.25" height="15.48" fill="#f9ecec"/>
<rect x="1540.35" y="1340.12" width="40.25" height="15.48" fill="#e89597"/>
<rect x="1580.10" y="1340.12" width="40.25" height="15.48" fill="#dadaea"/>
<rect x="1619.85" y="1340.12" width="40.25" height="15.48" fill="#c6c6de"/>
<rect x="1659.60" y="1340.12" width="40.25" height="15.48" fill="#f2cdcd"/>
<rect x="1540.35" y="1355.11" width="40.25" height="15.48" fill="#eaa2a4"/>
<rect x="1580.10" y="1355.11" width="40.25" height="15.48" fill="#e6888a"/>
<rect x="1619.85" y="1355.11" width="40.25" height="15.48" fill="#f7e3e3"/>
<rect x="1659.60" y="1355.11" width="40.25" height="15.48" fill="#edb1b2"/>
<rect x="1540.35" y="1370.09" width="40.25" height="15.48" fill="#e89597"/>
<rect x="1580.10" y="1370.09" width="40.25" height="15.48" fill="#e6888a"/>
<rect x="1619.85" y="1370.09" width="40.25" height="15.48" fill="#f0c0c0"/>
<rect x="1659.60" y="1370.09" width="40.25" height="15.48" fill="#f2cdcd"/>
<rect x="1540.35" y="1385.07" width="40.25" height="15.48" fill="#edb1b2"/>
<rect x="1580.10" y="1385.07" width="40.25" height="15.48" fill="#edb1b2"/>
<rect x="1619.85" y="1385.07" width="40.25" height="15.48" fill="#eaa2a4"/>
<rect x="1659.60" y="1385.07" width="40.25" height="15.48" fill="#f5dada"/>
<rect x="1540.35" y="1400.06" width="40.25" height="15.48" fill="#edb1b2"/>
<rect x="1580.10" y="1400.06" width="40.25" height="15.48" fill="#eaa2a4"/>
<rect x="1619.85" y="1400.06" width="40.25" height="15.48" fill="#f2cdcd"/>
<rect x="1659.60" y="1400.06" width="40.25" height="15.48" fill="#f5dada"/>
<rect x="1500.60" y="1415.04" width="40.25" height="15.48" fill="#eaa2a4"/>
<rect x="1540.35" y="1415.04" width="40.25" height="15.48" fill="#f0c0c0"/>
<rect x="1580.10" y="1415.04" width="40.25" height="15.48" fill="#f5dada"/>
<rect x="1619.85" y="1415.04" width="40.25" height="15.48" fill="#f0c0c0"/>
<rect x="1659.60" y="1415.04" width="40.25" height="15.48" fill="#f0c0c0"/>
<rect x="1500.60" y="1430.02" width="40.25" height="15.48" fill="#f5dada"/>
<rect x="1540.35" y="1430.02" width="40.25" height="15.48" fill="#f5dada"/>
<rect x="1580.10" y="1430.02" width="40.25" height="15.48" fill="#eeeef4"/>
<rect x="1619.85" y="1430.02" width="40.25" height="15.48" fill="#f5dada"/>
<rect x="1659.60" y="1430.02" width="40.25" height="15.48" fill="#f7e3e3"/>
<rect x="1500.60" y="1445.00" width="40.25" height="15.48" fill="#f0c0c0"/>
<rect x="1540.35" y="1445.00" width="40.25" height="15.48" fill="#f0c0c0"/>
<rect x="1580.10" y="1445.00" width="40.25" height="15.48" fill="#f5dada"/>
<rect x="1619.85" y="1445.00" width="40.25" height="15.48" fill="#f5dada"/>
<rect x="1659.60" y="1445.00" width="40.25" height="15.48" fill="#f5dada"/>
<rect x="1540.35" y="1459.99" width="40.25" height="15.48" fill="#eeeef4"/>
<rect x="1580.10" y="1459.99" width="40.25" height="15.48" fill="#eeeef4"/>
<rect x="1619.85" y="1459.99" width="40.25" height="15.48" fill="#f0c0c0"/>
<rect x="1659.60" y="1459.99" width="40.25" height="15.48" fill="#f2cdcd"/>
<rect x="1540.35" y="1474.97" width="40.25" height="15.48" fill="#f5dada"/>
<rect x="1580.10" y="1474.97" width="40.25" height="15.48" fill="#f7e3e3"/>
<rect x="1540.35" y="1489.95" width="40.25" height="15.48" fill="#eeeef4"/>
<rect x="1580.10" y="1489.95" width="40.25" height="15.48" fill="#f5dada"/>
<rect x="1659.60" y="1489.95" width="40.25" height="15.48" fill="#f2cdcd"/>
<rect x="1540.35" y="1504.94" width="40.25" height="15.48" fill="#eeeef4"/>
<rect x="1619.85" y="1504.94" width="40.25" height="15.48" fill="#eeeef4"/>
<rect x="1659.60" y="1504.94" width="40.25" height="15.48" fill="#f9ecec"/>
<rect x="1540.35" y="1519.92" width="40.25" height="15.48" fill="#5f6aad"/>
<rect x="1580.10" y="1519.92" width="40.25" height="15.48" fill="#f9ecec"/>
<rect x="1619.85" y="1519.92" width="40.25" height="15.48" fill="#9c9cc8"/>
<rect x="1659.60" y="1519.92" width="40.25" height="15.48" fill="#9c9cc8"/>
<rect x="1500.60" y="1534.90" width="40.25" height="15.48" fill="#dadaea"/>
<rect x="1540.35" y="1534.90" width="40.25" height="15.48" fill="#eaa2a4"/>
<rect x="1580.10" y="1534.90" width="40.25" height="15.48" fill="#a6a6ce"/>
<rect x="1619.85" y="1534.90" width="40.25" height="15.48" fill="#8286ba"/>
<rect x="1659.60" y="1534.90" width="40.25" height="15.48" fill="#8286ba"/>
<rect x="1500.60" y="1549.89" width="40.25" height="15.48" fill="#c6c6de"/>
<rect x="1540.35" y="1549.89" width="40.25" height="15.48" fill="#f5dada"/>
<rect x="1580.10" y="1549.89" width="40.25" height="15.48" fill="#8f91c1"/>
<rect x="1619.85" y="1549.89" width="40.25" height="15.48" fill="#bbbbd9"/>
<rect x="1659.60" y="1549.89" width="40.25" height="15.48" fill="#c6c6de"/>
<rect x="1540.35" y="1564.87" width="40.25" height="15.48" fill="#c6c6de"/>
<rect x="1580.10" y="1564.87" width="40.25" height="15.48" fill="#8f91c1"/>
<rect x="1619.85" y="1564.87" width="40.25" height="15.48" fill="#8f91c1"/>
<rect x="1659.60" y="1564.87" width="40.25" height="15.48" fill="#b0b0d4"/>
<rect x="1540.35" y="1579.85" width="40.25" height="15.48" fill="#eeeef4"/>
<rect x="1580.10" y="1579.85" width="40.25" height="15.48" fill="#c6c6de"/>
<rect x="1619.85" y="1579.85" width="40.25" height="15.48" fill="#9c9cc8"/>
<rect x="1659.60" y="1579.85" width="40.25" height="15.48" fill="#c6c6de"/>
<rect x="1540.35" y="1594.83" width="40.25" height="15.48" fill="#eeeef4"/>
<rect x="1580.10" y="1594.83" width="40.25" height="15.48" fill="#dadaea"/>
<rect x="1619.85" y="1594.83" width="40.25" height="15.48" fill="#dadaea"/>
<rect x="1659.60" y="1594.83" width="40.25" height="15.48" fill="#dadaea"/>
<rect x="1540.35" y="1609.82" width="40.25" height="15.48" fill="#c6c6de"/>
<rect x="1580.10" y="1609.82" width="40.25" height="15.48" fill="#c6c6de"/>
<rect x="1619.85" y="1609.82" width="40.25" height="15.48" fill="#c6c6de"/>
<rect x="1659.60" y="1609.82" width="40.25" height="15.48" fill="#dadaea"/>
</g>
<rect x="1701.30" y="1010.00" width="164.20" height="614.80" fill="#fff" stroke="#4a4a4a" stroke-width="1.4"/>
<rect x="1783.00" y="1019.84" width="66.00" height="3.80" fill="#8cbc48"/>
<rect x="1747.00" y="1031.07" width="36.00" height="3.80" fill="#c3c6c6"/>
<rect x="1782.50" y="1049.80" width="0.50" height="3.80" fill="#8cbc48"/>
<rect x="1756.50" y="1061.04" width="26.50" height="3.80" fill="#c3c6c6"/>
<rect x="1764.50" y="1076.02" width="18.50" height="3.80" fill="#c3c6c6"/>
<rect x="1783.00" y="1091.01" width="33.90" height="3.80" fill="#c3c6c6"/>
<rect x="1783.00" y="1109.73" width="27.00" height="3.80" fill="#8cbc48"/>
<rect x="1783.00" y="1120.97" width="37.30" height="3.80" fill="#c3c6c6"/>
<rect x="1783.00" y="1139.70" width="15.20" height="3.80" fill="#8cbc48"/>
<rect x="1783.00" y="1150.94" width="23.40" height="3.80" fill="#c3c6c6"/>
<rect x="1783.00" y="1165.92" width="27.00" height="3.80" fill="#c3c6c6"/>
<rect x="1783.00" y="1184.65" width="12.90" height="3.80" fill="#8cbc48"/>
<rect x="1783.00" y="1195.89" width="1.50" height="3.80" fill="#c3c6c6"/>
<rect x="1783.00" y="1214.62" width="4.40" height="3.80" fill="#8cbc48"/>
<rect x="1779.10" y="1229.60" width="3.90" height="3.80" fill="#8cbc48"/>
<rect x="1782.50" y="1244.58" width="0.50" height="3.80" fill="#8cbc48"/>
<rect x="1783.00" y="1259.56" width="3.30" height="3.80" fill="#8cbc48"/>
<rect x="1783.00" y="1270.80" width="6.70" height="3.80" fill="#c3c6c6"/>
<rect x="1783.00" y="1285.78" width="15.40" height="3.80" fill="#c3c6c6"/>
<rect x="1783.00" y="1304.51" width="18.20" height="3.80" fill="#8cbc48"/>
<rect x="1783.00" y="1315.75" width="1.50" height="3.80" fill="#c3c6c6"/>
<rect x="1783.00" y="1330.73" width="5.40" height="3.80" fill="#c3c6c6"/>
<rect x="1783.00" y="1345.72" width="3.90" height="3.80" fill="#c3c6c6"/>
<rect x="1783.00" y="1364.44" width="13.40" height="3.80" fill="#8cbc48"/>
<rect x="1783.00" y="1375.68" width="13.60" height="3.80" fill="#c3c6c6"/>
<rect x="1783.00" y="1394.41" width="11.60" height="3.80" fill="#8cbc48"/>
<rect x="1783.00" y="1405.65" width="9.80" height="3.80" fill="#c3c6c6"/>
<rect x="1783.00" y="1424.38" width="12.10" height="3.80" fill="#8cbc48"/>
<rect x="1783.00" y="1439.36" width="5.40" height="3.80" fill="#8cbc48"/>
<rect x="1783.00" y="1454.34" width="8.50" height="3.80" fill="#8cbc48"/>
<rect x="1783.00" y="1469.32" width="2.80" height="3.80" fill="#8cbc48"/>
<rect x="1783.00" y="1480.56" width="2.80" height="3.80" fill="#c3c6c6"/>
<rect x="1783.00" y="1499.29" width="2.60" height="3.80" fill="#8cbc48"/>
<rect x="1783.00" y="1514.27" width="0.50" height="3.80" fill="#8cbc48"/>
<rect x="1767.10" y="1529.26" width="15.90" height="3.80" fill="#8cbc48"/>
<rect x="1770.40" y="1540.49" width="12.60" height="3.80" fill="#c3c6c6"/>
<rect x="1772.50" y="1555.48" width="10.50" height="3.80" fill="#c3c6c6"/>
<rect x="1767.30" y="1574.21" width="15.70" height="3.80" fill="#8cbc48"/>
<rect x="1774.00" y="1585.44" width="9.00" height="3.80" fill="#c3c6c6"/>
<rect x="1778.40" y="1600.43" width="4.60" height="3.80" fill="#c3c6c6"/>
<rect x="1774.30" y="1619.15" width="8.70" height="3.80" fill="#8cbc48"/>
<text x="1536.00" y="944.60" font-size="25" fill="#231f20">Average log<tspan font-size="16.5" dy="7">10</tspan><tspan dy="-7">(fold change)</tspan></text>
<text x="1545.50" y="994.40" font-size="25" word-spacing="-1.6" fill="#231f20"><tspan font-style="italic">P</tspan> = 0.0375</text>
<text x="1679.20" y="994.40" font-size="25" fill="#231f20">–1.2</text>
<text x="1784.50" y="994.40" font-size="25" text-anchor="middle" fill="#231f20">0</text>
<text x="1848.80" y="994.40" font-size="25" fill="#231f20">1.2</text>
<text transform="translate(1532.70 1639.50) rotate(-90)" font-size="25" text-anchor="end" fill="#231f20">IL-13</text>
<text transform="translate(1573.80 1639.50) rotate(-90)" font-size="25" text-anchor="end" fill="#231f20">CXCL10</text>
<text transform="translate(1614.20 1639.50) rotate(-90)" font-size="25" text-anchor="end" fill="#231f20">CCL4</text>
<text transform="translate(1655.30 1639.50) rotate(-90)" font-size="25" text-anchor="end" fill="#231f20">sIL-2RA</text>
<text transform="translate(1692.50 1639.50) rotate(-90)" font-size="25" text-anchor="end" fill="#231f20">IL-18</text>
<path d="M93.7 1623.5V1022" stroke="#231f20" stroke-width="2" fill="none"/>
<path d="M93.7 1010.4L101.3 1025.5L93.7 1022.5L86.1 1025.5Z" fill="#231f20"/>
<text transform="translate(84.50 1317.00) rotate(-90)" font-size="25" text-anchor="middle" fill="#231f20">Samples</text>
<rect x="1904.30" y="1013.70" width="56.80" height="37.90" fill="#c9cacc"/>
<rect x="1904.30" y="1068.60" width="56.80" height="37.60" fill="#8dbb4c"/>
<text x="1972.40" y="1039.90" font-size="25" fill="#231f20">Post 1st dose</text>
<text x="1972.40" y="1096.70" font-size="25" fill="#231f20">Post 2nd dose</text>
<rect x="2011.60" y="1136.80" width="9.20" height="486.60" fill="url(#gRB)"/>
<text x="2032.30" y="1152.50" font-size="25" fill="#231f20">2</text>
<text x="2032.30" y="1390.00" font-size="25" fill="#231f20">0</text>
<text x="2031.40" y="1627.20" font-size="25" fill="#231f20">–2</text>
<text transform="translate(2084.40 1381.00) rotate(90)" font-size="25" text-anchor="middle" fill="#231f20">log<tspan font-size="16.5" dy="7">10</tspan><tspan dy="-7">(fold change) (post/pre vaccination)</tspan></text>
<text x="4.10" y="1803.10" font-size="28" font-weight="bold" fill="#231f20">d</text>
<text x="1092.00" y="1782.30" font-size="25" text-anchor="middle" fill="#231f20">Program 1 cytokine concentrations</text>
<g fill="none" stroke-linejoin="round" stroke-linecap="round" stroke-width="2.3">
<polyline points="152.2,2009.2 257.1,1842.1" stroke="#1d2a5f"/>
<polyline points="154.3,2117.0 271.6,1871.9 324.7,2110.0" stroke="#1d2a5f"/>
<polyline points="152.2,1931.2 242.2,1961.9" stroke="#1d2a5f"/>
<polyline points="152.2,2094.2 440.4,1845.4" stroke="#1d2a5f"/>
<polyline points="152.2,2107.9 316.4,1969.0" stroke="#1d2a5f"/>
<polyline points="152.2,2102.5 330.5,2070.2 405.6,1949.1" stroke="#1d2a5f"/>
<polyline points="152.2,2090.1 445.0,1981.8" stroke="#1d2a5f"/>
<polyline points="152.2,2096.3 400.6,2015.8" stroke="#1d2a5f"/>
<polyline points="152.2,2059.0 360.8,2114.1" stroke="#1d2a5f"/>
<polyline points="152.2,2067.3 327.6,2114.9" stroke="#1d2a5f"/>
<polyline points="152.2,2114.9 405.6,2073.1" stroke="#1d2a5f"/>
<polyline points="152.2,2096.3 425.1,2081.4" stroke="#1d2a5f"/>
<polyline points="152.2,2077.6 168.0,2045.3" stroke="#1d2a5f"/>
<polyline points="152.2,2110.8 465.3,2110.8" stroke="#1d2a5f"/>
<polyline points="152.2,2121.2 465.3,2124.1" stroke="#1d2a5f"/>
<polyline points="152.2,2100.4 420.9,2106.7" stroke="#1d2a5f"/>
<polyline points="152.2,2117.0 380.7,2119.9" stroke="#1d2a5f"/>
<polyline points="152.2,2123.2 370.3,2125.3" stroke="#1d2a5f"/>
<polyline points="152.2,2119.1 346.3,2124.5" stroke="#1d2a5f"/>
<polyline points="152.2,2112.9 266.7,2124.5" stroke="#1d2a5f"/>
<polyline points="152.2,2104.6 212.3,2124.5" stroke="#1d2a5f"/>
<polyline points="152.2,2069.3 192.8,2100.4" stroke="#1d2a5f"/>
<polyline points="152.2,2114.9 425.1,2110.0" stroke="#1d2a5f"/>
<polyline points="152.2,2092.1 360.8,2114.1" stroke="#1d2a5f"/>
<polyline points="152.2,2061.9 155.5,2123.2" stroke="#1d2a5f"/>
<polyline points="152.2,2098.4 323.5,2106.7" stroke="#1d2a5f"/>
<polyline points="152.2,1993.4 162.6,2110.0" stroke="#f0977a"/>
<polyline points="152.2,2071.4 534.6,2078.9" stroke="#f0977a"/>
<polyline points="152.2,2110.0 247.2,2099.6 663.1,2083.8" stroke="#f0977a"/>
<polyline points="152.2,2124.5 599.3,2118.7" stroke="#f0977a"/>
<polyline points="152.2,2107.9 203.2,2104.6 410.6,2110.0" stroke="#5f7741"/>
<polyline points="152.2,2089.2 182.5,1987.6" stroke="#f2b0c8"/>
</g>
<circle cx="152.2" cy="2009.2" r="2.6" fill="#1d2a5f"/>
<circle cx="257.1" cy="1842.1" r="2.6" fill="#1d2a5f"/>
<circle cx="154.3" cy="2117.0" r="2.6" fill="#1d2a5f"/>
<circle cx="271.6" cy="1871.9" r="2.6" fill="#1d2a5f"/>
<circle cx="324.7" cy="2110.0" r="2.6" fill="#1d2a5f"/>
<circle cx="152.2" cy="1931.2" r="2.6" fill="#1d2a5f"/>
<circle cx="242.2" cy="1961.9" r="2.6" fill="#1d2a5f"/>
<circle cx="152.2" cy="2094.2" r="2.6" fill="#1d2a5f"/>
<circle cx="440.4" cy="1845.4" r="2.6" fill="#1d2a5f"/>
<circle cx="152.2" cy="2107.9" r="2.6" fill="#1d2a5f"/>
<circle cx="316.4" cy="1969.0" r="2.6" fill="#1d2a5f"/>
<circle cx="152.2" cy="2102.5" r="2.6" fill="#1d2a5f"/>
<circle cx="330.5" cy="2070.2" r="2.6" fill="#1d2a5f"/>
<circle cx="405.6" cy="1949.1" r="2.6" fill="#1d2a5f"/>
<circle cx="152.2" cy="2090.1" r="2.6" fill="#1d2a5f"/>
<circle cx="445.0" cy="1981.8" r="2.6" fill="#1d2a5f"/>
<circle cx="152.2" cy="2096.3" r="2.6" fill="#1d2a5f"/>
<circle cx="400.6" cy="2015.8" r="2.6" fill="#1d2a5f"/>
<circle cx="152.2" cy="2059.0" r="2.6" fill="#1d2a5f"/>
<circle cx="360.8" cy="2114.1" r="2.6" fill="#1d2a5f"/>
<circle cx="152.2" cy="2067.3" r="2.6" fill="#1d2a5f"/>
<circle cx="327.6" cy="2114.9" r="2.6" fill="#1d2a5f"/>
<circle cx="152.2" cy="2114.9" r="2.6" fill="#1d2a5f"/>
<circle cx="405.6" cy="2073.1" r="2.6" fill="#1d2a5f"/>
<circle cx="152.2" cy="2096.3" r="2.6" fill="#1d2a5f"/>
<circle cx="425.1" cy="2081.4" r="2.6" fill="#1d2a5f"/>
<circle cx="152.2" cy="2077.6" r="2.6" fill="#1d2a5f"/>
<circle cx="168.0" cy="2045.3" r="2.6" fill="#1d2a5f"/>
<circle cx="152.2" cy="2110.8" r="2.6" fill="#1d2a5f"/>
<circle cx="465.3" cy="2110.8" r="2.6" fill="#1d2a5f"/>
<circle cx="152.2" cy="2121.2" r="2.6" fill="#1d2a5f"/>
<circle cx="465.3" cy="2124.1" r="2.6" fill="#1d2a5f"/>
<circle cx="152.2" cy="2100.4" r="2.6" fill="#1d2a5f"/>
<circle cx="420.9" cy="2106.7" r="2.6" fill="#1d2a5f"/>
<circle cx="152.2" cy="2117.0" r="2.6" fill="#1d2a5f"/>
<circle cx="380.7" cy="2119.9" r="2.6" fill="#1d2a5f"/>
<circle cx="152.2" cy="2123.2" r="2.6" fill="#1d2a5f"/>
<circle cx="370.3" cy="2125.3" r="2.6" fill="#1d2a5f"/>
<circle cx="152.2" cy="2119.1" r="2.6" fill="#1d2a5f"/>
<circle cx="346.3" cy="2124.5" r="2.6" fill="#1d2a5f"/>
<circle cx="152.2" cy="2112.9" r="2.6" fill="#1d2a5f"/>
<circle cx="266.7" cy="2124.5" r="2.6" fill="#1d2a5f"/>
<circle cx="152.2" cy="2104.6" r="2.6" fill="#1d2a5f"/>
<circle cx="212.3" cy="2124.5" r="2.6" fill="#1d2a5f"/>
<circle cx="152.2" cy="2069.3" r="2.6" fill="#1d2a5f"/>
<circle cx="192.8" cy="2100.4" r="2.6" fill="#1d2a5f"/>
<circle cx="152.2" cy="2114.9" r="2.6" fill="#1d2a5f"/>
<circle cx="425.1" cy="2110.0" r="2.6" fill="#1d2a5f"/>
<circle cx="152.2" cy="2092.1" r="2.6" fill="#1d2a5f"/>
<circle cx="360.8" cy="2114.1" r="2.6" fill="#1d2a5f"/>
<circle cx="152.2" cy="2061.9" r="2.6" fill="#1d2a5f"/>
<circle cx="155.5" cy="2123.2" r="2.6" fill="#1d2a5f"/>
<circle cx="152.2" cy="2098.4" r="2.6" fill="#1d2a5f"/>
<circle cx="323.5" cy="2106.7" r="2.6" fill="#1d2a5f"/>
<circle cx="152.2" cy="1993.4" r="2.6" fill="#f0977a"/>
<circle cx="162.6" cy="2110.0" r="2.6" fill="#f0977a"/>
<circle cx="152.2" cy="2071.4" r="2.6" fill="#f0977a"/>
<circle cx="534.6" cy="2078.9" r="2.6" fill="#f0977a"/>
<circle cx="152.2" cy="2110.0" r="2.6" fill="#f0977a"/>
<circle cx="247.2" cy="2099.6" r="2.6" fill="#f0977a"/>
<circle cx="663.1" cy="2083.8" r="2.6" fill="#f0977a"/>
<circle cx="152.2" cy="2124.5" r="2.6" fill="#f0977a"/>
<circle cx="599.3" cy="2118.7" r="2.6" fill="#f0977a"/>
<circle cx="152.2" cy="2107.9" r="2.6" fill="#5f7741"/>
<circle cx="203.2" cy="2104.6" r="2.6" fill="#5f7741"/>
<circle cx="410.6" cy="2110.0" r="2.6" fill="#5f7741"/>
<circle cx="152.2" cy="2089.2" r="2.6" fill="#f2b0c8"/>
<circle cx="182.5" cy="1987.6" r="2.6" fill="#f2b0c8"/>
<path d="M127.3 1827.6V2139H684.3" fill="none" stroke="#7a7a7a" stroke-width="1.4"/>
<text x="406.40" y="1817.60" font-size="25" text-anchor="middle" fill="#231f20">IL-6</text>
<text x="115.20" y="2135.46" font-size="25" text-anchor="end" fill="#231f20">0</text>
<text x="115.20" y="2093.93" font-size="25" text-anchor="end" fill="#231f20">20</text>
<text x="115.20" y="2052.40" font-size="25" text-anchor="end" fill="#231f20">40</text>
<text x="115.20" y="2010.87" font-size="25" text-anchor="end" fill="#231f20">60</text>
<text x="115.20" y="1969.34" font-size="25" text-anchor="end" fill="#231f20">80</text>
<text x="115.20" y="1927.81" font-size="25" text-anchor="end" fill="#231f20">100</text>
<text x="115.20" y="1886.28" font-size="25" text-anchor="end" fill="#231f20">120</text>
<text x="115.20" y="1844.75" font-size="25" text-anchor="end" fill="#231f20">140</text>
<text x="152.20" y="2169.70" font-size="25" text-anchor="middle" fill="#231f20">0</text>
<text x="252.15" y="2169.70" font-size="25" text-anchor="middle" fill="#231f20">20</text>
<text x="352.09" y="2169.70" font-size="25" text-anchor="middle" fill="#231f20">40</text>
<text x="452.04" y="2169.70" font-size="25" text-anchor="middle" fill="#231f20">60</text>
<text x="551.98" y="2169.70" font-size="25" text-anchor="middle" fill="#231f20">80</text>
<text x="651.93" y="2169.70" font-size="25" text-anchor="middle" fill="#231f20">100</text>
<text x="406.00" y="2211.20" font-size="25" text-anchor="middle" fill="#231f20">Days after 1st vaccination</text>
<text transform="translate(42.70 1983.00) rotate(-90)" font-size="25" text-anchor="middle" fill="#231f20">Concetration (pg ml<tspan font-size="16" dy="-11.5">–1</tspan><tspan dy="11.5">)</tspan></text>
<g fill="none" stroke-linejoin="round" stroke-linecap="round" stroke-width="2.3">
<polyline points="861.7,2119.1 978.3,1849.5 1030.9,2124.5" stroke="#1d2a5f"/>
<polyline points="863.8,2119.1 1105.6,1842.5" stroke="#1d2a5f"/>
<polyline points="863.8,2119.1 1066.2,2062.3" stroke="#1d2a5f"/>
<polyline points="861.7,2117.9 1036.7,2100.8 1108.5,2123.2" stroke="#1d2a5f"/>
<polyline points="860.9,2116.6 1150.0,2115.4" stroke="#1d2a5f"/>
<polyline points="859.7,2122.4 1168.6,2122.4" stroke="#1d2a5f"/>
<polyline points="859.7,2124.5 1158.3,2124.5" stroke="#1d2a5f"/>
<polyline points="859.7,2119.9 1023.5,2121.6" stroke="#1d2a5f"/>
<polyline points="859.7,2123.2 1127.2,2122.0" stroke="#1d2a5f"/>
<polyline points="859.7,2125.3 1077.4,2124.5" stroke="#1d2a5f"/>
<polyline points="859.7,2121.2 926.0,2124.5" stroke="#1d2a5f"/>
<polyline points="859.7,2124.5 953.8,2124.5 1237.9,2124.1 1301.3,2124.5 1364.8,2124.5" stroke="#f0977a"/>
<polyline points="859.7,2124.5 1114.7,2124.1" stroke="#5f7741"/>
<polyline points="861.7,2122.0 889.9,2119.9" stroke="#f2b0c8"/>
</g>
<circle cx="861.7" cy="2119.1" r="2.6" fill="#1d2a5f"/>
<circle cx="978.3" cy="1849.5" r="2.6" fill="#1d2a5f"/>
<circle cx="1030.9" cy="2124.5" r="2.6" fill="#1d2a5f"/>
<circle cx="863.8" cy="2119.1" r="2.6" fill="#1d2a5f"/>
<circle cx="1105.6" cy="1842.5" r="2.6" fill="#1d2a5f"/>
<circle cx="863.8" cy="2119.1" r="2.6" fill="#1d2a5f"/>
<circle cx="1066.2" cy="2062.3" r="2.6" fill="#1d2a5f"/>
<circle cx="861.7" cy="2117.9" r="2.6" fill="#1d2a5f"/>
<circle cx="1036.7" cy="2100.8" r="2.6" fill="#1d2a5f"/>
<circle cx="1108.5" cy="2123.2" r="2.6" fill="#1d2a5f"/>
<circle cx="860.9" cy="2116.6" r="2.6" fill="#1d2a5f"/>
<circle cx="1150.0" cy="2115.4" r="2.6" fill="#1d2a5f"/>
<circle cx="859.7" cy="2122.4" r="2.6" fill="#1d2a5f"/>
<circle cx="1168.6" cy="2122.4" r="2.6" fill="#1d2a5f"/>
<circle cx="859.7" cy="2124.5" r="2.6" fill="#1d2a5f"/>
<circle cx="1158.3" cy="2124.5" r="2.6" fill="#1d2a5f"/>
<circle cx="859.7" cy="2119.9" r="2.6" fill="#1d2a5f"/>
<circle cx="1023.5" cy="2121.6" r="2.6" fill="#1d2a5f"/>
<circle cx="859.7" cy="2123.2" r="2.6" fill="#1d2a5f"/>
<circle cx="1127.2" cy="2122.0" r="2.6" fill="#1d2a5f"/>
<circle cx="859.7" cy="2125.3" r="2.6" fill="#1d2a5f"/>
<circle cx="1077.4" cy="2124.5" r="2.6" fill="#1d2a5f"/>
<circle cx="859.7" cy="2121.2" r="2.6" fill="#1d2a5f"/>
<circle cx="926.0" cy="2124.5" r="2.6" fill="#1d2a5f"/>
<circle cx="859.7" cy="2124.5" r="2.6" fill="#f0977a"/>
<circle cx="953.8" cy="2124.5" r="2.6" fill="#f0977a"/>
<circle cx="1237.9" cy="2124.1" r="2.6" fill="#f0977a"/>
<circle cx="1301.3" cy="2124.5" r="2.6" fill="#f0977a"/>
<circle cx="1364.8" cy="2124.5" r="2.6" fill="#f0977a"/>
<circle cx="859.7" cy="2124.5" r="2.6" fill="#5f7741"/>
<circle cx="1114.7" cy="2124.1" r="2.6" fill="#5f7741"/>
<circle cx="861.7" cy="2122.0" r="2.6" fill="#f2b0c8"/>
<circle cx="889.9" cy="2119.9" r="2.6" fill="#f2b0c8"/>
<path d="M835.6 1828V2138.6H1382.6" fill="none" stroke="#7a7a7a" stroke-width="1.4"/>
<text x="1091.50" y="1814.30" font-size="25" text-anchor="middle" fill="#231f20">CXCL8</text>
<text x="822.70" y="2130.90" font-size="25" text-anchor="end" fill="#231f20">0</text>
<text x="822.70" y="2078.23" font-size="25" text-anchor="end" fill="#231f20">1,000</text>
<text x="822.70" y="2025.56" font-size="25" text-anchor="end" fill="#231f20">2,000</text>
<text x="822.70" y="1972.89" font-size="25" text-anchor="end" fill="#231f20">3,000</text>
<text x="822.70" y="1920.22" font-size="25" text-anchor="end" fill="#231f20">4,000</text>
<text x="822.70" y="1867.56" font-size="25" text-anchor="end" fill="#231f20">5,000</text>
<text x="859.66" y="2169.70" font-size="25" text-anchor="middle" fill="#231f20">0</text>
<text x="958.37" y="2169.70" font-size="25" text-anchor="middle" fill="#231f20">20</text>
<text x="1057.07" y="2169.70" font-size="25" text-anchor="middle" fill="#231f20">40</text>
<text x="1155.77" y="2169.70" font-size="25" text-anchor="middle" fill="#231f20">60</text>
<text x="1254.47" y="2169.70" font-size="25" text-anchor="middle" fill="#231f20">80</text>
<text x="1353.17" y="2169.70" font-size="25" text-anchor="middle" fill="#231f20">100</text>
<text x="1109.00" y="2211.20" font-size="25" text-anchor="middle" fill="#231f20">Days after 1st vaccination</text>
<text transform="translate(731.10 1983.00) rotate(-90)" font-size="25" text-anchor="middle" fill="#231f20">Concetration (pg ml<tspan font-size="16" dy="-11.5">–1</tspan><tspan dy="11.5">)</tspan></text>
<g fill="none" stroke-linejoin="round" stroke-linecap="round" stroke-width="2.3">
<polyline points="1565.9,2110.8 1802.7,1850.8" stroke="#1d2a5f"/>
<polyline points="1562.6,2098.4 1814.7,2111.6" stroke="#1d2a5f"/>
<polyline points="1590.8,2107.5 1677.9,2080.1 1721.4,2114.9" stroke="#1d2a5f"/>
<polyline points="1562.6,2117.0 1623.9,2110.8 1735.9,2099.2 1764.1,2106.7 1808.5,2111.6" stroke="#1d2a5f"/>
<polyline points="1562.6,2114.9 1841.7,2105.4" stroke="#1d2a5f"/>
<polyline points="1562.6,2117.0 1865.3,2113.3" stroke="#1d2a5f"/>
<polyline points="1562.6,2119.9 1856.2,2121.2" stroke="#1d2a5f"/>
<polyline points="1562.6,2119.1 1865.3,2120.3" stroke="#1d2a5f"/>
<polyline points="1562.6,2114.1 1845.8,2118.3" stroke="#1d2a5f"/>
<polyline points="1562.6,2121.2 1721.4,2124.5" stroke="#1d2a5f"/>
<polyline points="1562.6,2122.4 1822.2,2123.2" stroke="#1d2a5f"/>
<polyline points="1562.6,2112.9 1764.9,2115.8" stroke="#1d2a5f"/>
<polyline points="1562.6,2118.3 1619.8,2124.1" stroke="#1d2a5f"/>
<polyline points="1562.6,2110.0 1808.5,2114.9" stroke="#1d2a5f"/>
<polyline points="1562.6,2124.5 1827.2,2118.3 2058.2,2122.0" stroke="#f0977a"/>
<polyline points="1562.6,2123.2 1995.1,2120.8" stroke="#f0977a"/>
<polyline points="1562.6,2122.0 1935.0,2120.3" stroke="#f0977a"/>
<polyline points="1562.6,2116.2 1605.3,2115.8 1812.6,2116.6" stroke="#5f7741"/>
<polyline points="1565.9,2111.6 1588.7,2106.7" stroke="#f2b0c8"/>
</g>
<circle cx="1565.9" cy="2110.8" r="2.6" fill="#1d2a5f"/>
<circle cx="1802.7" cy="1850.8" r="2.6" fill="#1d2a5f"/>
<circle cx="1562.6" cy="2098.4" r="2.6" fill="#1d2a5f"/>
<circle cx="1814.7" cy="2111.6" r="2.6" fill="#1d2a5f"/>
<circle cx="1590.8" cy="2107.5" r="2.6" fill="#1d2a5f"/>
<circle cx="1677.9" cy="2080.1" r="2.6" fill="#1d2a5f"/>
<circle cx="1721.4" cy="2114.9" r="2.6" fill="#1d2a5f"/>
<circle cx="1562.6" cy="2117.0" r="2.6" fill="#1d2a5f"/>
<circle cx="1623.9" cy="2110.8" r="2.6" fill="#1d2a5f"/>
<circle cx="1735.9" cy="2099.2" r="2.6" fill="#1d2a5f"/>
<circle cx="1764.1" cy="2106.7" r="2.6" fill="#1d2a5f"/>
<circle cx="1808.5" cy="2111.6" r="2.6" fill="#1d2a5f"/>
<circle cx="1562.6" cy="2114.9" r="2.6" fill="#1d2a5f"/>
<circle cx="1841.7" cy="2105.4" r="2.6" fill="#1d2a5f"/>
<circle cx="1562.6" cy="2117.0" r="2.6" fill="#1d2a5f"/>
<circle cx="1865.3" cy="2113.3" r="2.6" fill="#1d2a5f"/>
<circle cx="1562.6" cy="2119.9" r="2.6" fill="#1d2a5f"/>
<circle cx="1856.2" cy="2121.2" r="2.6" fill="#1d2a5f"/>
<circle cx="1562.6" cy="2119.1" r="2.6" fill="#1d2a5f"/>
<circle cx="1865.3" cy="2120.3" r="2.6" fill="#1d2a5f"/>
<circle cx="1562.6" cy="2114.1" r="2.6" fill="#1d2a5f"/>
<circle cx="1845.8" cy="2118.3" r="2.6" fill="#1d2a5f"/>
<circle cx="1562.6" cy="2121.2" r="2.6" fill="#1d2a5f"/>
<circle cx="1721.4" cy="2124.5" r="2.6" fill="#1d2a5f"/>
<circle cx="1562.6" cy="2122.4" r="2.6" fill="#1d2a5f"/>
<circle cx="1822.2" cy="2123.2" r="2.6" fill="#1d2a5f"/>
<circle cx="1562.6" cy="2112.9" r="2.6" fill="#1d2a5f"/>
<circle cx="1764.9" cy="2115.8" r="2.6" fill="#1d2a5f"/>
<circle cx="1562.6" cy="2118.3" r="2.6" fill="#1d2a5f"/>
<circle cx="1619.8" cy="2124.1" r="2.6" fill="#1d2a5f"/>
<circle cx="1562.6" cy="2110.0" r="2.6" fill="#1d2a5f"/>
<circle cx="1808.5" cy="2114.9" r="2.6" fill="#1d2a5f"/>
<circle cx="1562.6" cy="2124.5" r="2.6" fill="#f0977a"/>
<circle cx="1827.2" cy="2118.3" r="2.6" fill="#f0977a"/>
<circle cx="2058.2" cy="2122.0" r="2.6" fill="#f0977a"/>
<circle cx="1562.6" cy="2123.2" r="2.6" fill="#f0977a"/>
<circle cx="1995.1" cy="2120.8" r="2.6" fill="#f0977a"/>
<circle cx="1562.6" cy="2122.0" r="2.6" fill="#f0977a"/>
<circle cx="1935.0" cy="2120.3" r="2.6" fill="#f0977a"/>
<circle cx="1562.6" cy="2116.2" r="2.6" fill="#5f7741"/>
<circle cx="1605.3" cy="2115.8" r="2.6" fill="#5f7741"/>
<circle cx="1812.6" cy="2116.6" r="2.6" fill="#5f7741"/>
<circle cx="1565.9" cy="2111.6" r="2.6" fill="#f2b0c8"/>
<circle cx="1588.7" cy="2106.7" r="2.6" fill="#f2b0c8"/>
<path d="M1537.7 1837.1V2138.6H2083.4" fill="none" stroke="#7a7a7a" stroke-width="1.4"/>
<text x="1810.20" y="1817.60" font-size="25" text-anchor="middle" fill="#231f20">CCL2</text>
<text x="1525.60" y="2134.22" font-size="25" text-anchor="end" fill="#231f20">0</text>
<text x="1525.60" y="2068.59" font-size="25" text-anchor="end" fill="#231f20">2,000</text>
<text x="1525.60" y="2002.96" font-size="25" text-anchor="end" fill="#231f20">4,000</text>
<text x="1525.60" y="1937.33" font-size="25" text-anchor="end" fill="#231f20">6,000</text>
<text x="1525.60" y="1871.70" font-size="25" text-anchor="end" fill="#231f20">8,000</text>
<text x="1564.64" y="2169.70" font-size="25" text-anchor="middle" fill="#231f20">0</text>
<text x="1663.18" y="2169.70" font-size="25" text-anchor="middle" fill="#231f20">20</text>
<text x="1761.71" y="2169.70" font-size="25" text-anchor="middle" fill="#231f20">40</text>
<text x="1860.25" y="2169.70" font-size="25" text-anchor="middle" fill="#231f20">60</text>
<text x="1958.79" y="2169.70" font-size="25" text-anchor="middle" fill="#231f20">80</text>
<text x="2057.32" y="2169.70" font-size="25" text-anchor="middle" fill="#231f20">100</text>
<text x="1810.50" y="2211.20" font-size="25" text-anchor="middle" fill="#231f20">Days after 1st vaccination</text>
<text transform="translate(1436.50 1983.00) rotate(-90)" font-size="25" text-anchor="middle" fill="#231f20">Concetration (pg ml<tspan font-size="16" dy="-11.5">–1</tspan><tspan dy="11.5">)</tspan></text>
<g fill="none" stroke-linejoin="round" stroke-linecap="round" stroke-width="2.3">
<polyline points="152.2,2512.0 439.6,2308.4" stroke="#1d2a5f"/>
<polyline points="152.2,2512.0 400.2,2383.4" stroke="#1d2a5f"/>
<polyline points="161.7,2553.5 271.6,2395.9 321.4,2557.6" stroke="#1d2a5f"/>
<polyline points="152.2,2528.6 257.1,2506.2" stroke="#1d2a5f"/>
<polyline points="152.2,2512.0 317.3,2539.0" stroke="#1d2a5f"/>
<polyline points="152.2,2528.6 464.5,2518.6" stroke="#1d2a5f"/>
<polyline points="152.2,2530.7 360.8,2537.3" stroke="#1d2a5f"/>
<polyline points="152.2,2565.9 444.6,2535.6" stroke="#1d2a5f"/>
<polyline points="152.2,2539.0 197.0,2542.3" stroke="#1d2a5f"/>
<polyline points="152.2,2541.0 192.0,2536.9" stroke="#1d2a5f"/>
<polyline points="152.2,2552.6 319.3,2557.6" stroke="#1d2a5f"/>
<polyline points="152.2,2565.9 216.9,2556.0 419.7,2557.6" stroke="#1d2a5f"/>
<polyline points="152.2,2570.1 425.1,2559.7" stroke="#1d2a5f"/>
<polyline points="152.2,2574.2 423.0,2569.2" stroke="#1d2a5f"/>
<polyline points="152.2,2578.4 405.6,2575.0" stroke="#1d2a5f"/>
<polyline points="152.2,2582.5 454.9,2578.4" stroke="#1d2a5f"/>
<polyline points="152.2,2582.5 380.7,2582.5" stroke="#1d2a5f"/>
<polyline points="152.2,2586.7 346.3,2589.1" stroke="#1d2a5f"/>
<polyline points="152.2,2586.7 464.5,2588.7" stroke="#1d2a5f"/>
<polyline points="152.2,2561.8 364.9,2578.4" stroke="#1d2a5f"/>
<polyline points="152.2,2526.5 317.3,2551.4" stroke="#1d2a5f"/>
<polyline points="152.2,2576.3 325.6,2574.2" stroke="#1d2a5f"/>
<polyline points="152.2,2580.4 369.1,2580.4" stroke="#1d2a5f"/>
<polyline points="152.2,2584.6 265.4,2582.5" stroke="#1d2a5f"/>
<polyline points="152.2,2545.2 155.5,2557.6" stroke="#1d2a5f"/>
<polyline points="152.2,2516.2 162.6,2561.8" stroke="#f0977a"/>
<polyline points="152.2,2570.9 533.7,2566.7" stroke="#f0977a"/>
<polyline points="152.2,2587.5 246.8,2586.7 598.0,2585.0" stroke="#f0977a"/>
<polyline points="152.2,2587.5 662.3,2587.5" stroke="#f0977a"/>
<polyline points="152.2,2563.0 197.0,2570.9 410.6,2570.9" stroke="#5f7741"/>
<polyline points="152.2,2570.9 182.5,2582.9" stroke="#f2b0c8"/>
</g>
<circle cx="152.2" cy="2512.0" r="2.6" fill="#1d2a5f"/>
<circle cx="439.6" cy="2308.4" r="2.6" fill="#1d2a5f"/>
<circle cx="152.2" cy="2512.0" r="2.6" fill="#1d2a5f"/>
<circle cx="400.2" cy="2383.4" r="2.6" fill="#1d2a5f"/>
<circle cx="161.7" cy="2553.5" r="2.6" fill="#1d2a5f"/>
<circle cx="271.6" cy="2395.9" r="2.6" fill="#1d2a5f"/>
<circle cx="321.4" cy="2557.6" r="2.6" fill="#1d2a5f"/>
<circle cx="152.2" cy="2528.6" r="2.6" fill="#1d2a5f"/>
<circle cx="257.1" cy="2506.2" r="2.6" fill="#1d2a5f"/>
<circle cx="152.2" cy="2512.0" r="2.6" fill="#1d2a5f"/>
<circle cx="317.3" cy="2539.0" r="2.6" fill="#1d2a5f"/>
<circle cx="152.2" cy="2528.6" r="2.6" fill="#1d2a5f"/>
<circle cx="464.5" cy="2518.6" r="2.6" fill="#1d2a5f"/>
<circle cx="152.2" cy="2530.7" r="2.6" fill="#1d2a5f"/>
<circle cx="360.8" cy="2537.3" r="2.6" fill="#1d2a5f"/>
<circle cx="152.2" cy="2565.9" r="2.6" fill="#1d2a5f"/>
<circle cx="444.6" cy="2535.6" r="2.6" fill="#1d2a5f"/>
<circle cx="152.2" cy="2539.0" r="2.6" fill="#1d2a5f"/>
<circle cx="197.0" cy="2542.3" r="2.6" fill="#1d2a5f"/>
<circle cx="152.2" cy="2541.0" r="2.6" fill="#1d2a5f"/>
<circle cx="192.0" cy="2536.9" r="2.6" fill="#1d2a5f"/>
<circle cx="152.2" cy="2552.6" r="2.6" fill="#1d2a5f"/>
<circle cx="319.3" cy="2557.6" r="2.6" fill="#1d2a5f"/>
<circle cx="152.2" cy="2565.9" r="2.6" fill="#1d2a5f"/>
<circle cx="216.9" cy="2556.0" r="2.6" fill="#1d2a5f"/>
<circle cx="419.7" cy="2557.6" r="2.6" fill="#1d2a5f"/>
<circle cx="152.2" cy="2570.1" r="2.6" fill="#1d2a5f"/>
<circle cx="425.1" cy="2559.7" r="2.6" fill="#1d2a5f"/>
<circle cx="152.2" cy="2574.2" r="2.6" fill="#1d2a5f"/>
<circle cx="423.0" cy="2569.2" r="2.6" fill="#1d2a5f"/>
<circle cx="152.2" cy="2578.4" r="2.6" fill="#1d2a5f"/>
<circle cx="405.6" cy="2575.0" r="2.6" fill="#1d2a5f"/>
<circle cx="152.2" cy="2582.5" r="2.6" fill="#1d2a5f"/>
<circle cx="454.9" cy="2578.4" r="2.6" fill="#1d2a5f"/>
<circle cx="152.2" cy="2582.5" r="2.6" fill="#1d2a5f"/>
<circle cx="380.7" cy="2582.5" r="2.6" fill="#1d2a5f"/>
<circle cx="152.2" cy="2586.7" r="2.6" fill="#1d2a5f"/>
<circle cx="346.3" cy="2589.1" r="2.6" fill="#1d2a5f"/>
<circle cx="152.2" cy="2586.7" r="2.6" fill="#1d2a5f"/>
<circle cx="464.5" cy="2588.7" r="2.6" fill="#1d2a5f"/>
<circle cx="152.2" cy="2561.8" r="2.6" fill="#1d2a5f"/>
<circle cx="364.9" cy="2578.4" r="2.6" fill="#1d2a5f"/>
<circle cx="152.2" cy="2526.5" r="2.6" fill="#1d2a5f"/>
<circle cx="317.3" cy="2551.4" r="2.6" fill="#1d2a5f"/>
<circle cx="152.2" cy="2576.3" r="2.6" fill="#1d2a5f"/>
<circle cx="325.6" cy="2574.2" r="2.6" fill="#1d2a5f"/>
<circle cx="152.2" cy="2580.4" r="2.6" fill="#1d2a5f"/>
<circle cx="369.1" cy="2580.4" r="2.6" fill="#1d2a5f"/>
<circle cx="152.2" cy="2584.6" r="2.6" fill="#1d2a5f"/>
<circle cx="265.4" cy="2582.5" r="2.6" fill="#1d2a5f"/>
<circle cx="152.2" cy="2545.2" r="2.6" fill="#1d2a5f"/>
<circle cx="155.5" cy="2557.6" r="2.6" fill="#1d2a5f"/>
<circle cx="152.2" cy="2516.2" r="2.6" fill="#f0977a"/>
<circle cx="162.6" cy="2561.8" r="2.6" fill="#f0977a"/>
<circle cx="152.2" cy="2570.9" r="2.6" fill="#f0977a"/>
<circle cx="533.7" cy="2566.7" r="2.6" fill="#f0977a"/>
<circle cx="152.2" cy="2587.5" r="2.6" fill="#f0977a"/>
<circle cx="246.8" cy="2586.7" r="2.6" fill="#f0977a"/>
<circle cx="598.0" cy="2585.0" r="2.6" fill="#f0977a"/>
<circle cx="152.2" cy="2587.5" r="2.6" fill="#f0977a"/>
<circle cx="662.3" cy="2587.5" r="2.6" fill="#f0977a"/>
<circle cx="152.2" cy="2563.0" r="2.6" fill="#5f7741"/>
<circle cx="197.0" cy="2570.9" r="2.6" fill="#5f7741"/>
<circle cx="410.6" cy="2570.9" r="2.6" fill="#5f7741"/>
<circle cx="152.2" cy="2570.9" r="2.6" fill="#f2b0c8"/>
<circle cx="182.5" cy="2582.9" r="2.6" fill="#f2b0c8"/>
<path d="M126.9 2294.3V2603.2H683.4" fill="none" stroke="#7a7a7a" stroke-width="1.4"/>
<text x="405.40" y="2279.80" font-size="25" text-anchor="middle" fill="#231f20">sIL-1RA</text>
<text x="115.20" y="2596.38" font-size="25" text-anchor="end" fill="#231f20">0</text>
<text x="115.20" y="2547.65" font-size="25" text-anchor="end" fill="#231f20">1,000</text>
<text x="115.20" y="2498.93" font-size="25" text-anchor="end" fill="#231f20">2,000</text>
<text x="115.20" y="2450.20" font-size="25" text-anchor="end" fill="#231f20">3,000</text>
<text x="115.20" y="2401.47" font-size="25" text-anchor="end" fill="#231f20">4,000</text>
<text x="115.20" y="2352.74" font-size="25" text-anchor="end" fill="#231f20">5,000</text>
<text x="115.20" y="2304.01" font-size="25" text-anchor="end" fill="#231f20">6,000</text>
<text x="148.88" y="2633.10" font-size="25" text-anchor="middle" fill="#231f20">0</text>
<text x="253.89" y="2633.10" font-size="25" text-anchor="middle" fill="#231f20">20</text>
<text x="358.89" y="2633.10" font-size="25" text-anchor="middle" fill="#231f20">40</text>
<text x="463.90" y="2633.10" font-size="25" text-anchor="middle" fill="#231f20">60</text>
<text x="568.90" y="2633.10" font-size="25" text-anchor="middle" fill="#231f20">80</text>
<text x="673.91" y="2633.10" font-size="25" text-anchor="middle" fill="#231f20">100</text>
<text x="406.00" y="2675.00" font-size="25" text-anchor="middle" fill="#231f20">Days after 1st vaccination</text>
<text transform="translate(24.90 2449.00) rotate(-90)" font-size="25" text-anchor="middle" fill="#231f20">Concetration (pg ml<tspan font-size="16" dy="-11.5">–1</tspan><tspan dy="11.5">)</tspan></text>
<g fill="none" stroke-linejoin="round" stroke-linecap="butt" stroke-width="2.3">
<polyline points="863.0,2321.2 1018.5,2438.6" stroke="#1d2a5f"/>
<polyline points="863.0,2389.7 959.6,2341.1" stroke="#1d2a5f"/>
<polyline points="863.0,2482.1 1100.2,2315.8" stroke="#1d2a5f"/>
<polyline points="863.0,2471.4 1123.8,2330.8" stroke="#1d2a5f"/>
<polyline points="863.0,2435.3 1139.6,2489.2 1162.4,2493.3" stroke="#1d2a5f"/>
<polyline points="863.0,2470.5 902.0,2512.0 975.0,2446.9" stroke="#1d2a5f"/>
<polyline points="977.9,2446.9 1027.6,2557.6" stroke="#1d2a5f"/>
<polyline points="863.0,2541.0 1017.7,2474.7" stroke="#1d2a5f"/>
<polyline points="863.0,2539.0 1139.6,2490.4" stroke="#1d2a5f"/>
<polyline points="863.0,2536.9 1118.9,2513.7" stroke="#1d2a5f"/>
<polyline points="863.0,2526.5 944.7,2516.2" stroke="#1d2a5f"/>
<polyline points="863.0,2545.2 872.1,2525.3" stroke="#1d2a5f"/>
<polyline points="863.0,2525.3 882.5,2526.5" stroke="#1d2a5f"/>
<polyline points="863.0,2536.9 920.6,2541.9" stroke="#1d2a5f"/>
<polyline points="863.0,2539.0 1031.8,2561.8" stroke="#1d2a5f"/>
<polyline points="863.0,2549.3 1060.8,2551.4" stroke="#1d2a5f"/>
<polyline points="863.0,2557.6 1123.8,2556.8" stroke="#1d2a5f"/>
<polyline points="863.0,2565.9 1064.9,2576.3" stroke="#1d2a5f"/>
<polyline points="863.0,2568.0 1152.0,2570.1" stroke="#1d2a5f"/>
<polyline points="863.0,2572.1 1141.7,2573.4" stroke="#1d2a5f"/>
<polyline points="863.0,2574.2 1104.3,2588.7" stroke="#1d2a5f"/>
<polyline points="863.0,2585.4 1162.4,2582.1" stroke="#1d2a5f"/>
<polyline points="863.0,2576.3 1080.7,2582.5" stroke="#1d2a5f"/>
<polyline points="863.0,2561.8 1046.3,2585.8" stroke="#1d2a5f"/>
<polyline points="863.0,2570.1 969.6,2574.2" stroke="#1d2a5f"/>
<polyline points="863.0,2532.7 1230.8,2534.4" stroke="#f0977a"/>
<polyline points="863.0,2561.8 1295.1,2565.1 1355.2,2561.4" stroke="#f0977a"/>
<polyline points="863.0,2568.0 953.0,2579.2 1106.4,2572.1 1295.1,2565.1" stroke="#f0977a"/>
<polyline points="863.0,2559.7 903.2,2557.6 1110.6,2557.6" stroke="#5f7741"/>
<polyline points="863.0,2561.8 886.6,2551.4" stroke="#f2b0c8"/>
</g>
<path d="M836 2300.5V2603.2H1378" fill="none" stroke="#7a7a7a" stroke-width="1.4"/>
<text x="1106.40" y="2279.80" font-size="25" text-anchor="middle" fill="#231f20">IL-2</text>
<text x="823.50" y="2597.21" font-size="25" text-anchor="end" fill="#231f20">0</text>
<text x="823.50" y="2556.57" font-size="25" text-anchor="end" fill="#231f20">2.5</text>
<text x="823.50" y="2515.93" font-size="25" text-anchor="end" fill="#231f20">5.0</text>
<text x="823.50" y="2475.29" font-size="25" text-anchor="end" fill="#231f20">7.5</text>
<text x="823.50" y="2434.65" font-size="25" text-anchor="end" fill="#231f20">10.0</text>
<text x="823.50" y="2394.00" font-size="25" text-anchor="end" fill="#231f20">12.5</text>
<text x="823.50" y="2353.36" font-size="25" text-anchor="end" fill="#231f20">15.0</text>
<text x="823.50" y="2312.72" font-size="25" text-anchor="end" fill="#231f20">17.5</text>
<text x="862.98" y="2633.10" font-size="25" text-anchor="middle" fill="#231f20">0</text>
<text x="962.68" y="2633.10" font-size="25" text-anchor="middle" fill="#231f20">20</text>
<text x="1062.38" y="2633.10" font-size="25" text-anchor="middle" fill="#231f20">40</text>
<text x="1162.07" y="2633.10" font-size="25" text-anchor="middle" fill="#231f20">60</text>
<text x="1261.77" y="2633.10" font-size="25" text-anchor="middle" fill="#231f20">80</text>
<text x="1361.47" y="2633.10" font-size="25" text-anchor="middle" fill="#231f20">100</text>
<text x="1107.00" y="2675.00" font-size="25" text-anchor="middle" fill="#231f20">Days after 1st vaccination</text>
<text transform="translate(747.70 2452.00) rotate(-90)" font-size="25" text-anchor="middle" fill="#231f20">Concetration (pg ml<tspan font-size="16" dy="-11.5">–1</tspan><tspan dy="11.5">)</tspan></text>
<rect x="1538.50" y="2291.30" width="92.70" height="38.20" fill="#1d2a5f"/>
<text x="1644.90" y="2317.70" font-size="25" fill="#231f20">BNT162b2</text>
<rect x="1538.50" y="2379.40" width="92.70" height="38.20" fill="#f09a7c"/>
<text x="1644.90" y="2405.80" font-size="25" fill="#231f20">AZD1222</text>
<rect x="1538.50" y="2467.50" width="92.70" height="38.20" fill="#5f7741"/>
<text x="1644.90" y="2493.90" font-size="25" fill="#231f20">mRNA-1273</text>
<rect x="1538.50" y="2555.20" width="92.70" height="38.20" fill="#f2b3c8"/>
<text x="1644.90" y="2581.40" font-size="25" fill="#231f20">AZD1222, mRNA</text>
</svg>
</body></html>
